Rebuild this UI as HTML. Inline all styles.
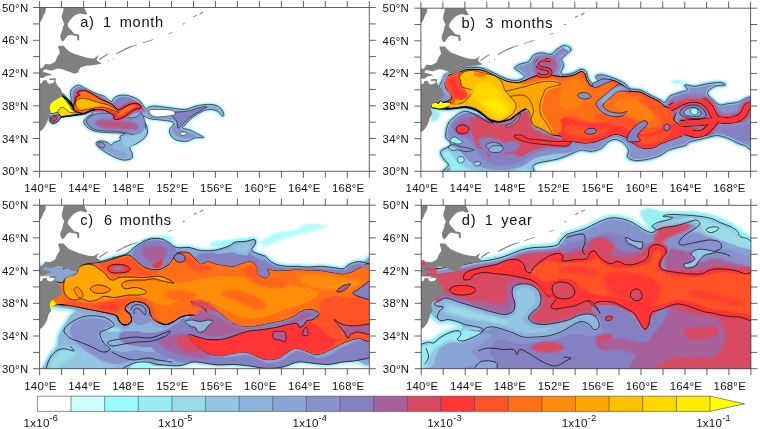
<!DOCTYPE html>
<html><head><meta charset="utf-8"><title>plume</title>
<style>
html,body{margin:0;padding:0;background:#fff;}
body{width:760px;height:429px;overflow:hidden;}
svg{display:block;}
text{font-family:"Liberation Sans",sans-serif;fill:#111;}
.tk{font-size:11.4px;letter-spacing:0.25px;}
.tt{font-size:14.6px;letter-spacing:0.72px;}
.cb{font-size:11.6px;letter-spacing:0.2px;}
</style></head><body>
<svg width="760" height="429" viewBox="0 0 760 429">
<defs>
<clipPath id="cpa"><rect x="39.6" y="7.5" width="329.7" height="163.8"/></clipPath>
<clipPath id="cpb"><rect x="420.9" y="8.2" width="329.7" height="163.1"/></clipPath>
<clipPath id="cpc"><rect x="39.6" y="205.2" width="329.7" height="163.5"/></clipPath>
<clipPath id="cpd"><rect x="421.2" y="205.3" width="329.7" height="163.4"/></clipPath>
<filter id="bl1" x="-10%" y="-10%" width="120%" height="120%"><feGaussianBlur stdDeviation="0.8"/></filter>
<filter id="bl2" x="-10%" y="-10%" width="120%" height="120%"><feGaussianBlur stdDeviation="1.6"/></filter>
</defs>
<rect width="760" height="429" fill="#fff"/>
<!-- panel a -->
<g clip-path="url(#cpa)">
<path d="M61.7 93.8C64.1 93 65 96.2 66.5 97.5C68 98.8 70.2 101.8 70.9 101.7C71.6 101.6 71 98.5 70.9 97.1C70.8 95.7 70.2 94.5 70.3 93.2C70.4 91.9 70.7 90.4 71.6 89.2C72.5 88 74.2 86.6 75.5 85.9C76.8 85.2 78.2 85.1 79.5 85.3C80.8 85.5 81.9 86.4 83.4 87.2C84.9 88 87 89 88.7 89.9C90.5 90.8 92.2 91.7 93.9 92.5C95.7 93.3 97.4 93.8 99.2 94.5C101 95.2 103 95.5 104.5 96.4C106 97.3 107.2 98.8 108.4 99.7C109.6 100.6 110.9 101.8 111.7 101.7C112.5 101.6 112.2 99.9 113 99C113.8 98.1 114.9 97.1 116.3 96.4C117.7 95.8 119.6 95.2 121.6 95.1C123.6 94.9 126 95 128.2 95.5C130.4 96 132.7 96.9 134.7 97.8C136.7 98.7 138.6 99.8 140 101C141.4 102.2 142 103.8 143 105C144 106.2 145 108.2 146 108.5C147 108.8 147.3 107.4 148.8 107C150.3 106.6 151.5 105.9 155 106C158.5 106.1 165 107.2 170 107.8C175 108.3 180.8 109.5 185 109.3C189.2 109 191.7 107.1 195 106.3C198.3 105.5 201.7 104.7 205 104.5C208.3 104.3 212.3 104.3 215 105C217.7 105.7 219.8 107.3 221.3 108.8C222.8 110.3 223.6 112.5 223.8 113.8C224 115 223.6 116.7 222.5 116.3C221.4 115.9 219.6 112.4 217.5 111.3C215.4 110.2 212.5 109.5 210 109.5C207.5 109.5 205.4 110 202.5 111.3C199.6 112.6 195.4 115.2 192.5 117.5C189.6 119.8 186.7 123.2 185 125C183.3 126.8 181.7 127.2 182.5 128C183.3 128.8 187.5 129 190 130C192.5 131 195.2 132.6 197.5 133.8C199.8 135.1 204.2 136.8 203.8 137.5C203.4 138.2 197.7 137.4 195 138C192.3 138.6 190.4 140.9 187.5 141.3C184.6 141.7 180.2 141.3 177.5 140.5C174.8 139.7 172.6 138.1 171.3 136.3C170 134.6 169.1 132.1 169.5 130C169.9 127.9 173.7 125.2 173.8 123.8C173.9 122.3 172.3 121.9 170 121.3C167.7 120.7 163.3 120.4 160 120C156.7 119.6 152.7 119.4 150 118.8C147.3 118.2 145.2 116.3 143.8 116.3C142.4 116.3 140.9 117.3 141.3 118.8C141.7 120.2 145.3 122.7 146.3 125C147.3 127.3 147.9 130.2 147.5 132.5C147.1 134.8 145.7 136.9 143.8 138.8C141.9 140.7 138.6 142.4 136.3 143.8C134 145.2 130.6 145.8 130 147.5C129.4 149.2 132.3 151.9 132.5 153.8C132.7 155.7 133 157.8 131.3 158.8C129.6 159.8 125.6 160.4 122.5 160C119.4 159.6 115.6 157.8 112.5 156.3C109.4 154.9 106.3 153 103.8 151.3C101.3 149.6 98.8 147.8 97.5 146.3C96.2 144.8 95.7 143.4 96.3 142.5C96.9 141.6 99.4 140.8 101.3 140.8C103.2 140.8 105.8 141.8 107.5 142.5C109.2 143.2 110.2 145 111.3 145C112.3 145 112.3 143.3 113.8 142.5C115.2 141.7 119 141 120 140C121 139 119.2 137.3 120 136.3C120.8 135.3 125.4 134.4 125 133.8C124.6 133.2 120.8 133.2 117.5 133C114.2 132.8 108.8 132.8 105 132.5C101.2 132.2 97.9 132.1 95 131.3C92.1 130.5 89.4 129 87.5 127.5C85.6 126 84 124.2 83.8 122.5C83.6 120.8 84.8 119 86.3 117.5C87.8 116 91.9 114.6 92.5 113.8C93.1 113 91.5 112.4 90 112.5C88.5 112.6 85.8 114.1 83.4 114.6C81 115.1 78.3 115.2 75.5 115.5C72.7 115.8 68.6 116.3 66.3 116.6C64 116.9 62.9 116.7 61.5 117.5C60.1 118.3 59.2 120.5 58 121.5C56.8 122.5 55.2 123.3 54 123.5C52.8 123.7 51.3 123.4 50.5 122.5C49.7 121.6 49.2 120.4 49 118C48.8 115.6 48.5 110.7 49 108C49.5 105.3 49.9 104.4 52 102C54.1 99.6 59.3 94.5 61.7 93.8Z" fill="#99eef2" stroke="#99eef2" stroke-width="3" stroke-linejoin="round" filter="url(#bl1)"/>
<path d="M61.7 93.8C64.1 93 65 96.2 66.5 97.5C68 98.8 70.2 101.8 70.9 101.7C71.6 101.6 71 98.5 70.9 97.1C70.8 95.7 70.2 94.5 70.3 93.2C70.4 91.9 70.7 90.4 71.6 89.2C72.5 88 74.2 86.6 75.5 85.9C76.8 85.2 78.2 85.1 79.5 85.3C80.8 85.5 81.9 86.4 83.4 87.2C84.9 88 87 89 88.7 89.9C90.5 90.8 92.2 91.7 93.9 92.5C95.7 93.3 97.4 93.8 99.2 94.5C101 95.2 103 95.5 104.5 96.4C106 97.3 107.2 98.8 108.4 99.7C109.6 100.6 110.9 101.8 111.7 101.7C112.5 101.6 112.2 99.9 113 99C113.8 98.1 114.9 97.1 116.3 96.4C117.7 95.8 119.6 95.2 121.6 95.1C123.6 94.9 126 95 128.2 95.5C130.4 96 132.7 96.9 134.7 97.8C136.7 98.7 138.6 99.8 140 101C141.4 102.2 142 103.8 143 105C144 106.2 145 108.2 146 108.5C147 108.8 147.3 107.4 148.8 107C150.3 106.6 151.5 105.9 155 106C158.5 106.1 165 107.2 170 107.8C175 108.3 180.8 109.5 185 109.3C189.2 109 191.7 107.1 195 106.3C198.3 105.5 201.7 104.7 205 104.5C208.3 104.3 212.3 104.3 215 105C217.7 105.7 219.8 107.3 221.3 108.8C222.8 110.3 223.6 112.5 223.8 113.8C224 115 223.6 116.7 222.5 116.3C221.4 115.9 219.6 112.4 217.5 111.3C215.4 110.2 212.5 109.5 210 109.5C207.5 109.5 205.4 110 202.5 111.3C199.6 112.6 195.4 115.2 192.5 117.5C189.6 119.8 186.7 123.2 185 125C183.3 126.8 181.7 127.2 182.5 128C183.3 128.8 187.5 129 190 130C192.5 131 195.2 132.6 197.5 133.8C199.8 135.1 204.2 136.8 203.8 137.5C203.4 138.2 197.7 137.4 195 138C192.3 138.6 190.4 140.9 187.5 141.3C184.6 141.7 180.2 141.3 177.5 140.5C174.8 139.7 172.6 138.1 171.3 136.3C170 134.6 169.1 132.1 169.5 130C169.9 127.9 173.7 125.2 173.8 123.8C173.9 122.3 172.3 121.9 170 121.3C167.7 120.7 163.3 120.4 160 120C156.7 119.6 152.7 119.4 150 118.8C147.3 118.2 145.2 116.3 143.8 116.3C142.4 116.3 140.9 117.3 141.3 118.8C141.7 120.2 145.3 122.7 146.3 125C147.3 127.3 147.9 130.2 147.5 132.5C147.1 134.8 145.7 136.9 143.8 138.8C141.9 140.7 138.6 142.4 136.3 143.8C134 145.2 130.6 145.8 130 147.5C129.4 149.2 132.3 151.9 132.5 153.8C132.7 155.7 133 157.8 131.3 158.8C129.6 159.8 125.6 160.4 122.5 160C119.4 159.6 115.6 157.8 112.5 156.3C109.4 154.9 106.3 153 103.8 151.3C101.3 149.6 98.8 147.8 97.5 146.3C96.2 144.8 95.7 143.4 96.3 142.5C96.9 141.6 99.4 140.8 101.3 140.8C103.2 140.8 105.8 141.8 107.5 142.5C109.2 143.2 110.2 145 111.3 145C112.3 145 112.3 143.3 113.8 142.5C115.2 141.7 119 141 120 140C121 139 119.2 137.3 120 136.3C120.8 135.3 125.4 134.4 125 133.8C124.6 133.2 120.8 133.2 117.5 133C114.2 132.8 108.8 132.8 105 132.5C101.2 132.2 97.9 132.1 95 131.3C92.1 130.5 89.4 129 87.5 127.5C85.6 126 84 124.2 83.8 122.5C83.6 120.8 84.8 119 86.3 117.5C87.8 116 91.9 114.6 92.5 113.8C93.1 113 91.5 112.4 90 112.5C88.5 112.6 85.8 114.1 83.4 114.6C81 115.1 78.3 115.2 75.5 115.5C72.7 115.8 68.6 116.3 66.3 116.6C64 116.9 62.9 116.7 61.5 117.5C60.1 118.3 59.2 120.5 58 121.5C56.8 122.5 55.2 123.3 54 123.5C52.8 123.7 51.3 123.4 50.5 122.5C49.7 121.6 49.2 120.4 49 118C48.8 115.6 48.5 110.7 49 108C49.5 105.3 49.9 104.4 52 102C54.1 99.6 59.3 94.5 61.7 93.8Z" fill="#8db5dc" stroke="#000" stroke-width="0.6" stroke-linejoin="round"/>
<path d="M146 110.5C146.2 111.8 148 115.7 150 117C152 118.3 155 118.2 158 118.5C161 118.8 165.2 118.7 168 119C170.8 119.3 173.7 119.7 175 120.5C176.3 121.3 176.5 122.6 176 124C175.5 125.4 172.3 127.3 172 129C171.7 130.7 172.7 132.6 174 134C175.3 135.4 177.7 136.8 180 137.5C182.3 138.2 185.3 138.7 188 138.5C190.7 138.3 195.7 137.5 196 136.5C196.3 135.5 192.3 133.6 190 132.5C187.7 131.4 183.7 130.9 182 130C180.3 129.1 179.7 128.3 180 127C180.3 125.7 182.2 123.8 184 122C185.8 120.2 188.3 118 191 116C193.7 114 197.2 111.4 200 110C202.8 108.6 205.7 108 208 107.5C210.3 107 212.2 106.6 214 107C215.8 107.4 218.7 109.8 219 110C219.3 110.2 217.8 109.1 216 108.5C214.2 107.9 211 106.6 208 106.5C205 106.4 201 107.2 198 108C195 108.8 192.3 110.8 190 111.5C187.7 112.2 186.3 111.2 184 112C181.7 112.8 178.7 115.1 176 116C173.3 116.9 171 117.3 168 117.5C165 117.7 160.8 117.6 158 117C155.2 116.4 152.5 115.2 151 114C149.5 112.8 149.8 110.1 149 109.5C148.2 108.9 145.8 109.2 146 110.5Z" fill="#8792cc"/>
<path d="M176 112C178.3 111.8 181.3 111.8 184 111.5C186.7 111.2 189.3 110.7 192 110C194.7 109.3 197.5 108 200 107.5C202.5 107 207 106.4 207 107C207 107.6 202.5 109.5 200 111C197.5 112.5 194.3 114.3 192 116C189.7 117.7 187.8 119.3 186 121C184.2 122.7 182.3 124.8 181 126C179.7 127.2 178.7 128.7 178 128C177.3 127.3 177.7 123.7 177 122C176.3 120.3 175.2 119.5 174 118C172.8 116.5 169.7 114 170 113C170.3 112 173.7 112.2 176 112Z" fill="#8580c2" stroke="#000" stroke-width="0.5" stroke-linejoin="round"/>
<path d="M88 118C89.2 116.8 91.7 115.3 94 114.5C96.3 113.7 99 113.1 102 113C105 112.9 109 113.3 112 114C115 114.7 117.3 116.3 120 117C122.7 117.7 125.3 118 128 118C130.7 118 133.8 117.8 136 117C138.2 116.2 139.7 112.8 141 113C142.3 113.2 143.2 116 144 118C144.8 120 145.3 122.7 145.5 125C145.7 127.3 145.9 130.2 145 132C144.1 133.8 142.5 135.7 140 136C137.5 136.3 133.7 134.8 130 134C126.3 133.2 122.2 132 118 131.5C113.8 131 108.8 131.3 105 131C101.2 130.7 97.7 130.3 95 129.5C92.3 128.7 90.4 127.2 89 126C87.6 124.8 86.7 123.3 86.5 122C86.3 120.7 86.8 119.2 88 118Z" fill="#8792cc" stroke="#000" stroke-width="0.5" stroke-linejoin="round"/>
<path d="M96 121C97.2 119.8 101 119.2 104 119C107 118.8 110.7 119.2 114 119.5C117.3 119.8 121 120.6 124 121C127 121.4 129.7 121.3 132 122C134.3 122.7 137.3 123.8 138 125C138.7 126.2 137.7 128.7 136 129.5C134.3 130.3 131.3 130.1 128 130C124.7 129.9 120 129.2 116 129C112 128.8 107.2 129 104 128.5C100.8 128 98.3 127.2 97 126C95.7 124.8 94.8 122.2 96 121Z" fill="#a8609a" filter="url(#bl1)"/>
<path d="M102 122.5C103 121.7 107 121.5 110 121.5C113 121.5 117 122.1 120 122.5C123 122.9 126 123.3 128 124C130 124.7 132.3 125.8 132 126.5C131.7 127.2 129 127.8 126 128C123 128.2 117.7 127.8 114 127.5C110.3 127.2 106 127.3 104 126.5C102 125.7 101 123.3 102 122.5Z" fill="#d84a62" opacity="0.45" filter="url(#bl1)"/>
<path d="M100 143C101.1 142.8 104.2 143.8 106 144.5C107.8 145.2 109.3 147.4 111 147.5C112.7 147.6 114.2 145.9 116 145C117.8 144.1 120.3 143.3 122 142C123.7 140.7 124.3 138 126 137C127.7 136 129.7 136 132 136C134.3 136 139.3 136 140 137C140.7 138 137.7 140.4 136 142C134.3 143.6 130.8 144.7 130 146.5C129.2 148.3 131.2 151.2 131 153C130.8 154.8 130.5 156.2 129 157C127.5 157.8 124.7 158.4 122 158C119.3 157.6 115.8 155.8 113 154.5C110.2 153.2 107.2 151.4 105 150C102.8 148.6 100.3 147.2 99.5 146C98.7 144.8 98.9 143.2 100 143Z" fill="#8db5dc" opacity="0.0"/>
<path d="M124 136.5C125.7 135.5 129.2 136.1 132 135.5C134.8 134.9 138.8 134.2 141 133C143.2 131.8 144.2 128.1 145 128C145.8 127.9 146.3 130.8 146 132.5C145.7 134.2 144.7 136.2 143 138C141.3 139.8 138.2 141.5 136 143C133.8 144.5 131.7 146.5 130 147C128.3 147.5 127.3 146.9 126 146C124.7 145.1 122.3 143.1 122 141.5C121.7 139.9 122.3 137.5 124 136.5Z" fill="#92c6e2"/>
<path d="M99 143C99.8 142.2 102.3 141.8 104 142C105.7 142.2 107.5 143.6 109 144.5C110.5 145.4 111.5 146.6 113 147.5C114.5 148.4 116.2 149.2 118 150C119.8 150.8 122.3 151.2 124 152C125.7 152.8 128.3 154 128 155C127.7 156 124.5 158.1 122 158C119.5 157.9 115.8 155.8 113 154.5C110.2 153.2 107.2 151.8 105 150.5C102.8 149.2 100.5 148.2 99.5 147C98.5 145.8 98.2 143.8 99 143Z" fill="#8aa4d6"/>
<path d="M98 143C98.5 142.3 100.8 142.2 102 142.5C103.2 142.8 104.8 144.1 105 145C105.2 145.9 104 147.8 103 148C102 148.2 99.8 147.3 99 146.5C98.2 145.7 97.5 143.7 98 143Z" fill="#8792cc" stroke="#000" stroke-width="0.5" stroke-linejoin="round"/>
<path d="M150.1 109.8C151.8 109.3 156.4 109.5 159.6 109.5C162.8 109.5 166.7 109.5 169.1 109.8C171.5 110.1 173 110.6 173.9 111.4C174.8 112.2 175.8 113.7 174.7 114.5C173.6 115.3 170.5 115.7 167.5 116.1C164.5 116.5 159.1 117 156.5 116.9C153.9 116.8 152.9 116.1 151.7 115.3C150.5 114.5 149.6 113.1 149.3 112.2C149 111.3 148.4 110.2 150.1 109.8Z" fill="#ffffff" stroke="#000" stroke-width="0.5" stroke-linejoin="round"/>
<path d="M180.2 133.5C180.4 133 181.9 132.1 183 132C184.1 131.9 186.3 132.5 186.6 133C186.9 133.5 185.8 134.8 185 135.1C184.2 135.4 182.3 135.4 181.5 135.1C180.7 134.8 179.9 134 180.2 133.5Z" fill="#ffffff" stroke="#000" stroke-width="0.5" stroke-linejoin="round"/>
<path d="M72.5 102C72.6 99.7 72.3 96.9 72.5 95C72.7 93.1 72.8 91.8 73.5 90.5C74.2 89.2 75.8 88 77 87.5C78.2 87 79.5 86.9 81 87.2C82.5 87.5 84.2 88.6 86 89.5C87.8 90.4 90 91.5 92 92.5C94 93.5 96 94.6 98 95.5C100 96.4 102.2 97 104 98C105.8 99 107.5 100.7 109 101.5C110.5 102.3 111.8 103.3 113 103C114.2 102.7 114.7 100.5 116 99.5C117.3 98.5 119 97.6 121 97.3C123 97 125.8 97 128 97.5C130.2 98 132.2 99.1 134 100C135.8 100.9 137.5 101.8 139 103C140.5 104.2 141.8 105.6 143 107C144.2 108.4 146.2 110.5 146 111.5C145.8 112.5 143.7 112.8 142 113C140.3 113.2 138 112.5 136 113C134 113.5 131.8 114.9 130 116C128.2 117.1 127 118.5 125 119.5C123 120.5 120.2 121.9 118 122C115.8 122.1 113.2 121.2 112 120C110.8 118.8 112.2 116.3 111 115C109.8 113.7 107.5 112.5 105 112C102.5 111.5 98.5 111.8 96 112C93.5 112.2 92.1 112.5 90 113C87.9 113.5 85.7 114.9 83.4 115C81.1 115.1 77.9 114.5 76 113.5C74.1 112.5 72.6 110.9 72 109C71.4 107.1 72.4 104.3 72.5 102Z" fill="#8580c2"/>
<path d="M73.5 102C73.7 100 73.6 97.8 74 96C74.4 94.2 75 92.7 76 91.5C77 90.3 78.5 89.3 80 89C81.5 88.7 83.2 89 85 89.5C86.8 90 89.2 91.1 91 92C92.8 92.9 94.2 93.9 96 95C97.8 96.1 99.9 97.4 102 98.5C104.1 99.6 106.5 100.4 108.4 101.4C110.4 102.4 112.3 103.5 113.7 104.5C115.1 105.5 115.8 107.2 117 107.5C118.2 107.8 119.5 107.2 121 106.5C122.5 105.8 124.2 104.3 126 103.5C127.8 102.7 130.1 101.8 132 101.5C133.9 101.2 135.9 101.3 137.5 102C139.1 102.7 140.5 104.3 141.5 105.5C142.5 106.7 143.8 108.2 143.5 109C143.2 109.8 141.4 110.1 140 110.5C138.6 110.9 136.7 110.8 135 111.5C133.3 112.2 131.7 113.4 130 114.5C128.3 115.6 127 117 125 118C123 119 120 120.6 118 120.8C116 121 113.8 120 113 119C112.2 118 114 115.6 113.5 114.5C113 113.4 111.8 113.1 110 112.5C108.2 111.9 105.5 111.2 103 111C100.5 110.8 97.5 110.8 95.3 111C93.1 111.2 92 111.4 90 112C88 112.6 85.7 114.3 83.4 114.4C81.2 114.5 78.3 113.9 76.5 112.8C74.7 111.7 73.3 109.8 72.8 108C72.3 106.2 73.3 104 73.5 102Z" fill="#d84a62"/>
<path d="M74.9 101.7C75.2 100.6 75.4 98.2 76.2 97.1C77 96 79.3 95.8 79.5 95.1C79.7 94.4 77.5 93.8 77.5 93.2C77.5 92.6 78.3 91.7 79.5 91.2C80.7 90.8 83 90.3 84.7 90.5C86.5 90.7 88.2 91.6 90 92.5C91.8 93.4 93.3 94.6 95.3 95.8C97.3 97 99.6 98.6 101.8 99.7C104 100.8 106.4 101.4 108.4 102.4C110.4 103.4 112.2 104.5 113.7 105.7C115.2 106.9 116.3 109.1 117.6 109.6C118.9 110.1 120.1 109.6 121.6 108.9C123.1 108.2 125 106.6 126.8 105.7C128.6 104.8 130.3 104 132.1 103.7C133.9 103.4 136.1 103.5 137.4 103.7C138.7 103.9 139.4 104.5 140 105C140.6 105.5 141 106.5 141 107C141 107.5 141.1 107.9 140 108.3C138.9 108.7 136.4 108.8 134.7 109.6C132.9 110.4 131.2 111.7 129.5 112.9C127.8 114.1 126.2 115.7 124.2 116.8C122.2 117.9 119.3 119.2 117.6 119.5C115.8 119.8 114.3 119.3 113.7 118.6C113.1 117.9 114.8 116.5 114 115.5C113.2 114.5 110.8 113.5 109 112.6C107.2 111.7 105.5 110.5 103.2 110C100.9 109.5 97.5 109.4 95.3 109.6C93.1 109.8 92 110.2 90 110.9C88 111.6 85.6 113.5 83.4 113.6C81.2 113.7 78.4 112.6 76.8 111.6C75.2 110.6 74 108.9 73.6 107.6C73.2 106.3 74 104.7 74.2 103.7C74.4 102.7 74.6 102.8 74.9 101.7Z" fill="#ff3434" stroke="#000" stroke-width="0.8" stroke-linejoin="round"/>
<path d="M76.2 101.7C76.5 100.7 76.6 98.6 77.4 97.5C78.2 96.4 80.5 96 80.8 95.3C81.1 94.6 79 93.8 79 93.2C79 92.7 79.5 92.3 80.5 92C81.5 91.7 83.2 91.3 84.7 91.6C86.2 91.8 87.8 92.6 89.5 93.5C91.2 94.4 93 95.6 95 96.8C97 98 99.3 99.5 101.5 100.6C103.7 101.7 106.1 102.4 108 103.4C109.9 104.4 111.6 105.4 113 106.5C114.4 107.6 115.4 109.4 116.5 110.2C117.6 111 118.4 111.6 119.5 111.5C120.6 111.4 121.8 110.5 123 109.8C124.2 109 125.5 107.8 127 107C128.5 106.2 130.5 105.3 132 105C133.5 104.7 135.8 104.5 136 105C136.2 105.5 134.3 107 133 108C131.7 109 129.7 109.9 128 111C126.3 112.1 124.6 113.7 123 114.5C121.4 115.3 119.5 116.2 118.5 116C117.5 115.8 118.1 113.9 117 113C115.9 112.1 114.3 111.2 112 110.5C109.7 109.8 106 108.9 103.2 108.6C100.4 108.3 97.5 108.4 95.3 108.6C93.1 108.8 92 109.2 90 109.9C88 110.6 85.5 112.4 83.4 112.5C81.3 112.6 78.9 111.6 77.5 110.7C76.1 109.8 75.1 108.5 74.8 107.3C74.5 106.1 75.2 104.6 75.4 103.7C75.6 102.8 75.9 102.7 76.2 101.7Z" fill="#ff7016"/>
<path d="M75.5 103.7C75.5 102.3 76.4 100.6 77.5 99.7C78.6 98.8 80 98.4 82.1 98.4C84.2 98.4 87.4 99 90 99.7C92.6 100.4 95.3 101.6 97.9 102.4C100.5 103.2 103.4 103.5 105.8 104.3C108.2 105.1 110.5 106 112.4 107C114.3 108 115.9 109.3 117 110.3C118.1 111.3 119.2 112.8 118.9 112.9C118.6 113 116.8 111.7 115 110.9C113.2 110.1 110.8 109 108.4 108.3C106 107.6 103.1 107 100.5 107C97.9 107 95 107.9 92.6 108.3C90.2 108.7 88.1 109.3 86.1 109.6C84.1 109.9 82.2 110.5 80.8 110.3C79.4 110.1 78.4 109.4 77.5 108.3C76.6 107.2 75.5 105.1 75.5 103.7Z" fill="#ffa600" stroke="#000" stroke-width="0.6" stroke-linejoin="round"/>
<path d="M77 104C77 102.8 77.7 101.2 78.5 100.5C79.3 99.8 80.4 99.5 82 99.5C83.6 99.5 86 100 88 100.5C90 101 92 101.8 94 102.5C96 103.2 100 103.8 100 104.5C100 105.2 96 106 94 106.5C92 107 90 107.1 88 107.5C86 107.9 83.6 108.8 82 108.8C80.4 108.8 79.3 108.3 78.5 107.5C77.7 106.7 77 105.2 77 104Z" fill="#ffc000" filter="url(#bl1)"/>
<path d="M61.5 94L66.5 97.8L71.5 102L73.8 106.5L73.8 111L71.6 106.6L67.2 101.3L62 96.2Z" fill="#000"/>
<path d="M68 103.5C68.4 104.2 69.8 106.2 70.5 107.5C71.2 108.8 72.2 110.4 72.5 111" fill="none" stroke="#b04000" stroke-width="0.5" stroke-linejoin="round"/>
<path d="M61.7 96C62.9 96.8 64.9 99.2 66.2 100.8C67.5 102.4 68.6 103.8 69.7 105.4C70.8 107 71.5 109.1 72.6 110.2C73.6 111.3 74.8 111.8 76 112.3C77.2 112.8 78.3 112.7 79.5 112.9C80.7 113.1 84.1 113.3 83.4 113.6C82.7 113.9 78.3 114.5 75.5 114.9C72.7 115.3 68.6 115.9 66.3 116.2C64 116.5 62.8 117 61.7 116.8C60.6 116.6 60.5 115.7 59.7 114.9C58.9 114.1 58.2 112.4 57.1 112.2C56 112 54.4 113.5 53.2 113.6C52 113.6 51 113.4 50 112.5C49 111.6 47.5 109.4 47 108C46.5 106.6 46.3 105.2 47 104C47.7 102.8 49.7 101.4 51 100.5C52.3 99.6 53.7 99.2 55 98.5C56.3 97.8 57.9 96.4 59 96C60.1 95.6 60.5 95.2 61.7 96Z" fill="#ffff00" stroke="#000" stroke-width="0.7" stroke-linejoin="round"/>
<path d="M57.8 111.6C58 110.4 59.8 108.1 61 107.6C62.2 107 63.8 107.6 65 108.3C66.2 109 66.8 110.8 68.3 111.6C69.8 112.4 71.7 112.6 74.2 112.9C76.7 113.2 83.2 113.3 83.4 113.6C83.6 113.9 78.3 114.5 75.5 114.9C72.7 115.3 68.6 115.9 66.3 116.2C64 116.5 62.8 117 61.7 116.8C60.6 116.6 60.4 115.8 59.7 114.9C59.1 114 57.6 112.8 57.8 111.6Z" fill="#ffd800" stroke="#000" stroke-width="0.6" stroke-linejoin="round"/>
<path d="M61.7 116.8C62.5 116.7 64 116.5 66.3 116.2C68.6 115.9 72.7 115.3 75.5 114.9C78.3 114.5 81 114.3 83.4 113.6C85.8 112.9 88 111.6 90 110.9C92 110.2 94.4 109.8 95.3 109.6" fill="none" stroke="#000" stroke-width="1.4" stroke-linejoin="round"/>
<path d="M50.5 117C51 115.9 52.8 115.8 54 115.5C55.2 115.2 56.8 114.8 58 115C59.2 115.2 60.9 115.6 61 116.5C61.1 117.4 59.6 119.4 58.5 120.5C57.4 121.6 55.8 122.8 54.5 123C53.2 123.2 51.7 123 51 122C50.3 121 50 118.1 50.5 117Z" fill="#8580c2" stroke="#000" stroke-width="0.6" stroke-linejoin="round"/>
<path d="M51.8 118.5C52.1 117.8 53.6 116.7 54.5 116.5C55.4 116.3 56.8 116.8 57 117.5C57.2 118.2 56.2 119.9 55.5 120.5C54.8 121.1 53.4 121.3 52.8 121C52.2 120.7 51.5 119.2 51.8 118.5Z" fill="#ff3434" stroke="#000" stroke-width="0.5" stroke-linejoin="round"/>
<g fill="#808080" transform="translate(0 0)">
<path d="M39 78.6H55.4V84.3H39Z" fill="#fff"/>
<path d="M39.5 7.5L45.9 7.5L45.6 11.9L44.6 13.5L43.2 15.8L42.6 18L41.6 19.8L40.8 21.5L39.5 22Z"/>
<path d="M63.6 7.5L84 7.5L85.5 10.5L87.3 14.2L85 14.6L80.7 13.4L77 14.2L74.2 15.8L71.5 18.5L69.5 21.1L68 23.5L67.6 25.7L69 27.8L70.9 29.7L72.5 31.8L74.2 33.6L76.5 34L78.8 34.5L79.3 37L79.2 40.2L77.4 40.4L77.2 38L77 36.2L75 35.8L73.5 35.6L71 35L68.9 34.9L67 36.5L65.6 38.2L64.4 40L63 41.5L61.6 40.8L61 39.5L60.3 37.5L60.3 35.6L61.2 33L62.3 30.3L62.8 28.3L63 26.4L63.8 25L64.3 23.7L63.2 21.8L62.3 19.8L61.8 18L61.7 16.5L62.3 14L63 11.9L63.4 9.6Z"/>
<path d="M58.4 45.7L63.6 45.7L66 48.5L68.9 51.2L73.5 53.4L78.1 55.1L82.7 56.6L87.3 57.8L90.6 58.3L93.9 58.4L96.4 56.8L98.7 55L97.6 57.5L96.5 59.7L98.5 61.5L101.3 63.5L97.5 64.5L93.9 65L90 65.4L86 65.7L83.2 66.5L80.7 67.6L79 70L78.1 72.6L75.5 73.4L73.5 73.4L71.5 72.6L66.9 70.9L62.3 69.3L58.4 68.6L55.1 69.3L51.8 70.6L49.2 70.3L45.9 69.3L43.9 70L42.9 71.9L45.9 72.6L49.2 73.6L52.1 74.9L49.2 75.4L45.9 75.9L43.9 77.5L41.9 78.2L39.5 77.2L39.5 67.3L41.3 68.5L43.9 66.3L45.2 63.7L47.8 64.2L50.5 64.3L53 63L55.1 61.7L56.2 59.4L57.1 57.1L58.4 55L59.7 53.2L59.4 51L59 49.2L58.2 47.5Z"/>
<path d="M39.5 83.8L42 83L43.2 80.5L46.5 80.1L47.2 82.4L49.2 83.8L52 83.2L54 82.3L54.5 80.5L52.5 80.1L49.5 80.3L49.2 78.8L52.4 78.2L56.4 78.5L55.6 80.3L55.8 82.4L56.7 84L57.7 85.7L59 87.2L60.3 88.4L61.5 90.5L62.2 93L62.5 95.7L60.5 97.3L58.4 98.4L55.5 100L53.1 101.7L51 103.5L50 106L49.8 108.2L50.3 110.5L51.1 112.8L49.8 115L48.5 116.8L47.8 119.5L47.2 122L46 124.5L44.6 126.7L43.3 128.5L41.9 130L39.5 131.5Z"/>
<path d="M98.8 59.6L101 57.7L104 55.8L108 53.6L108.4 54.3L105 56.6L102 58.5L99.4 60.3Z"/>
<path d="M116 53.6L119 51.8L122 50.3L125 48.6L128 47.3L131 46.1L134 45.2L137 44.5L137.2 45.2L134 46.1L130 47.7L126.5 49.3L123 50.9L120 52.6L116.6 54.3Z"/>
<path d="M142.5 42.6L145 41.7L148 40.7L150.5 39.9L153 39.2L153.2 39.9L150.5 40.7L148 41.5L145.5 42.4L142.8 43.3Z"/>
<path d="M107.8 60.6L108.8 60.6L108.8 61.4L107.8 61.4Z"/>
<path d="M112.8 58.6L113.8 58.6L113.8 59.4L112.8 59.4Z"/>
<path d="M168 33.5L170 32.8L172.4 32.2L172.6 32.8L170 33.5L168.2 34.1Z"/>
<path d="M182.8 23.4L184.5 23.1L184.7 24.2L183 24.5Z"/>
<path d="M193.4 16.4L195 15.5L196.6 14.8L197 15.7L195.2 16.6L193.7 17.3Z"/>
<path d="M199.4 13.8L201 12.8L203 11.8L203.4 12.7L201.3 13.7L199.8 14.7Z"/>
</g>
</g>
<path d="M39.6 7.5H369.3V171.3H39.6ZM39.6 7.5v-6.5M39.6 171.3v6.5M61.6 7.5v-6.5M61.6 171.3v6.5M83.6 7.5v-6.5M83.6 171.3v6.5M105.5 7.5v-6.5M105.5 171.3v6.5M127.5 7.5v-6.5M127.5 171.3v6.5M149.5 7.5v-6.5M149.5 171.3v6.5M171.5 7.5v-6.5M171.5 171.3v6.5M193.5 7.5v-6.5M193.5 171.3v6.5M215.4 7.5v-6.5M215.4 171.3v6.5M237.4 7.5v-6.5M237.4 171.3v6.5M259.4 7.5v-6.5M259.4 171.3v6.5M281.4 7.5v-6.5M281.4 171.3v6.5M303.4 7.5v-6.5M303.4 171.3v6.5M325.3 7.5v-6.5M325.3 171.3v6.5M347.3 7.5v-6.5M347.3 171.3v6.5M369.3 7.5v-6.5M369.3 171.3v6.5M39.6 7.5h-6.5M369.3 7.5h6.5M39.6 23.9h-6.5M369.3 23.9h6.5M39.6 40.3h-6.5M369.3 40.3h6.5M39.6 56.6h-6.5M369.3 56.6h6.5M39.6 73h-6.5M369.3 73h6.5M39.6 89.4h-6.5M369.3 89.4h6.5M39.6 105.8h-6.5M369.3 105.8h6.5M39.6 122.2h-6.5M369.3 122.2h6.5M39.6 138.5h-6.5M369.3 138.5h6.5M39.6 154.9h-6.5M369.3 154.9h6.5M39.6 171.3h-6.5M369.3 171.3h6.5" fill="none" stroke="#444" stroke-width="0.85"/>
<g opacity="0.999"><text x="40.5" y="192.4" text-anchor="middle" class="tk">140°E</text>
<text x="84.5" y="192.4" text-anchor="middle" class="tk">144°E</text>
<text x="128.4" y="192.4" text-anchor="middle" class="tk">148°E</text>
<text x="172.4" y="192.4" text-anchor="middle" class="tk">152°E</text>
<text x="216.3" y="192.4" text-anchor="middle" class="tk">156°E</text>
<text x="260.3" y="192.4" text-anchor="middle" class="tk">160°E</text>
<text x="304.3" y="192.4" text-anchor="middle" class="tk">164°E</text>
<text x="348.2" y="192.4" text-anchor="middle" class="tk">168°E</text>
<text x="28.4" y="175.3" text-anchor="end" class="tk">30°N</text>
<text x="28.4" y="142.5" text-anchor="end" class="tk">34°N</text>
<text x="28.4" y="109.8" text-anchor="end" class="tk">38°N</text>
<text x="28.4" y="77" text-anchor="end" class="tk">42°N</text>
<text x="28.4" y="44.3" text-anchor="end" class="tk">46°N</text>
<text x="28.4" y="11.5" text-anchor="end" class="tk">50°N</text>
<text x="80.2" y="26.9" class="tt">a)</text>
<text x="103.1" y="26.9" class="tt">1</text>
<text x="119.7" y="26.9" class="tt">month</text></g>
<!-- panel b -->
<g clip-path="url(#cpb)">
<path d="M442.3 80.5C444.8 75.7 443.3 76 446 74.3C448.7 72.6 454.9 71.6 458.5 70.5C462.1 69.4 463.6 67.9 467.3 67.5C471.1 67.1 477.1 67.3 481 68C484.9 68.7 488.1 70.5 491 71.8C493.9 73 495.8 74.2 498.5 75.5C501.2 76.8 504.2 78.5 507.3 79.3C510.4 80.1 514.4 80.9 517.3 80.5C520.2 80.1 524.4 78.2 524.8 76.8C525.2 75.3 521.5 73.3 519.8 71.8C518.1 70.3 514.8 69.2 514.8 68C514.8 66.8 517.5 65.3 519.8 64.3C522.1 63.3 526.2 63.3 528.5 61.8C530.8 60.3 531.4 57 533.5 55.5C535.6 54 538.1 53.2 541 53C543.9 52.8 548.3 54.9 551 54.3C553.7 53.7 555 50.8 557.3 49.3C559.6 47.8 562.5 45.5 564.8 45.5C567.1 45.5 570.8 47.8 571 49.3C571.2 50.8 567.7 52.8 566 54.3C564.3 55.8 561.4 56.1 561 58C560.6 59.9 563.5 63.2 563.5 65.5C563.5 67.8 561.1 70.2 561 71.8C560.9 73.4 560.9 74.8 563 75C565.1 75.2 570.5 74 573.5 73C576.5 72 578.9 69.5 581 69.3C583.1 69.1 584.8 70.3 586 71.8C587.2 73.2 586.9 76 588 78C589.1 80 590.8 83.3 592.5 83.8C594.2 84.3 597.4 82.2 598 81C598.6 79.8 595.2 77.5 596 76.5C596.8 75.5 599.3 74.6 602.5 75C605.7 75.4 611.2 77.3 615 78.8C618.8 80.3 622.5 82.1 625 83.8C627.5 85.5 627.5 87.8 630 88.8C632.5 89.8 636.7 89 640 90C643.3 91 646.7 93.3 650 95C653.3 96.7 657.5 98.8 660 100C662.5 101.2 663.3 103.1 665 102.5C666.7 101.9 667.5 98 670 96.3C672.5 94.6 677.1 93.5 680 92.5C682.9 91.5 686.7 91.2 687.5 90C688.3 88.8 683.8 85.6 685 85C686.2 84.4 691.2 86.5 695 86.3C698.8 86.1 703.3 84.4 707.5 83.8C711.7 83.2 717.1 82.3 720 82.5C722.9 82.7 725.8 84.4 725 85C724.2 85.6 717.9 85 715 86.3C712.1 87.5 707.9 90.2 707.5 92.5C707.1 94.8 710.4 97.9 712.5 100C714.6 102.1 717.5 104.4 720 105C722.5 105.6 724.6 104.2 727.5 103.8C730.4 103.4 733.1 103.1 737.5 102.5C741.9 101.9 751.2 92.6 754 100C756.8 107.4 755.5 139.4 754 147C752.5 154.6 747.8 146.2 745 145.5C742.2 144.8 740.4 144.2 737.5 143C734.6 141.8 730.8 139.2 727.5 138C724.2 136.8 720.4 135.7 717.5 135.5C714.6 135.3 712.9 136.2 710 136.8C707.1 137.4 703.3 138.5 700 139.3C696.7 140.1 692.5 140.8 690 141.8C687.5 142.8 687.5 144.5 685 145.5C682.5 146.5 677.9 147.2 675 148C672.1 148.8 670 149.2 667.5 150.5C665 151.8 663.3 154 660 155.5C656.7 157 651.7 158.5 647.5 159.3C643.3 160.1 638.3 160.9 635 160.5C631.7 160.1 628.5 158.5 627.5 156.8C626.5 155.1 629.4 152.8 628.8 150.5C628.2 148.2 626.1 144.9 623.8 143C621.5 141.1 617.8 139.4 615 139.3C612.2 139.2 609.3 141 607 142.5C604.7 144 603.7 147 601 148.5C598.3 150 594.3 151.1 591 151.3C587.7 151.6 584.3 149.6 581 150C577.7 150.4 574.8 152.3 571 153.8C567.2 155.3 562.7 157.6 558.5 158.8C554.3 160.1 550.2 160.3 546 161.3C541.8 162.3 536.8 162.6 533.5 165C530.2 167.4 540.4 174.2 526 176C511.6 177.8 459.9 177.8 447 176C434.1 174.2 449.1 167.9 448.5 165C447.9 162.1 444.8 161.1 443.5 158.8C442.2 156.5 439.8 153.6 441 151.3C442.2 149 450.2 147.3 451 145C451.8 142.7 446.9 139.2 446 137.5C445.1 135.8 445.7 136.4 445.8 135C445.9 133.6 446.1 130.9 446.6 128.8C447.1 126.7 447.8 124.2 449 122.4C450.2 120.6 451.9 119.3 453.8 117.7C455.7 116.1 458 114 460.1 112.9C462.2 111.8 464.4 111.2 466.5 111.3C468.6 111.4 470.7 112.8 472.8 113.7C474.9 114.6 477 115.7 479.1 116.9C481.2 118.1 483.1 119.8 485.5 120.8C487.9 121.8 492.7 123.2 493.4 123.2C494.1 123.2 491.4 121.9 489.8 120.6C488.2 119.3 485.8 117.3 483.5 115.6C481.2 113.9 478.9 111.9 476 110.6C473.1 109.3 469.3 107.9 466 107.6C462.7 107.3 459.3 108.3 456 108.6C452.7 108.9 449.3 109.4 446 109.4C442.7 109.4 438.5 109 436 108.6C433.5 108.2 431.8 107.9 431 107C430.2 106.1 429.1 107.4 431 103C432.9 98.6 439.8 85.3 442.3 80.5Z" fill="#99eef2" stroke="#99eef2" stroke-width="4.5" stroke-linejoin="round" filter="url(#bl1)"/>
<path d="M442.3 80.5C444.8 75.7 443.3 76 446 74.3C448.7 72.6 454.9 71.6 458.5 70.5C462.1 69.4 463.6 67.9 467.3 67.5C471.1 67.1 477.1 67.3 481 68C484.9 68.7 488.1 70.5 491 71.8C493.9 73 495.8 74.2 498.5 75.5C501.2 76.8 504.2 78.5 507.3 79.3C510.4 80.1 514.4 80.9 517.3 80.5C520.2 80.1 524.4 78.2 524.8 76.8C525.2 75.3 521.5 73.3 519.8 71.8C518.1 70.3 514.8 69.2 514.8 68C514.8 66.8 517.5 65.3 519.8 64.3C522.1 63.3 526.2 63.3 528.5 61.8C530.8 60.3 531.4 57 533.5 55.5C535.6 54 538.1 53.2 541 53C543.9 52.8 548.3 54.9 551 54.3C553.7 53.7 555 50.8 557.3 49.3C559.6 47.8 562.5 45.5 564.8 45.5C567.1 45.5 570.8 47.8 571 49.3C571.2 50.8 567.7 52.8 566 54.3C564.3 55.8 561.4 56.1 561 58C560.6 59.9 563.5 63.2 563.5 65.5C563.5 67.8 561.1 70.2 561 71.8C560.9 73.4 560.9 74.8 563 75C565.1 75.2 570.5 74 573.5 73C576.5 72 578.9 69.5 581 69.3C583.1 69.1 584.8 70.3 586 71.8C587.2 73.2 586.9 76 588 78C589.1 80 590.8 83.3 592.5 83.8C594.2 84.3 597.4 82.2 598 81C598.6 79.8 595.2 77.5 596 76.5C596.8 75.5 599.3 74.6 602.5 75C605.7 75.4 611.2 77.3 615 78.8C618.8 80.3 622.5 82.1 625 83.8C627.5 85.5 627.5 87.8 630 88.8C632.5 89.8 636.7 89 640 90C643.3 91 646.7 93.3 650 95C653.3 96.7 657.5 98.8 660 100C662.5 101.2 663.3 103.1 665 102.5C666.7 101.9 667.5 98 670 96.3C672.5 94.6 677.1 93.5 680 92.5C682.9 91.5 686.7 91.2 687.5 90C688.3 88.8 683.8 85.6 685 85C686.2 84.4 691.2 86.5 695 86.3C698.8 86.1 703.3 84.4 707.5 83.8C711.7 83.2 717.1 82.3 720 82.5C722.9 82.7 725.8 84.4 725 85C724.2 85.6 717.9 85 715 86.3C712.1 87.5 707.9 90.2 707.5 92.5C707.1 94.8 710.4 97.9 712.5 100C714.6 102.1 717.5 104.4 720 105C722.5 105.6 724.6 104.2 727.5 103.8C730.4 103.4 733.1 103.1 737.5 102.5C741.9 101.9 751.2 92.6 754 100C756.8 107.4 755.5 139.4 754 147C752.5 154.6 747.8 146.2 745 145.5C742.2 144.8 740.4 144.2 737.5 143C734.6 141.8 730.8 139.2 727.5 138C724.2 136.8 720.4 135.7 717.5 135.5C714.6 135.3 712.9 136.2 710 136.8C707.1 137.4 703.3 138.5 700 139.3C696.7 140.1 692.5 140.8 690 141.8C687.5 142.8 687.5 144.5 685 145.5C682.5 146.5 677.9 147.2 675 148C672.1 148.8 670 149.2 667.5 150.5C665 151.8 663.3 154 660 155.5C656.7 157 651.7 158.5 647.5 159.3C643.3 160.1 638.3 160.9 635 160.5C631.7 160.1 628.5 158.5 627.5 156.8C626.5 155.1 629.4 152.8 628.8 150.5C628.2 148.2 626.1 144.9 623.8 143C621.5 141.1 617.8 139.4 615 139.3C612.2 139.2 609.3 141 607 142.5C604.7 144 603.7 147 601 148.5C598.3 150 594.3 151.1 591 151.3C587.7 151.6 584.3 149.6 581 150C577.7 150.4 574.8 152.3 571 153.8C567.2 155.3 562.7 157.6 558.5 158.8C554.3 160.1 550.2 160.3 546 161.3C541.8 162.3 536.8 162.6 533.5 165C530.2 167.4 540.4 174.2 526 176C511.6 177.8 459.9 177.8 447 176C434.1 174.2 449.1 167.9 448.5 165C447.9 162.1 444.8 161.1 443.5 158.8C442.2 156.5 439.8 153.6 441 151.3C442.2 149 450.2 147.3 451 145C451.8 142.7 446.9 139.2 446 137.5C445.1 135.8 445.7 136.4 445.8 135C445.9 133.6 446.1 130.9 446.6 128.8C447.1 126.7 447.8 124.2 449 122.4C450.2 120.6 451.9 119.3 453.8 117.7C455.7 116.1 458 114 460.1 112.9C462.2 111.8 464.4 111.2 466.5 111.3C468.6 111.4 470.7 112.8 472.8 113.7C474.9 114.6 477 115.7 479.1 116.9C481.2 118.1 483.1 119.8 485.5 120.8C487.9 121.8 492.7 123.2 493.4 123.2C494.1 123.2 491.4 121.9 489.8 120.6C488.2 119.3 485.8 117.3 483.5 115.6C481.2 113.9 478.9 111.9 476 110.6C473.1 109.3 469.3 107.9 466 107.6C462.7 107.3 459.3 108.3 456 108.6C452.7 108.9 449.3 109.4 446 109.4C442.7 109.4 438.5 109 436 108.6C433.5 108.2 431.8 107.9 431 107C430.2 106.1 429.1 107.4 431 103C432.9 98.6 439.8 85.3 442.3 80.5Z" fill="#8792cc" stroke="#92c6e2" stroke-width="3" stroke-linejoin="round"/>
<path d="M670 82C670 81.2 675.7 79.7 678 79.5C680.3 79.3 684 80.2 684 81C684 81.8 680.3 83.8 678 84C675.7 84.2 670 82.8 670 82Z" fill="#99fcfc" filter="url(#bl1)"/>
<path d="M565 45C565.5 44.2 568.8 46.3 569 47.5C569.2 48.7 566.7 52.4 566 52C565.3 51.6 564.5 45.8 565 45Z" fill="#99fcfc" filter="url(#bl1)"/>
<path d="M447 176C434.4 175 450.3 172.1 450.6 170C450.9 167.9 450.1 165.7 449 163.6C447.9 161.5 445.8 159.3 444.3 157.3C442.9 155.3 440.1 153.1 440.3 151.8C440.6 150.5 444.1 150.3 445.8 149.4C447.5 148.5 448.9 146.4 450.6 146.2C452.3 146 454.1 146.9 456 148C457.9 149.1 460 151 462 153C464 155 465.7 158 468 160C470.3 162 473 163.6 476 165C479 166.4 482.3 167.7 486 168.5C489.7 169.3 494 169.8 498 170C502 170.2 506.3 170 510 169.5C513.7 169 517 168.2 520 167C523 165.8 525.2 164.1 528 162.5C530.8 160.9 533.7 158.8 537 157.5C540.3 156.2 544.2 155.7 548 155C551.8 154.3 556.2 153.7 560 153.5C563.8 153.3 571.2 152.9 571 153.8C570.8 154.7 562.7 157.6 558.5 158.8C554.3 160.1 550.2 160.3 546 161.3C541.8 162.3 536.8 162.6 533.5 165C530.2 167.4 540.4 174.2 526 176C511.6 177.8 459.6 177 447 176Z" fill="#92c6e2"/>
<path d="M447 176C434.4 175.2 450.3 173 450.6 171C450.9 169 449.9 166.2 449 164C448.1 161.8 446.2 159.9 445 158C443.8 156.1 441.7 153.7 442 152.5C442.3 151.3 445.3 150.6 447 151C448.7 151.4 450.2 153.2 452 155C453.8 156.8 455.7 159.8 458 162C460.3 164.2 462.7 166.3 466 168C469.3 169.7 473.2 171 478 172C482.8 173 489.7 173.8 495 174C500.3 174.2 505.2 173.8 510 173C514.8 172.2 521.3 168.5 524 169C526.7 169.5 538.8 174.8 526 176C513.2 177.2 459.6 176.8 447 176Z" fill="#99eef2" filter="url(#bl1)"/>
<path d="M457.5 158.5C457.8 157.6 459 156.7 460 156.5C461 156.3 462.8 156.8 463.5 157.5C464.2 158.2 464.4 160.1 464 161C463.6 161.9 462 162.8 461 163C460 163.2 458.6 162.8 458 162C457.4 161.2 457.2 159.4 457.5 158.5Z" fill="#99eef2" stroke="#000" stroke-width="0.5" stroke-linejoin="round"/>
<path d="M474 164C474.2 163.2 475.9 161.8 477 161.5C478.1 161.2 480.2 161.8 480.5 162.5C480.8 163.2 479.8 164.9 479 165.5C478.2 166.1 476.3 166.2 475.5 166C474.7 165.8 473.8 164.8 474 164Z" fill="#99dce8" stroke="#000" stroke-width="0.5" stroke-linejoin="round"/>
<path d="M451 138.5C451.8 137.8 453.7 136.8 455 137C456.3 137.2 457.7 138.7 459 139.5C460.3 140.3 463 141.2 463 142C463 142.8 460.5 143.8 459 144C457.5 144.2 455.4 143.4 454 143C452.6 142.6 451 142.2 450.5 141.5C450 140.8 450.2 139.2 451 138.5Z" fill="#99eef2" stroke="#000" stroke-width="0.5" stroke-linejoin="round"/>
<path d="M448 147C448.2 146 451 144.6 453 144.5C455 144.4 457.5 145.9 460 146.5C462.5 147.1 465.7 147.4 468 148C470.3 148.6 474.3 149.4 474 150C473.7 150.6 468.7 151.5 466 151.5C463.3 151.5 460.3 150.2 458 150C455.7 149.8 453.7 151 452 150.5C450.3 150 447.8 148 448 147Z" fill="none" stroke="#000" stroke-width="0.5" stroke-linejoin="round"/>
<path d="M431 109C431.8 107.2 434.5 109.3 436 110C437.5 110.7 439.5 111.7 440 113C440.5 114.3 439.8 116.7 439 118C438.2 119.3 436.3 120.5 435 121C433.7 121.5 431.7 123 431 121C430.3 119 430.2 110.8 431 109Z" fill="#99eef2" filter="url(#bl1)"/>
<path d="M452 124C452.8 121.7 455.3 118.9 458 117C460.7 115.1 464.7 113 468 112.5C471.3 112 474.7 112.8 478 114C481.3 115.2 484.7 118.5 488 120C491.3 121.5 494.7 122.7 498 123C501.3 123.3 505 123 508 122C511 121 513.5 118.8 516 117C518.5 115.2 521 111.8 523 111C525 110.2 526.8 110.5 528 112C529.2 113.5 529.2 117.5 530 120C530.8 122.5 531.3 125.2 533 127C534.7 128.8 537.2 129.2 540 130.5C542.8 131.8 546.3 133.7 550 135C553.7 136.3 558.3 137.4 562 138.5C565.7 139.6 570.7 140.1 572 141.5C573.3 142.9 572 145.8 570 147C568 148.2 564 148.4 560 149C556 149.6 550 149.8 546 150.5C542 151.2 538.8 151.9 536 153C533.2 154.1 531.5 155.5 529 157C526.5 158.5 524 160.8 521 162C518 163.2 514.5 163.9 511 164.5C507.5 165.1 503.5 165.8 500 165.5C496.5 165.2 493 164.2 490 163C487 161.8 484.2 160.5 482 158.5C479.8 156.5 478.7 153.4 477 151C475.3 148.6 473.8 146.2 472 144C470.2 141.8 468.2 139.3 466 138C463.8 136.7 461.2 137.2 459 136C456.8 134.8 454.2 133 453 131C451.8 129 451.2 126.3 452 124Z" fill="#8580c2"/>
<path d="M470 118C471.7 116.5 475.3 116.6 478 117C480.7 117.4 483.3 119.4 486 120.5C488.7 121.6 491.3 122.9 494 123.5C496.7 124.1 499.2 124.6 502 124.3C504.8 124 508.2 123.3 511 121.8C513.8 120.3 516 117.2 518.5 115.5C521 113.8 524.1 111.2 526 111.8C527.9 112.3 528.8 116.2 529.8 118.8C530.8 121.4 530.8 125.4 532.3 127.5C533.8 129.6 536.2 130.1 538.5 131.3C540.8 132.6 543.1 133.9 546 135C548.9 136.1 552.7 137 556 138C559.3 139 565.2 139.7 566 141C566.8 142.3 564.3 144.9 561 146C557.7 147.1 550.2 146.9 546 147.5C541.8 148.1 539 148.6 536 149.5C533 150.4 530.5 151.8 528 153C525.5 154.2 523.7 156.3 521 156.5C518.3 156.7 515 154.2 512 154C509 153.8 506 155.1 503 155C500 154.9 496.3 153.1 494 153.5C491.7 153.9 490.5 157.9 489 157.5C487.5 157.1 486.8 152.7 485 151C483.2 149.3 479.8 149.2 478 147.5C476.2 145.8 475 143.4 474 141C473 138.6 473 135.5 472 133C471 130.5 468.3 128.5 468 126C467.7 123.5 468.3 119.5 470 118Z" fill="#d84a62"/>
<path d="M455 124C455.8 121.8 458.8 120.2 461 119C463.2 117.8 466 116.8 468 117C470 117.2 472.5 118.2 473 120C473.5 121.8 471 125.3 471 128C471 130.7 473.3 134.5 473 136C472.7 137.5 470.8 137 469 137C467.2 137 464.2 136.8 462 136C459.8 135.2 457.2 134 456 132C454.8 130 454.2 126.2 455 124Z" fill="#a8609a" opacity="0.8" filter="url(#bl1)"/>
<path d="M478 140C478.7 138.2 483 137.2 486 137C489 136.8 493 138 496 139C499 140 501.3 142.7 504 143C506.7 143.3 509.3 140.8 512 141C514.7 141.2 519.3 142.5 520 144C520.7 145.5 518.3 148.5 516 150C513.7 151.5 509.3 152 506 153C502.7 154 499 155.8 496 156C493 156.2 490.3 155.3 488 154C485.7 152.7 483.7 150.3 482 148C480.3 145.7 477.3 141.8 478 140Z" fill="#8580c2" filter="url(#bl1)"/>
<path d="M486 145C486.5 143.8 489.8 142.8 492 142.5C494.2 142.2 497.3 142.8 499 143.5C500.7 144.2 502.5 145.9 502 147C501.5 148.1 498.2 149.6 496 150C493.8 150.4 490.7 150.3 489 149.5C487.3 148.7 485.5 146.2 486 145Z" fill="#8aa4d6" stroke="#000" stroke-width="0.5" stroke-linejoin="round"/>
<path d="M456 129C456.2 127.8 457.7 126.2 459 125.5C460.3 124.8 462.4 124.7 464 125C465.6 125.3 467.8 126.4 468.5 127.5C469.2 128.6 468.9 130.4 468 131.5C467.1 132.6 464.7 133.6 463 133.8C461.3 134 459.2 133.3 458 132.5C456.8 131.7 455.8 130.2 456 129Z" fill="#ff3434" stroke="#000" stroke-width="0.7" stroke-linejoin="round"/>
<path d="M506 125.6C506.8 125 510.2 124.8 512 123.5C513.8 122.2 515.7 119.8 517 118C518.3 116.2 519.6 113.1 520 113C520.4 112.9 520.2 115.9 519.5 117.5C518.8 119.1 517.4 121.1 516 122.5C514.6 123.9 512.5 125.2 511 126C509.5 126.8 507.8 127.1 507 127C506.2 126.9 505.2 126.2 506 125.6Z" fill="#8db5dc" stroke="#000" stroke-width="0.5" stroke-linejoin="round"/>
<path d="M488.6 149C489.1 148.1 491.3 146.6 493 146C494.7 145.4 497.3 145.2 499 145.4C500.7 145.7 502.7 146.5 503 147.5C503.3 148.5 502.3 150.7 501 151.5C499.7 152.3 496.8 152.5 495 152.5C493.2 152.5 491.1 152.1 490 151.5C488.9 150.9 488.1 149.9 488.6 149Z" fill="#8db5dc" stroke="#000" stroke-width="0.5" stroke-linejoin="round"/>
<path d="M442.3 80.5C444.8 75.7 443.3 76 446 74.3C448.7 72.6 454.9 71.6 458.5 70.5C462.1 69.4 463.6 67.9 467.3 67.5C471.1 67.1 477.1 67.3 481 68C484.9 68.7 488.1 70.5 491 71.8C493.9 73 495.8 74.2 498.5 75.5C501.2 76.8 504.2 78.5 507.3 79.3C510.4 80.1 514.4 80.9 517.3 80.5C520.2 80.1 524.4 78.2 524.8 76.8C525.2 75.3 521.5 73.3 519.8 71.8C518.1 70.3 514.8 69.2 514.8 68C514.8 66.8 517.5 65.3 519.8 64.3C522.1 63.3 526.2 63.3 528.5 61.8C530.8 60.3 531.4 57 533.5 55.5C535.6 54 538.1 53.2 541 53C543.9 52.8 548.3 54.9 551 54.3C553.7 53.7 555 50.8 557.3 49.3C559.6 47.8 562.5 45.5 564.8 45.5C567.1 45.5 570.8 47.8 571 49.3C571.2 50.8 567.7 52.8 566 54.3C564.3 55.8 561.4 56.1 561 58C560.6 59.9 563.5 63.2 563.5 65.5C563.5 67.8 561.1 70.2 561 71.8C560.9 73.4 560.9 74.8 563 75C565.1 75.2 570.5 74 573.5 73C576.5 72 578.9 69.5 581 69.3C583.1 69.1 584.8 70.3 586 71.8C587.2 73.2 586.9 76 588 78C589.1 80 590.8 83.3 592.5 83.8C594.2 84.3 597.4 82.2 598 81C598.6 79.8 595.2 77.5 596 76.5C596.8 75.5 599.3 74.6 602.5 75C605.7 75.4 611.2 77.3 615 78.8C618.8 80.3 622.5 82.1 625 83.8C627.5 85.5 627.5 87.8 630 88.8C632.5 89.8 636.7 89 640 90C643.3 91 646.7 93.3 650 95C653.3 96.7 657.5 98.8 660 100C662.5 101.2 663.3 103.1 665 102.5C666.7 101.9 667.5 98 670 96.3C672.5 94.6 677.1 93.5 680 92.5C682.9 91.5 686.7 91.2 687.5 90C688.3 88.8 683.8 85.6 685 85C686.2 84.4 691.2 86.5 695 86.3C698.8 86.1 703.3 84.4 707.5 83.8C711.7 83.2 717.1 82.3 720 82.5C722.9 82.7 725.8 84.4 725 85C724.2 85.6 717.9 85 715 86.3C712.1 87.5 707.9 90.2 707.5 92.5C707.1 94.8 710.4 97.9 712.5 100C714.6 102.1 717.5 104.4 720 105C722.5 105.6 724.6 104.2 727.5 103.8C730.4 103.4 733.1 103.1 737.5 102.5C741.9 101.9 751.2 92.6 754 100C756.8 107.4 755.5 139.4 754 147C752.5 154.6 747.8 146.2 745 145.5C742.2 144.8 740.4 144.2 737.5 143C734.6 141.8 730.8 139.2 727.5 138C724.2 136.8 720.4 135.7 717.5 135.5C714.6 135.3 712.9 136.2 710 136.8C707.1 137.4 703.3 138.5 700 139.3C696.7 140.1 692.5 140.8 690 141.8C687.5 142.8 687.5 144.5 685 145.5C682.5 146.5 677.9 147.2 675 148C672.1 148.8 670 149.2 667.5 150.5C665 151.8 663.3 154 660 155.5C656.7 157 651.7 158.5 647.5 159.3C643.3 160.1 638.3 160.9 635 160.5C631.7 160.1 628.5 158.5 627.5 156.8C626.5 155.1 629.4 152.8 628.8 150.5C628.2 148.2 626.1 144.9 623.8 143C621.5 141.1 617.8 139.4 615 139.3C612.2 139.2 609.3 141 607 142.5C604.7 144 603.7 147 601 148.5C598.3 150 594.3 151.1 591 151.3C587.7 151.6 584.3 149.6 581 150C577.7 150.4 574.8 152.3 571 153.8C567.2 155.3 562.7 157.6 558.5 158.8C554.3 160.1 550.2 160.3 546 161.3C541.8 162.3 536.8 162.6 533.5 165C530.2 167.4 540.4 174.2 526 176C511.6 177.8 459.9 177.8 447 176C434.1 174.2 449.1 167.9 448.5 165C447.9 162.1 444.8 161.1 443.5 158.8C442.2 156.5 439.8 153.6 441 151.3C442.2 149 450.2 147.3 451 145C451.8 142.7 446.9 139.2 446 137.5C445.1 135.8 445.7 136.4 445.8 135C445.9 133.6 446.1 130.9 446.6 128.8C447.1 126.7 447.8 124.2 449 122.4C450.2 120.6 451.9 119.3 453.8 117.7C455.7 116.1 458 114 460.1 112.9C462.2 111.8 464.4 111.2 466.5 111.3C468.6 111.4 470.7 112.8 472.8 113.7C474.9 114.6 477 115.7 479.1 116.9C481.2 118.1 483.1 119.8 485.5 120.8C487.9 121.8 492.7 123.2 493.4 123.2C494.1 123.2 491.4 121.9 489.8 120.6C488.2 119.3 485.8 117.3 483.5 115.6C481.2 113.9 478.9 111.9 476 110.6C473.1 109.3 469.3 107.9 466 107.6C462.7 107.3 459.3 108.3 456 108.6C452.7 108.9 449.3 109.4 446 109.4C442.7 109.4 438.5 109 436 108.6C433.5 108.2 431.8 107.9 431 107C430.2 106.1 429.1 107.4 431 103C432.9 98.6 439.8 85.3 442.3 80.5Z" fill="none" stroke="#000" stroke-width="0.6" stroke-linejoin="round"/>
<path d="M444 82C444.3 80.2 444.6 77.6 447 76C449.4 74.4 455.1 73.6 458.5 72.5C461.9 71.4 463.6 69.9 467.3 69.5C471.1 69.1 477.1 69.3 481 70C484.9 70.7 488.1 72.5 491 73.8C493.9 75 495.8 76.2 498.5 77.5C501.2 78.8 504.2 80.5 507.3 81.3C510.4 82.1 514.2 82.7 517.3 82.5C520.4 82.3 523 81.1 526 80C529 78.9 531.8 77 535 76C538.2 75 541.5 74 545 74C548.5 74 552.7 75.6 556 76C559.3 76.4 562.1 76.7 565 76.5C567.9 76.3 570.8 75.8 573.5 75C576.2 74.2 579.1 71.7 581 71.5C582.9 71.3 584 72.6 585 74C586 75.4 585.8 78 587 80C588.2 82 589.8 85.3 592 86C594.2 86.7 597.5 85 600 84C602.5 83 604.5 80.5 607 80C609.5 79.5 612.2 80 615 81C617.8 82 621.7 84.3 624 86C626.3 87.7 626.3 90 629 91C631.7 92 636.5 91 640 92C643.5 93 646.7 95.3 650 97C653.3 98.7 657.7 100.5 660 102C662.3 103.5 662.3 105 664 106C665.7 107 668 107 670 108C672 109 675.3 110 676 112C676.7 114 672.7 117.5 674 120C675.3 122.5 680.1 125.6 684 127C687.9 128.4 696.1 127.9 697.5 128.5C698.9 129.1 695 129.3 692.5 130.5C690 131.7 685.8 134 682.5 135.5C679.2 137 675.8 138.1 672.5 139.3C669.2 140.6 665.8 141.6 662.5 143C659.2 144.4 655.8 147.2 652.5 148C649.2 148.8 645.8 148.8 642.5 148C639.2 147.2 635.4 144.9 632.5 143C629.6 141.1 627.9 138.2 625 136.8C622.1 135.4 618.3 134.1 615 134.3C611.7 134.5 608.3 136.8 605 138C601.7 139.2 598.3 141 595 141.8C591.7 142.6 588.3 143 585 143C581.7 143 578.3 142.2 575 141.8C571.7 141.4 567.3 141.4 565 140.5C562.7 139.6 563.1 137.2 561 136.3C558.9 135.4 554.8 135.8 552.3 135C549.8 134.2 548.3 132.6 546 131.3C543.7 130.1 540.6 128.6 538.5 127.5C536.4 126.5 534.8 126.5 533.5 125C532.2 123.5 531.6 120.9 531 118.8C530.4 116.7 530.6 114.2 529.8 112.5C529 110.8 527.5 109 526 108.8C524.5 108.6 522.7 110.3 521 111.3C519.3 112.3 517.7 113.8 516 115C514.3 116.2 512.7 117.9 511 118.8C509.3 119.7 508.1 120 506 120.5C503.9 121 501.2 122.1 498.5 122C495.8 121.9 492.3 121.2 489.8 120C487.3 118.8 485.8 116.7 483.5 115C481.2 113.3 478.9 111.3 476 110C473.1 108.7 469.3 107.3 466 107C462.7 106.7 459.3 107.7 456 108C452.7 108.3 449.3 108.8 446 108.8C442.7 108.8 438.3 108.4 436 108C433.7 107.6 432.7 107 432 106.3C431.3 105.6 430.7 104.5 432 104C433.3 103.5 437.3 103.5 440 103C442.7 102.5 446 102 448 101C450 100 452 98.5 452 97C452 95.5 449.2 93.7 448 92C446.8 90.3 445.7 88.7 445 87C444.3 85.3 443.7 83.8 444 82Z" fill="#ff5226" stroke="#000" stroke-width="1" stroke-linejoin="round"/>
<path d="M520 84C520.8 81.8 530.3 80.2 535 79C539.7 77.8 543.8 77 548 77C552.2 77 556.3 78.8 560 79C563.7 79.2 566.7 78.7 570 78C573.3 77.3 577.5 74.7 580 75C582.5 75.3 583.3 77.8 585 80C586.7 82.2 587.8 86.7 590 88C592.2 89.3 595.3 88.8 598 88C600.7 87.2 603.3 83.7 606 83C608.7 82.3 611.3 83 614 84C616.7 85 619.7 87.3 622 89C624.3 90.7 625.3 93 628 94C630.7 95 634.7 94 638 95C641.3 96 644.7 98.3 648 100C651.3 101.7 655.3 103.3 658 105C660.7 106.7 662.3 108.2 664 110C665.7 111.8 668.3 113.7 668 116C667.7 118.3 665 122 662 124C659 126 653.7 128 650 128C646.3 128 643.3 125.7 640 124C636.7 122.3 633.3 119.3 630 118C626.7 116.7 623.7 115.7 620 116C616.3 116.3 612 119 608 120C604 121 600 122 596 122C592 122 588 121 584 120C580 119 575.7 116.3 572 116C568.3 115.7 564.7 116.3 562 118C559.3 119.7 558.3 124.7 556 126C553.7 127.3 550.7 127.3 548 126C545.3 124.7 541.7 121.3 540 118C538.3 114.7 538 109.7 538 106C538 102.3 541.3 98.3 540 96C538.7 93.7 533.3 94 530 92C526.7 90 519.2 86.2 520 84Z" fill="#ff7016"/>
<path d="M670 108C672.2 106.9 679 103 683 101.5C687 100 690.6 99 694 99C697.4 99 700.9 100.2 703.5 101.5C706.1 102.8 707.9 104.9 709.5 107C711.1 109.1 711.8 112 713 114C714.2 116 714.8 117.9 717 119C719.2 120.1 723 120.4 726 120.5C729 120.6 732.2 120.3 735 119.5C737.8 118.7 740.8 117.1 742.5 115.5C744.2 113.9 744.6 111.6 745.5 110C746.4 108.4 746.4 106.9 748 106C749.6 105.1 753.8 104.8 755 104.5" fill="none" stroke="#8580c2" stroke-width="15" stroke-linejoin="round" filter="url(#bl1)"/>
<path d="M680 124C681.7 123.8 686.7 123.2 690 123C693.3 122.8 696.5 122.8 700 122.5C703.5 122.2 708.2 121.6 711 121C713.8 120.4 716 119.3 717 119" fill="none" stroke="#8580c2" stroke-width="15" stroke-linejoin="round" filter="url(#bl1)"/>
<path d="M678 128C679.3 128.6 683.2 130.5 686 131.5C688.8 132.5 692 133.8 695 134C698 134.2 701.5 133.7 704 132.5C706.5 131.3 708 129.1 710 127C712 124.9 715 121.2 716 120" fill="none" stroke="#8580c2" stroke-width="15" stroke-linejoin="round" filter="url(#bl1)"/>
<path d="M670 108C672.2 106.9 679 103 683 101.5C687 100 690.6 99 694 99C697.4 99 700.9 100.2 703.5 101.5C706.1 102.8 707.9 104.9 709.5 107C711.1 109.1 711.8 112 713 114C714.2 116 714.8 117.9 717 119C719.2 120.1 723 120.4 726 120.5C729 120.6 732.2 120.3 735 119.5C737.8 118.7 740.8 117.1 742.5 115.5C744.2 113.9 744.6 111.6 745.5 110C746.4 108.4 746.4 106.9 748 106C749.6 105.1 753.8 104.8 755 104.5" fill="none" stroke="#d84a62" stroke-width="10.5" stroke-linejoin="round" filter="url(#bl1)"/>
<path d="M680 124C681.7 123.8 686.7 123.2 690 123C693.3 122.8 696.5 122.8 700 122.5C703.5 122.2 708.2 121.6 711 121C713.8 120.4 716 119.3 717 119" fill="none" stroke="#d84a62" stroke-width="10.5" stroke-linejoin="round" filter="url(#bl1)"/>
<path d="M678 128C679.3 128.6 683.2 130.5 686 131.5C688.8 132.5 692 133.8 695 134C698 134.2 701.5 133.7 704 132.5C706.5 131.3 708 129.1 710 127C712 124.9 715 121.2 716 120" fill="none" stroke="#d84a62" stroke-width="10.5" stroke-linejoin="round" filter="url(#bl1)"/>
<path d="M670 108C672.2 106.9 679 103 683 101.5C687 100 690.6 99 694 99C697.4 99 700.9 100.2 703.5 101.5C706.1 102.8 707.9 104.9 709.5 107C711.1 109.1 711.8 112 713 114C714.2 116 714.8 117.9 717 119C719.2 120.1 723 120.4 726 120.5C729 120.6 732.2 120.3 735 119.5C737.8 118.7 740.8 117.1 742.5 115.5C744.2 113.9 744.6 111.6 745.5 110C746.4 108.4 746.4 106.9 748 106C749.6 105.1 753.8 104.8 755 104.5" fill="none" stroke="#000" stroke-width="6.9" stroke-linejoin="round"/>
<path d="M670 108C672.2 106.9 679 103 683 101.5C687 100 690.6 99 694 99C697.4 99 700.9 100.2 703.5 101.5C706.1 102.8 707.9 104.9 709.5 107C711.1 109.1 711.8 112 713 114C714.2 116 714.8 117.9 717 119C719.2 120.1 723 120.4 726 120.5C729 120.6 732.2 120.3 735 119.5C737.8 118.7 740.8 117.1 742.5 115.5C744.2 113.9 744.6 111.6 745.5 110C746.4 108.4 746.4 106.9 748 106C749.6 105.1 753.8 104.8 755 104.5" fill="none" stroke="#ff3434" stroke-width="5.6" stroke-linejoin="round"/>
<path d="M680 124C681.7 123.8 686.7 123.2 690 123C693.3 122.8 696.5 122.8 700 122.5C703.5 122.2 708.2 121.6 711 121C713.8 120.4 716 119.3 717 119" fill="none" stroke="#000" stroke-width="6.9" stroke-linejoin="round"/>
<path d="M680 124C681.7 123.8 686.7 123.2 690 123C693.3 122.8 696.5 122.8 700 122.5C703.5 122.2 708.2 121.6 711 121C713.8 120.4 716 119.3 717 119" fill="none" stroke="#ff3434" stroke-width="5.6" stroke-linejoin="round"/>
<path d="M678 128C679.3 128.6 683.2 130.5 686 131.5C688.8 132.5 692 133.8 695 134C698 134.2 701.5 133.7 704 132.5C706.5 131.3 708 129.1 710 127C712 124.9 715 121.2 716 120" fill="none" stroke="#000" stroke-width="7.3" stroke-linejoin="round"/>
<path d="M678 128C679.3 128.6 683.2 130.5 686 131.5C688.8 132.5 692 133.8 695 134C698 134.2 701.5 133.7 704 132.5C706.5 131.3 708 129.1 710 127C712 124.9 715 121.2 716 120" fill="none" stroke="#ff3434" stroke-width="6" stroke-linejoin="round"/>
<path d="M670 108C672.2 106.9 679 103 683 101.5C687 100 690.6 99 694 99C697.4 99 700.9 100.2 703.5 101.5C706.1 102.8 707.9 104.9 709.5 107C711.1 109.1 711.8 112 713 114C714.2 116 714.8 117.9 717 119C719.2 120.1 723 120.4 726 120.5C729 120.6 732.2 120.3 735 119.5C737.8 118.7 740.8 117.1 742.5 115.5C744.2 113.9 744.6 111.6 745.5 110C746.4 108.4 746.4 106.9 748 106C749.6 105.1 753.8 104.8 755 104.5" fill="none" stroke="#ff3434" stroke-width="5.6" stroke-linejoin="round"/>
<path d="M680 124C681.7 123.8 686.7 123.2 690 123C693.3 122.8 696.5 122.8 700 122.5C703.5 122.2 708.2 121.6 711 121C713.8 120.4 716 119.3 717 119" fill="none" stroke="#ff3434" stroke-width="5.6" stroke-linejoin="round"/>
<path d="M681 110C682 108.8 684 107.3 686 106.5C688 105.7 690.7 105 693 105C695.3 105 698.1 105.5 700 106.5C701.9 107.5 703.5 109.3 704.5 111C705.5 112.7 706.8 115.2 706 116.5C705.2 117.8 702.3 118.2 700 118.5C697.7 118.8 694.5 118.8 692 118.5C689.5 118.2 687 117.8 685 117C683 116.2 680.7 115.2 680 114C679.3 112.8 680 111.2 681 110Z" fill="#8580c2" stroke="#000" stroke-width="0.6" stroke-linejoin="round"/>
<path d="M684 111.5C684.5 110.5 686.3 109.2 688 108.5C689.7 107.8 692.2 107.3 694 107.5C695.8 107.7 697.8 108.4 699 109.5C700.2 110.6 701.3 112.8 701 114C700.7 115.2 698.8 116.2 697 116.5C695.2 116.8 692 116.3 690 116C688 115.7 686 115.2 685 114.5C684 113.8 683.5 112.5 684 111.5Z" fill="#8db5dc" stroke="#000" stroke-width="0.5" stroke-linejoin="round"/>
<path d="M690.4 110.5C690.6 109.6 691.9 108.2 693 108C694.1 107.8 696.2 108.2 697 109C697.8 109.8 698.3 112 698 113C697.7 114 696.1 114.9 695 115C693.9 115.1 692.3 114.2 691.5 113.5C690.7 112.8 690.1 111.4 690.4 110.5Z" fill="#99fcfc" stroke="#000" stroke-width="0.5" stroke-linejoin="round"/>
<path d="M565 118C568.7 118 575 121 580 122C585 123 590 124 595 124C600 124 605.2 121.7 610 122C614.8 122.3 619.7 124.3 624 126C628.3 127.7 632 130.7 636 132C640 133.3 644 134.3 648 134C652 133.7 656 131.7 660 130C664 128.3 668 124.5 672 124C676 123.5 679.8 126.2 684 127C688.2 127.8 696.1 127.9 697.5 128.5C698.9 129.1 695 129.3 692.5 130.5C690 131.7 685.8 134 682.5 135.5C679.2 137 675.8 138.1 672.5 139.3C669.2 140.6 665.8 141.6 662.5 143C659.2 144.4 655.8 147.2 652.5 148C649.2 148.8 645.8 148.8 642.5 148C639.2 147.2 635.4 144.9 632.5 143C629.6 141.1 627.9 138.2 625 136.8C622.1 135.4 618.3 134.1 615 134.3C611.7 134.5 608.3 136.8 605 138C601.7 139.2 598.3 141 595 141.8C591.7 142.6 588.3 143 585 143C581.7 143 578.3 142.2 575 141.8C571.7 141.4 567.3 141.4 565 140.5C562.7 139.6 562.5 138.1 561 136.3C559.5 134.6 556.5 132.4 556 130C555.5 127.6 556.5 124 558 122C559.5 120 561.3 118 565 118Z" fill="#ff3434"/>
<path d="M570 124C573.3 123.5 579.3 126.2 584 127C588.7 127.8 593.7 129 598 129C602.3 129 609 126.3 610 127C611 127.7 607 131.3 604 133C601 134.7 596 136.2 592 137C588 137.8 583.7 138.3 580 138C576.3 137.7 572.7 136.3 570 135C567.3 133.7 564 131.8 564 130C564 128.2 566.7 124.5 570 124Z" fill="#ff5226" filter="url(#bl1)"/>
<path d="M640 136C642.3 135.2 648 136.7 652 136C656 135.3 660.7 133.3 664 132C667.3 130.7 671.3 127.3 672 128C672.7 128.7 670.3 133.7 668 136C665.7 138.3 661.7 140.7 658 142C654.3 143.3 649.3 144.2 646 144C642.7 143.8 639 142.3 638 141C637 139.7 637.7 136.8 640 136Z" fill="#ff5226" filter="url(#bl1)"/>
<path d="M446.5 80C446.9 78.3 447.4 76.8 448.6 75.8C449.8 74.8 452.1 74.2 453.9 74.2C455.7 74.2 458.1 74.9 459.2 76C460.3 77.1 460.1 79.3 460.5 81C460.9 82.7 460.7 85.1 461.8 86.3C462.9 87.5 465 87.6 467 88.3C469 89 473.2 89.2 473.6 90.3C474.1 91.4 471 93.3 469.7 94.9C468.4 96.5 467.1 98.8 465.7 100C464.2 101.2 462.8 101.9 461 102C459.2 102.1 456.5 101.3 455 100.5C453.5 99.7 453.1 98.6 452 97C450.9 95.4 449.4 92.8 448.5 91C447.6 89.2 446.8 87.8 446.5 86C446.2 84.2 446.1 81.7 446.5 80Z" fill="#ff5226"/>
<path d="M448.5 80C448.8 78.4 450.8 77.6 452 77.5C453.2 77.4 455.1 78.1 456 79.5C456.9 80.9 456.7 84.1 457.5 86C458.3 87.9 459.8 89.8 461 91C462.2 92.2 464.8 91.8 465 93C465.2 94.2 463.3 97.3 462 98C460.7 98.7 458.5 97.8 457 97C455.5 96.2 454.2 94.7 453 93C451.8 91.3 450.8 89.2 450 87C449.2 84.8 448.2 81.6 448.5 80Z" fill="#ff3434" filter="url(#bl1)"/>
<path d="M566 82C568.2 80.5 572.2 78.8 575 79C577.8 79.2 581.2 80.8 583 83C584.8 85.2 586.2 88.8 586 92C585.8 95.2 583.8 99.3 582 102C580.2 104.7 577.5 106.7 575 108C572.5 109.3 569.3 110.3 567 110C564.7 109.7 562.2 108 561 106C559.8 104 559.8 101 560 98C560.2 95 561 90.7 562 88C563 85.3 563.8 83.5 566 82Z" fill="#ff8c08" opacity="0.6" filter="url(#bl1)"/>
<path d="M616 102C617.7 100.5 622.3 99.2 626 99C629.7 98.8 634.3 99.8 638 101C641.7 102.2 645.2 104 648 106C650.8 108 654.3 110.7 655 113C655.7 115.3 653.8 118.5 652 120C650.2 121.5 647 122.3 644 122C641 121.7 637.3 119.5 634 118C630.7 116.5 627 114.7 624 113C621 111.3 617.3 109.8 616 108C614.7 106.2 614.3 103.5 616 102Z" fill="#ff8c08" opacity="0.55" filter="url(#bl1)"/>
<path d="M640 98C641.7 97.7 646.7 99.7 650 101C653.3 102.3 657.3 104 660 106C662.7 108 664.7 110.7 666 113C667.3 115.3 668.7 118.2 668 120C667.3 121.8 664 124.7 662 124C660 123.3 658.3 118.7 656 116C653.7 113.3 650.7 110.2 648 108C645.3 105.8 641.3 104.7 640 103C638.7 101.3 638.3 98.3 640 98Z" fill="#ff5226" opacity="0.8" filter="url(#bl1)"/>
<path d="M596 112C597.7 111.5 602.3 114.7 606 116C609.7 117.3 614 118.7 618 120C622 121.3 626.3 122.7 630 124C633.7 125.3 639.3 126.8 640 128C640.7 129.2 637.3 131 634 131C630.7 131 624.7 129.2 620 128C615.3 126.8 610 125.5 606 124C602 122.5 597.7 121 596 119C594.3 117 594.3 112.5 596 112Z" fill="#ff5226" opacity="0.8" filter="url(#bl1)"/>
<path d="M520 96C520.7 98.7 527.7 97.3 530 100C532.3 102.7 533 108 534 112C535 116 534.3 121 536 124C537.7 127 541 128.3 544 130C547 131.7 551 134 554 134C557 134 561 132.7 562 130C563 127.3 561 122.3 560 118C559 113.7 557.7 108.3 556 104C554.3 99.7 549.3 95 550 92C550.7 89 559 88 560 86C561 84 559.3 81.3 556 80C552.7 78.7 545 77.3 540 78C535 78.7 529.3 81 526 84C522.7 87 519.3 93.3 520 96Z" fill="#ff7016"/>
<path d="M455 100C456.2 98.7 460.8 100.7 463 100C465.2 99.3 467.8 98 468 96C468.2 94 465.3 90.7 464 88C462.7 85.3 460.3 82.3 460 80C459.7 77.7 460.7 75.6 462 74C463.3 72.4 464.8 71 468 70.5C471.2 70 477.2 70.3 481 71C484.8 71.7 488.1 73.3 491 74.5C493.9 75.7 495.8 76.8 498.5 78C501.2 79.2 503.9 81.1 507 82C510.1 82.9 513.7 83.2 517 83.5C520.3 83.8 523.5 84.4 527 84C530.5 83.6 534 81.8 538 81C542 80.2 547 79.2 551 79.5C555 79.8 561.2 81.7 562 83C562.8 84.3 558.3 86.3 556 87.5C553.7 88.7 549.8 88.8 548 90C546.2 91.2 545.8 93.2 545 95C544.2 96.8 543.5 98.8 543 101C542.5 103.2 541.9 105.7 542 108C542.1 110.3 542.5 112.7 543.5 115C544.5 117.3 546.6 119.7 548 122C549.4 124.3 551.2 126.8 552 129C552.8 131.2 554 135 553 135.5C552 136 548.4 133.2 546 132C543.6 130.8 540.7 129.1 538.5 128C536.3 126.9 534.3 127 533 125.5C531.7 124 531 121.2 530.5 119C530 116.8 530.5 114.2 529.8 112.5C529 110.8 527.5 109 526 108.8C524.5 108.6 522.7 110.3 521 111.3C519.3 112.3 517.7 113.8 516 115C514.3 116.2 512.7 117.9 511 118.8C509.3 119.7 508.1 120 506 120.5C503.9 121 501.2 122.1 498.5 122C495.8 121.9 492.3 121.2 489.8 120C487.3 118.8 485.8 116.7 483.5 115C481.2 113.3 478.9 111.3 476 110C473.1 108.7 469.3 107.3 466 107C462.7 106.7 457.8 109.2 456 108C454.2 106.8 453.8 101.3 455 100Z" fill="#ffa600"/>
<path d="M501 92.5C501.4 91.5 506.8 91 511 90C515.2 89 521.4 87.5 526 86.3C530.6 85 534.3 83.3 538.5 82.5C542.7 81.7 547.2 81.1 551 81.3C554.8 81.5 560.6 83 561 83.8C561.4 84.6 556 85.5 553.5 86.3C551 87.1 547.7 87.5 546 88.8C544.3 90 544.3 91.9 543.5 93.8C542.7 95.7 541.6 97.7 541 100C540.4 102.3 539.8 105 539.8 107.5C539.8 110 540 112.5 541 115C542 117.5 544.5 120.2 546 122.5C547.5 124.8 548.8 126.7 549.8 128.8C550.8 130.9 552.9 134.6 552.3 135C551.7 135.4 548.3 132.6 546 131.3C543.7 130.1 540.6 128.6 538.5 127.5C536.4 126.5 534.8 126.5 533.5 125C532.2 123.5 531 121.1 531 118.8C531 116.5 533.5 114 533.5 111.3C533.5 108.6 532.2 105 531 102.5C529.8 100 528.1 97.5 526 96.3C523.9 95 521.4 95 518.5 95C515.6 95 511.4 96.7 508.5 96.3C505.6 95.9 500.6 93.5 501 92.5Z" fill="#ffa600" stroke="#000" stroke-width="0.6" stroke-linejoin="round"/>
<path d="M453.5 105.3C454.3 104.6 458.9 104.3 461 103.5C463.1 102.7 464.6 101.8 466 100.5C467.4 99.2 468.4 97.6 469.7 96C471 94.4 474.1 92 473.6 90.8C473.2 89.6 468.9 89.3 467 88.6C465.1 87.9 463.1 87.8 462 86.5C460.9 85.2 461.1 82.6 460.6 81C460.1 79.4 459.1 78.3 459.2 77.1C459.3 75.9 460.6 74.7 461.5 73.8C462.4 72.9 463.1 72.3 464.4 71.8C465.6 71.3 467.5 70.8 469 70.6C470.5 70.4 472 70.3 473.6 70.5C475.2 70.7 476.7 71.5 478.9 72C481.1 72.5 484.2 73.2 486.8 73.8C489.4 74.4 492.5 74.8 494.7 75.8C496.9 76.8 498.6 78.2 500 79.7C501.4 81.2 502.2 82.8 503 84.5C503.8 86.2 503.5 87.8 504.8 90C506.1 92.2 509.1 95 511 97.5C512.9 100 515.6 102.5 516 105C516.4 107.5 515.2 110.2 513.5 112.5C511.8 114.8 508.5 117.3 506 118.8C503.5 120.3 501.2 121.3 498.5 121.3C495.8 121.3 492.3 120 489.8 118.8C487.3 117.5 485.8 115.5 483.5 113.8C481.2 112.1 478.9 110 476 108.8C473.1 107.5 469.3 106.5 466 106.3C462.7 106.1 458.1 107.7 456 107.5C453.9 107.3 452.7 106 453.5 105.3Z" fill="#ffc000" stroke="#000" stroke-width="0.6" stroke-linejoin="round"/>
<path d="M474 72C474.9 71.6 478 72.4 480 72.8C482 73.2 485.3 73.8 486 74.5C486.7 75.2 485.3 76.7 484 77C482.7 77.3 479.6 76.8 478 76.5C476.4 76.2 475.2 75.8 474.5 75C473.8 74.2 473.1 72.4 474 72Z" fill="#ff7016" filter="url(#bl1)"/>
<path d="M476 86C478 84.5 481.2 82.3 484 82C486.8 81.7 490.7 82.7 493 84C495.3 85.3 496.5 88 498 90C499.5 92 500.3 94 502 96C503.7 98 506.5 100.2 508 102C509.5 103.8 511 105 511 107C511 109 509.8 112.1 508 114C506.2 115.9 502.7 118.2 500 118.5C497.3 118.8 494.3 117.4 492 116C489.7 114.6 488 112 486 110C484 108 482 106 480 104C478 102 475.3 100.2 474 98C472.7 95.8 471.7 93 472 91C472.3 89 474 87.5 476 86Z" fill="#ffd800" filter="url(#bl1)"/>
<path d="M482 103C482 104.2 486 104.7 488 106C490 107.3 491.8 109.7 494 111C496.2 112.3 499 114 501 114C503 114 505.7 112.5 506 111C506.3 109.5 504.7 106.7 503 105C501.3 103.3 498.5 102 496 101C493.5 100 490.3 98.7 488 99C485.7 99.3 482 101.8 482 103Z" fill="#ffec00" filter="url(#bl1)"/>
<path d="M431.5 104.5C432 103.6 433.8 102.2 435 102C436.2 101.8 437.7 103.8 438.5 103.5C439.3 103.2 439.2 100.7 440 100.5C440.8 100.3 441.8 102.2 443 102.5C444.2 102.8 445.7 101.8 447 102C448.3 102.2 450.8 102.8 451 103.5C451.2 104.2 449.2 105.7 448 106.5C446.8 107.3 445.5 107.9 444 108.3C442.5 108.7 440.5 109 439 109C437.5 109 436.2 108.2 435 108C433.8 107.8 432.6 108.1 432 107.5C431.4 106.9 431 105.4 431.5 104.5Z" fill="#ffff00" stroke="#000" stroke-width="0.9" stroke-linejoin="round"/>
<path d="M449 104.5C450 104 453.5 104.5 456 104.6C458.5 104.7 463.8 104.9 464 105.3C464.2 105.7 459.3 106.8 457 107.2C454.7 107.6 451.3 108 450 107.6C448.7 107.1 448 105 449 104.5Z" fill="#ffc000"/>
<path d="M446 108.8C447.7 108.7 452.7 108.3 456 108C459.3 107.7 462.7 106.7 466 107C469.3 107.3 473.1 108.7 476 110C478.9 111.3 481.2 113.3 483.5 115C485.8 116.7 487.3 118.8 489.8 120C492.3 121.2 495.8 121.9 498.5 122C501.2 122.1 503.9 121 506 120.5C508.1 120 509.3 119.7 511 118.8C512.7 117.9 514.3 116.2 516 115C517.7 113.8 519.3 112.3 521 111.3C522.7 110.3 525.2 109.2 526 108.8" fill="none" stroke="#000" stroke-width="1.5" stroke-linejoin="round"/>
<path d="M513.5 136.3C513.1 135.2 518.5 134.6 521 135C523.5 135.4 525.2 138 528.5 138.8C531.8 139.6 536.8 139.6 541 140C545.2 140.4 549.3 141.1 553.5 141.3C557.7 141.6 563.1 141.3 566 141.5C568.9 141.7 571 141.7 571 142.5C571 143.3 569.3 145.9 566 146.3C562.7 146.7 556 145.4 551 145C546 144.6 540.6 144.4 536 143.8C531.4 143.2 527.2 142.6 523.5 141.3C519.8 140.1 513.9 137.4 513.5 136.3Z" fill="#ff3434" stroke="#000" stroke-width="0.6" stroke-linejoin="round"/>
<path d="M596 103C596.4 101.2 599.2 99.7 601 98C602.8 96.3 605 94.7 607 93C609 91.3 610.8 89.4 613 88C615.2 86.6 617.7 84.5 620 84.5C622.3 84.5 625.2 86.8 627 88C628.8 89.2 631.5 91 631 91.5C630.5 92 626.2 91 624 91C621.8 91 619.9 90.7 618 91.5C616.1 92.3 614.4 94.4 612.5 96C610.6 97.6 608.1 99.5 606.5 101C604.9 102.5 603.1 103.6 603 105C602.9 106.4 604.3 108.2 606 109.5C607.7 110.8 610.5 111.9 613 112.5C615.5 113.1 618.7 113.2 621 113C623.3 112.8 626.8 111 627 111.5C627.2 112 624.3 115 622 115.8C619.7 116.6 616 116.9 613 116.5C610 116.1 606.4 114.8 604 113.5C601.6 112.2 599.8 110.2 598.5 108.5C597.2 106.8 595.6 104.8 596 103Z" fill="#8792cc" stroke="#000" stroke-width="0.6" stroke-linejoin="round"/>
<path d="M600 101.5C600.3 100.5 604 97.8 606 96C608 94.2 609.8 92.4 612 91C614.2 89.6 617 87.8 619 87.5C621 87.2 624.5 88.3 624 89C623.5 89.7 618.3 90.2 616 91.5C613.7 92.8 612 94.8 610 96.5C608 98.2 605.7 101.2 604 102C602.3 102.8 599.7 102.5 600 101.5Z" fill="#8db5dc" filter="url(#bl1)"/>
<path d="M577.5 95C577.8 94.1 580.2 92.8 582 92.5C583.8 92.2 586.5 92.8 588 93.5C589.5 94.2 591.3 96.1 591 97C590.7 97.9 587.8 98.8 586 99C584.2 99.2 581.4 98.7 580 98C578.6 97.3 577.2 95.9 577.5 95Z" fill="#8792cc" stroke="#000" stroke-width="0.6" stroke-linejoin="round"/>
<path d="M627.5 141C625.8 139.5 628.3 134.6 630 131.8C631.7 129 635 126.2 637.5 124.3C640 122.4 643.3 120.5 645 120.5C646.7 120.5 647.9 122.8 647.5 124.3C647.1 125.8 644.2 127.4 642.5 129.3C640.8 131.2 637.9 133.6 637.5 135.5C637.1 137.4 641.7 140.1 640 141C638.3 141.9 629.2 142.5 627.5 141Z" fill="#8580c2" stroke="#000" stroke-width="0.6" stroke-linejoin="round"/>
<path d="M585 131C585.5 130.2 587.3 128.8 589 128.5C590.7 128.2 593.8 128.3 595 129C596.2 129.7 596.7 131.7 596 132.5C595.3 133.3 592.7 133.8 591 134C589.3 134.2 587 134 586 133.5C585 133 584.5 131.8 585 131Z" fill="#8580c2" stroke="#000" stroke-width="0.6" stroke-linejoin="round"/>
<path d="M663.8 127C663.9 126.1 664.7 124.9 665.5 124.5C666.3 124.1 667.8 124 668.5 124.5C669.2 125 670.1 126.5 670 127.5C669.9 128.5 668.8 130.1 668 130.5C667.2 130.9 665.7 130.6 665 130C664.3 129.4 663.7 127.9 663.8 127Z" fill="#8580c2" stroke="#000" stroke-width="0.6" stroke-linejoin="round"/>
<path d="M534 71C532.7 68.7 533.3 64.3 534 62C534.7 59.7 536.2 58.1 538 57C539.8 55.9 542.7 55.7 545 55.5C547.3 55.3 550.2 55.2 552 56C553.8 56.8 555.2 58.3 556 60C556.8 61.7 557.2 64 557 66C556.8 68 556.2 70.3 555 72C553.8 73.7 552.2 75.3 550 76C547.8 76.7 544.7 76.8 542 76C539.3 75.2 535.3 73.3 534 71Z" fill="#a8609a" filter="url(#bl1)"/>
<path d="M551 60.5C549.8 60.3 546.1 59.4 544 59.5C541.9 59.6 539.7 60.1 538.5 61C537.3 61.9 536.6 63.8 537 65C537.4 66.2 539.3 67.3 541 68C542.7 68.7 545.4 68.3 547 69C548.6 69.7 550.3 70.9 550.5 72C550.7 73.1 549.6 74.8 548 75.5C546.4 76.2 542.8 76.2 541 76C539.2 75.8 537.7 74.3 537 74" fill="none" stroke="#000" stroke-width="3.6" stroke-linejoin="round"/>
<path d="M551 60.5C549.8 60.3 546.1 59.4 544 59.5C541.9 59.6 539.7 60.1 538.5 61C537.3 61.9 536.6 63.8 537 65C537.4 66.2 539.3 67.3 541 68C542.7 68.7 545.4 68.3 547 69C548.6 69.7 550.3 70.9 550.5 72C550.7 73.1 549.6 74.8 548 75.5C546.4 76.2 542.8 76.2 541 76C539.2 75.8 537.7 74.3 537 74" fill="none" stroke="#ff3434" stroke-width="2.6" stroke-linejoin="round"/>
<path d="M533 70C533.7 68.7 535 64.2 537 62C539 59.8 542.3 57.8 545 57C547.7 56.2 550.8 58.2 553 57.5C555.2 56.8 556.3 54.2 558 53C559.7 51.8 561.5 50.2 563 50C564.5 49.8 567 50.8 567 52C567 53.2 564.3 55.7 563 57C561.7 58.3 559.7 59.5 559 60" fill="none" stroke="#8580c2" stroke-width="2.5" stroke-linejoin="round"/>
<path d="M442.3 80.5C442.8 77.9 444.7 75.6 446 74.3C447.3 73 449.8 72 450 72.5C450.2 73 447.9 75.2 447 77C446.1 78.8 444.7 81 444.5 83C444.3 85 445.1 87.2 446 89C446.9 90.8 449.8 92.8 450 94C450.2 95.2 448.2 96.7 447 96C445.8 95.3 443.8 92.6 443 90C442.2 87.4 441.8 83.1 442.3 80.5Z" fill="#8aa4d6"/>
<path d="M592.5 83.8C593.2 82.7 596.1 81.8 598 81C599.9 80.2 601.7 79.1 604 79C606.3 78.9 611.7 79.8 612 80.5C612.3 81.2 608 82.1 606 83C604 83.9 602 85.2 600 86C598 86.8 595.2 87.9 594 87.5C592.8 87.1 591.8 84.9 592.5 83.8Z" fill="#8792cc" stroke="#000" stroke-width="0.5" stroke-linejoin="round"/>
<path d="M676 97C678.2 95.2 682.7 94.7 686 94C689.3 93.3 692.7 92.7 696 93C699.3 93.3 705.3 95 706 96C706.7 97 702.7 98.6 700 99C697.3 99.4 693.3 98.2 690 98.5C686.7 98.8 682.8 99.9 680 101C677.2 102.1 673.7 105.7 673 105C672.3 104.3 673.8 98.8 676 97Z" fill="#8580c2" filter="url(#bl1)"/>
<path d="M716 127C717.3 126 724 126.2 728 126C732 125.8 736 126.3 740 126C744 125.7 750 121.7 752 124C754 126.3 753.7 137.2 752 140C750.3 142.8 745.7 141.7 742 141C738.3 140.3 733.7 137.5 730 136C726.3 134.5 722.3 133.5 720 132C717.7 130.5 714.7 128 716 127Z" fill="#8580c2" filter="url(#bl1)"/>
<g fill="#808080" transform="translate(381.3 0.7)">
<path d="M39 78.6H55.4V84.3H39Z" fill="#fff"/>
<path d="M39.5 7.5L45.9 7.5L45.6 11.9L44.6 13.5L43.2 15.8L42.6 18L41.6 19.8L40.8 21.5L39.5 22Z"/>
<path d="M63.6 7.5L84 7.5L85.5 10.5L87.3 14.2L85 14.6L80.7 13.4L77 14.2L74.2 15.8L71.5 18.5L69.5 21.1L68 23.5L67.6 25.7L69 27.8L70.9 29.7L72.5 31.8L74.2 33.6L76.5 34L78.8 34.5L79.3 37L79.2 40.2L77.4 40.4L77.2 38L77 36.2L75 35.8L73.5 35.6L71 35L68.9 34.9L67 36.5L65.6 38.2L64.4 40L63 41.5L61.6 40.8L61 39.5L60.3 37.5L60.3 35.6L61.2 33L62.3 30.3L62.8 28.3L63 26.4L63.8 25L64.3 23.7L63.2 21.8L62.3 19.8L61.8 18L61.7 16.5L62.3 14L63 11.9L63.4 9.6Z"/>
<path d="M58.4 45.7L63.6 45.7L66 48.5L68.9 51.2L73.5 53.4L78.1 55.1L82.7 56.6L87.3 57.8L90.6 58.3L93.9 58.4L96.4 56.8L98.7 55L97.6 57.5L96.5 59.7L98.5 61.5L101.3 63.5L97.5 64.5L93.9 65L90 65.4L86 65.7L83.2 66.5L80.7 67.6L79 70L78.1 72.6L75.5 73.4L73.5 73.4L71.5 72.6L66.9 70.9L62.3 69.3L58.4 68.6L55.1 69.3L51.8 70.6L49.2 70.3L45.9 69.3L43.9 70L42.9 71.9L45.9 72.6L49.2 73.6L52.1 74.9L49.2 75.4L45.9 75.9L43.9 77.5L41.9 78.2L39.5 77.2L39.5 67.3L41.3 68.5L43.9 66.3L45.2 63.7L47.8 64.2L50.5 64.3L53 63L55.1 61.7L56.2 59.4L57.1 57.1L58.4 55L59.7 53.2L59.4 51L59 49.2L58.2 47.5Z"/>
<path d="M39.5 83.8L42 83L43.2 80.5L46.5 80.1L47.2 82.4L49.2 83.8L52 83.2L54 82.3L54.5 80.5L52.5 80.1L49.5 80.3L49.2 78.8L52.4 78.2L56.4 78.5L55.6 80.3L55.8 82.4L56.7 84L57.7 85.7L59 87.2L60.3 88.4L61.5 90.5L62.2 93L62.5 95.7L60.5 97.3L58.4 98.4L55.5 100L53.1 101.7L51 103.5L50 106L49.8 108.2L50.3 110.5L51.1 112.8L49.8 115L48.5 116.8L47.8 119.5L47.2 122L46 124.5L44.6 126.7L43.3 128.5L41.9 130L39.5 131.5Z"/>
<path d="M98.8 59.6L101 57.7L104 55.8L108 53.6L108.4 54.3L105 56.6L102 58.5L99.4 60.3Z"/>
<path d="M116 53.6L119 51.8L122 50.3L125 48.6L128 47.3L131 46.1L134 45.2L137 44.5L137.2 45.2L134 46.1L130 47.7L126.5 49.3L123 50.9L120 52.6L116.6 54.3Z"/>
<path d="M142.5 42.6L145 41.7L148 40.7L150.5 39.9L153 39.2L153.2 39.9L150.5 40.7L148 41.5L145.5 42.4L142.8 43.3Z"/>
<path d="M107.8 60.6L108.8 60.6L108.8 61.4L107.8 61.4Z"/>
<path d="M112.8 58.6L113.8 58.6L113.8 59.4L112.8 59.4Z"/>
<path d="M168 33.5L170 32.8L172.4 32.2L172.6 32.8L170 33.5L168.2 34.1Z"/>
<path d="M182.8 23.4L184.5 23.1L184.7 24.2L183 24.5Z"/>
<path d="M193.4 16.4L195 15.5L196.6 14.8L197 15.7L195.2 16.6L193.7 17.3Z"/>
<path d="M199.4 13.8L201 12.8L203 11.8L203.4 12.7L201.3 13.7L199.8 14.7Z"/>
</g>
</g>
<path d="M420.9 8.2H750.6V171.3H420.9ZM420.9 8.2v-6.5M420.9 171.3v6.5M442.9 8.2v-6.5M442.9 171.3v6.5M464.9 8.2v-6.5M464.9 171.3v6.5M486.8 8.2v-6.5M486.8 171.3v6.5M508.8 8.2v-6.5M508.8 171.3v6.5M530.8 8.2v-6.5M530.8 171.3v6.5M552.8 8.2v-6.5M552.8 171.3v6.5M574.8 8.2v-6.5M574.8 171.3v6.5M596.7 8.2v-6.5M596.7 171.3v6.5M618.7 8.2v-6.5M618.7 171.3v6.5M640.7 8.2v-6.5M640.7 171.3v6.5M662.7 8.2v-6.5M662.7 171.3v6.5M684.7 8.2v-6.5M684.7 171.3v6.5M706.6 8.2v-6.5M706.6 171.3v6.5M728.6 8.2v-6.5M728.6 171.3v6.5M750.6 8.2v-6.5M750.6 171.3v6.5M420.9 8.2h-6.5M750.6 8.2h6.5M420.9 24.5h-6.5M750.6 24.5h6.5M420.9 40.8h-6.5M750.6 40.8h6.5M420.9 57.1h-6.5M750.6 57.1h6.5M420.9 73.4h-6.5M750.6 73.4h6.5M420.9 89.8h-6.5M750.6 89.8h6.5M420.9 106.1h-6.5M750.6 106.1h6.5M420.9 122.4h-6.5M750.6 122.4h6.5M420.9 138.7h-6.5M750.6 138.7h6.5M420.9 155h-6.5M750.6 155h6.5M420.9 171.3h-6.5M750.6 171.3h6.5" fill="none" stroke="#444" stroke-width="0.85"/>
<g opacity="0.999"><text x="421.8" y="192.4" text-anchor="middle" class="tk">140°E</text>
<text x="465.8" y="192.4" text-anchor="middle" class="tk">144°E</text>
<text x="509.7" y="192.4" text-anchor="middle" class="tk">148°E</text>
<text x="553.7" y="192.4" text-anchor="middle" class="tk">152°E</text>
<text x="597.6" y="192.4" text-anchor="middle" class="tk">156°E</text>
<text x="641.6" y="192.4" text-anchor="middle" class="tk">160°E</text>
<text x="685.6" y="192.4" text-anchor="middle" class="tk">164°E</text>
<text x="729.5" y="192.4" text-anchor="middle" class="tk">168°E</text>
<text x="409" y="175.3" text-anchor="end" class="tk">30°N</text>
<text x="409" y="142.7" text-anchor="end" class="tk">34°N</text>
<text x="409" y="110.1" text-anchor="end" class="tk">38°N</text>
<text x="409" y="77.4" text-anchor="end" class="tk">42°N</text>
<text x="409" y="44.8" text-anchor="end" class="tk">46°N</text>
<text x="409" y="12.2" text-anchor="end" class="tk">50°N</text>
<text x="461.5" y="27.6" class="tt">b)</text>
<text x="485.3" y="27.6" class="tt">3</text>
<text x="501" y="27.6" class="tt">months</text></g>
<!-- panel c -->
<g clip-path="url(#cpc)">
<path d="M62.8 268.8C68 268.6 67.7 267.1 70 266.5C72.3 265.9 73.3 265.6 76.5 265C79.7 264.4 84.8 263.6 89 263C93.2 262.4 97.3 262.2 101.5 261.3C105.7 260.4 109.8 258.8 114 257.5C118.2 256.2 123.2 255.5 126.5 253.8C129.8 252.1 131.5 249.4 134 247.5C136.5 245.6 138.6 243.9 141.5 242.5C144.4 241.1 148.2 239.4 151.5 238.8C154.8 238.2 158.6 238.2 161.5 238.8C164.4 239.4 166.5 241.1 169 242.5C171.5 243.9 173.2 246.7 176.5 247.5C179.8 248.3 184.8 247 189 247.5C193.2 248 197.1 250.1 201.5 250.5C205.9 250.9 211.1 250.7 215.5 250C219.9 249.3 224.7 247.6 228 246.3C231.3 245 232.6 242.8 235.5 242C238.4 241.2 242.4 241.7 245.5 241.3C248.6 240.9 252.6 239.1 254.3 239.5C256 239.9 255.9 242.1 255.5 243.8C255.1 245.6 251.4 248.3 251.8 250C252.2 251.7 255.7 252.8 258 253.8C260.3 254.9 263.4 255.1 265.5 256.3C267.6 257.6 268.4 259.9 270.5 261.3C272.6 262.8 275.1 264.2 278 265C280.9 265.8 284.7 266.1 288 266.3C291.3 266.5 294.7 266.2 298 266.3C301.3 266.4 304.2 267 308 267C311.8 267 316.3 266.2 320.5 266.3C324.7 266.4 329.2 267.1 333 267.5C336.8 267.9 340.5 269.2 343 268.8C345.5 268.4 345.9 266.1 348 265C350.1 263.9 353 262.5 355.5 262C358 261.5 360.2 261.4 363 262C365.8 262.6 370.5 249.7 372 265.5C373.5 281.3 374.8 341.1 372 357C369.2 372.9 360.3 360 355.5 360.8C350.7 361.6 347.6 361.4 343 362C338.4 362.6 333 364.3 328 364.5C323 364.7 318 363.7 313 363.3C308 362.9 303 361.4 298 362C293 362.6 288.4 365.9 283 367C277.6 368.1 271.3 368.5 265.5 368.3C259.7 368.1 253.4 366.4 248 365.8C242.6 365.2 238 364.6 233 364.5C228 364.4 222.6 365.2 218 365C213.4 364.8 209.7 363.8 205.5 363.3C201.3 362.8 197.4 361.6 193 362C188.6 362.4 184.7 365.4 179 365.8C173.3 366.2 164.4 365.1 159 364.5C153.6 363.9 150.7 362.2 146.5 362C142.3 361.8 138.2 361.8 134 363C129.8 364.2 124.2 366.8 121.5 369C118.8 371.2 131.6 374.8 118 376C104.4 377.2 52 377.2 40 376C28 374.8 44.5 372.2 46 369C47.5 365.8 47.2 360.7 49 357C50.8 353.3 55.4 350.3 57 347C58.6 343.7 57.4 340.3 58.5 337C59.6 333.7 61.6 330.3 63.5 327C65.4 323.7 67.9 319.7 70 317C72.1 314.3 76.7 312.5 76 311C75.3 309.5 70 308.9 66 308.2C62 307.4 56.5 307 52 306.5C47.5 306 41.2 311.4 39 305C36.8 298.6 35 274 39 268C43 262 57.6 269.1 62.8 268.8Z" fill="#99eef2" stroke="#99eef2" stroke-width="5" stroke-linejoin="round" filter="url(#bl1)"/>
<path d="M260.5 242.5C261.3 240.6 266.8 236.9 270.5 235C274.2 233.1 278.8 232.1 283 231.3C287.2 230.5 292.2 231.1 295.5 230C298.8 228.9 300.1 226 303 225C305.9 224 308.6 223.6 313 223.8C317.4 224 328.5 225.3 329.3 226.3C330.1 227.3 322.4 228.8 318 230C313.6 231.2 307.2 232.8 303 233.8C298.8 234.9 296.3 235.5 293 236.3C289.7 237.1 285.9 237.8 283 238.8C280.1 239.8 278.4 241.2 275.5 242.5C272.6 243.8 268 246.3 265.5 246.3C263 246.3 259.7 244.4 260.5 242.5Z" fill="#99fcfc" opacity="0.75" filter="url(#bl1)"/>
<path d="M213 243.5C213.5 242.7 220.5 241.8 225 241C229.5 240.2 234.8 239 240 238.5C245.2 238 254.3 237.5 256 238C257.7 238.5 253.3 240.7 250 241.5C246.7 242.3 240.7 242.2 236 243C231.3 243.8 225.8 245.9 222 246C218.2 246.1 212.5 244.3 213 243.5Z" fill="#99fcfc" filter="url(#bl1)"/>
<path d="M158 236C158.7 235.5 163.3 235.2 166 235.5C168.7 235.8 173.3 237.2 174 238C174.7 238.8 172 239.9 170 240C168 240.1 164 239.2 162 238.5C160 237.8 157.3 236.5 158 236Z" fill="#99fcfc" filter="url(#bl1)"/>
<path d="M209 244C210 243.1 214.8 241.4 218 241C221.2 240.6 227.5 240.9 228 241.5C228.5 242.1 223.7 243.7 221 244.5C218.3 245.3 214 246.6 212 246.5C210 246.4 208 244.9 209 244Z" fill="#99fcfc" filter="url(#bl1)"/>
<path d="M62.8 268.8C68 268.6 67.7 267.1 70 266.5C72.3 265.9 73.3 265.6 76.5 265C79.7 264.4 84.8 263.6 89 263C93.2 262.4 97.3 262.2 101.5 261.3C105.7 260.4 109.8 258.8 114 257.5C118.2 256.2 123.2 255.5 126.5 253.8C129.8 252.1 131.5 249.4 134 247.5C136.5 245.6 138.6 243.9 141.5 242.5C144.4 241.1 148.2 239.4 151.5 238.8C154.8 238.2 158.6 238.2 161.5 238.8C164.4 239.4 166.5 241.1 169 242.5C171.5 243.9 173.2 246.7 176.5 247.5C179.8 248.3 184.8 247 189 247.5C193.2 248 197.1 250.1 201.5 250.5C205.9 250.9 211.1 250.7 215.5 250C219.9 249.3 224.7 247.6 228 246.3C231.3 245 232.6 242.8 235.5 242C238.4 241.2 242.4 241.7 245.5 241.3C248.6 240.9 252.6 239.1 254.3 239.5C256 239.9 255.9 242.1 255.5 243.8C255.1 245.6 251.4 248.3 251.8 250C252.2 251.7 255.7 252.8 258 253.8C260.3 254.9 263.4 255.1 265.5 256.3C267.6 257.6 268.4 259.9 270.5 261.3C272.6 262.8 275.1 264.2 278 265C280.9 265.8 284.7 266.1 288 266.3C291.3 266.5 294.7 266.2 298 266.3C301.3 266.4 304.2 267 308 267C311.8 267 316.3 266.2 320.5 266.3C324.7 266.4 329.2 267.1 333 267.5C336.8 267.9 340.5 269.2 343 268.8C345.5 268.4 345.9 266.1 348 265C350.1 263.9 353 262.5 355.5 262C358 261.5 360.2 261.4 363 262C365.8 262.6 370.5 249.7 372 265.5C373.5 281.3 374.8 341.1 372 357C369.2 372.9 360.3 360 355.5 360.8C350.7 361.6 347.6 361.4 343 362C338.4 362.6 333 364.3 328 364.5C323 364.7 318 363.7 313 363.3C308 362.9 303 361.4 298 362C293 362.6 288.4 365.9 283 367C277.6 368.1 271.3 368.5 265.5 368.3C259.7 368.1 253.4 366.4 248 365.8C242.6 365.2 238 364.6 233 364.5C228 364.4 222.6 365.2 218 365C213.4 364.8 209.7 363.8 205.5 363.3C201.3 362.8 197.4 361.6 193 362C188.6 362.4 184.7 365.4 179 365.8C173.3 366.2 164.4 365.1 159 364.5C153.6 363.9 150.7 362.2 146.5 362C142.3 361.8 138.2 361.8 134 363C129.8 364.2 124.2 366.8 121.5 369C118.8 371.2 131.6 374.8 118 376C104.4 377.2 52 377.2 40 376C28 374.8 44.5 372.2 46 369C47.5 365.8 47.2 360.7 49 357C50.8 353.3 55.4 350.3 57 347C58.6 343.7 57.4 340.3 58.5 337C59.6 333.7 61.6 330.3 63.5 327C65.4 323.7 67.9 319.7 70 317C72.1 314.3 76.7 312.5 76 311C75.3 309.5 70 308.9 66 308.2C62 307.4 56.5 307 52 306.5C47.5 306 41.2 311.4 39 305C36.8 298.6 35 274 39 268C43 262 57.6 269.1 62.8 268.8Z" fill="#8aa4d6"/>
<path d="M70 317C72.1 314.4 73.7 312.2 76 311.3C78.3 310.4 80.6 311.1 84 311.5C87.4 311.9 92.3 312.8 96.5 313.5C100.7 314.2 105.9 315.1 109 316C112.1 316.9 113.5 317.7 115 319C116.5 320.3 116.7 322.5 118 324C119.3 325.5 121.2 327.4 123 328C124.8 328.6 127.2 328.5 129 327.5C130.8 326.5 133.3 324.2 134 322C134.7 319.8 133.9 316.2 133 314C132.1 311.8 128.8 310.4 128.5 309C128.2 307.6 129.6 306.3 131 305.5C132.4 304.7 135 303.9 137 304C139 304.1 141.4 304.8 143 306C144.6 307.2 145.7 309 146.5 311C147.3 313 147.1 315.8 148 318C148.9 320.2 150 322.3 152 324C154 325.7 156.7 327.5 160 328C163.3 328.5 168.5 328.2 172 327C175.5 325.8 178.7 323.3 181 321C183.3 318.7 184.7 315.3 186 313C187.3 310.7 188 308.2 189 307C190 305.8 192 304.2 192 306C192 307.8 190.2 314 189 318C187.8 322 186.8 325.5 185 330C183.2 334.5 180.2 340 178 345C175.8 350 175 356.5 172 360C169 363.5 166.3 365.2 160 366C153.7 366.8 140.5 364.2 134 365C127.5 365.8 135.7 369.2 121 371C106.3 372.8 58 378.3 46 376C34 373.7 47.2 361.8 49 357C50.8 352.2 55.4 350.3 57 347C58.6 343.7 57.4 340.3 58.5 337C59.6 333.7 61.6 330.3 63.5 327C65.4 323.7 67.9 319.6 70 317Z" fill="#8db5dc"/>
<path d="M75 322C78.3 319.7 85 318.3 90 318C95 317.7 101.3 318.7 105 320C108.7 321.3 112 324.3 112 326C112 327.7 107.3 328.3 105 330C102.7 331.7 98.2 333.7 98 336C97.8 338.3 101.7 341.7 104 344C106.3 346.3 108.7 348.7 112 350C115.3 351.3 120 352 124 352C128 352 131.7 350 136 350C140.3 350 145.2 352.3 150 352C154.8 351.7 160.3 350 165 348C169.7 346 174.5 343 178 340C181.5 337 185.7 329.2 186 330C186.3 330.8 182.3 340.3 180 345C177.7 349.7 176.2 355.2 172 358C167.8 360.8 161.2 361.7 155 362C148.8 362.3 141.2 359.7 135 360C128.8 360.3 123.8 364 118 364C112.2 364 105.3 362 100 360C94.7 358 90 355 86 352C82 349 78.7 345.3 76 342C73.3 338.7 70.2 335.3 70 332C69.8 328.7 71.7 324.3 75 322Z" fill="#8792cc"/>
<path d="M120 333C122.2 331.2 130 331 135 331C140 331 145 333.2 150 333C155 332.8 160.7 331.5 165 330C169.3 328.5 172.8 326 176 324C179.2 322 182.3 317.7 184 318C185.7 318.3 187 322.7 186 326C185 329.3 181.5 335 178 338C174.5 341 169.7 342.5 165 344C160.3 345.5 155 346.7 150 347C145 347.3 139.7 346.8 135 346C130.3 345.2 124.5 344.2 122 342C119.5 339.8 117.8 334.8 120 333Z" fill="#8580c2"/>
<path d="M49 357C50.8 352.2 54.2 349.5 57 347.5C59.8 345.5 62.8 345.2 66 345C69.2 344.8 73 345.2 76 346C79 346.8 81.3 348.5 84 350C86.7 351.5 89.3 353.3 92 355C94.7 356.7 97.3 358.5 100 360C102.7 361.5 105.3 362.7 108 364C110.7 365.3 114.3 366 116 368C117.7 370 129.7 374.7 118 376C106.3 377.3 57.5 379.2 46 376C34.5 372.8 47.2 361.8 49 357Z" fill="#92c6e2" filter="url(#bl1)"/>
<path d="M52 362C53.7 358.7 57.3 354 60 352C62.7 350 65.3 349.8 68 350C70.7 350.2 75.3 351.7 76 353C76.7 354.3 74 356.5 72 358C70 359.5 66.3 360.3 64 362C61.7 363.7 60.3 366.3 58 368C55.7 369.7 51 373 50 372C49 371 50.3 365.3 52 362Z" fill="#99dce8" filter="url(#bl1)"/>
<path d="M104 328.5C104.7 328 109.2 327.8 112 328C114.8 328.2 120 328.9 121 329.5C122 330.1 120.2 331.2 118 331.5C115.8 331.8 110.3 331.5 108 331C105.7 330.5 103.3 329 104 328.5Z" fill="#99eef2" filter="url(#bl1)"/>
<path d="M134 363C135.7 361.6 139.2 361.5 142 361.5C144.8 361.5 149.7 361.6 151 363C152.3 364.4 153.2 368.8 150 370C146.8 371.2 134.7 371.2 132 370C129.3 368.8 132.3 364.4 134 363Z" fill="#99fcfc" filter="url(#bl1)"/>
<path d="M150 338C152.2 335.5 160 334.3 165 333C170 331.7 175.8 330.2 180 330C184.2 329.8 186.7 329.5 190 332C193.3 334.5 196.3 341 200 345C203.7 349 206.7 354 212 356C217.3 358 226.3 357.2 232 357C237.7 356.8 241.7 354.7 246 355C250.3 355.3 254.3 357.7 258 359C261.7 360.3 264.3 362.7 268 363C271.7 363.3 276.3 362.3 280 361C283.7 359.7 287.2 356.7 290 355C292.8 353.3 294 351.2 297 351C300 350.8 304.5 352.8 308 354C311.5 355.2 314.3 357.8 318 358C321.7 358.2 325.5 357 330 355C334.5 353 338 348.8 345 346C352 343.2 367.5 336.2 372 338C376.5 339.8 374.8 353.2 372 357C369.2 360.8 360.3 360 355.5 360.8C350.7 361.6 347.6 361.4 343 362C338.4 362.6 333 364.3 328 364.5C323 364.7 318 363.7 313 363.3C308 362.9 303 361.4 298 362C293 362.6 288.4 365.9 283 367C277.6 368.1 271.3 368.5 265.5 368.3C259.7 368.1 253.4 366.4 248 365.8C242.6 365.2 238 364.6 233 364.5C228 364.4 222.6 365.2 218 365C213.4 364.8 209.7 363.8 205.5 363.3C201.3 362.8 197.2 362.2 193 362C188.8 361.8 184.7 363 180 362C175.3 361 169.7 358.3 165 356C160.3 353.7 154.5 351 152 348C149.5 345 147.8 340.5 150 338Z" fill="#8580c2"/>
<path d="M160 340C161.7 338.2 168 336.2 172 335C176 333.8 180.7 332.7 184 333C187.3 333.3 189.3 334.5 192 337C194.7 339.5 197 344.8 200 348C203 351.2 210 354.3 210 356C210 357.7 204 358 200 358C196 358 190.7 357 186 356C181.3 355 176 353.7 172 352C168 350.3 164 348 162 346C160 344 158.3 341.8 160 340Z" fill="#a8609a" filter="url(#bl1)"/>
<path d="M176 338C176.7 336 183.3 335.7 186 336C188.7 336.3 190 337.7 192 340C194 342.3 198 348 198 350C198 352 194.7 352.3 192 352C189.3 351.7 184.7 350.3 182 348C179.3 345.7 175.3 340 176 338Z" fill="#d84a62" filter="url(#bl1)"/>
<path d="M62.8 282.5C65.3 281.6 63.2 279.1 65.3 277.5C67.4 275.9 73.2 274.7 75.3 273C77.4 271.3 76.3 268.9 77.8 267.5C79.2 266.1 81.5 265.2 84 264.5C86.5 263.8 89.5 263.4 92.8 263C96.1 262.6 100.5 262.7 104 262C107.5 261.3 110.2 260 114 258.8C117.8 257.6 123.6 255.4 126.5 255C129.4 254.6 130 255.5 131.5 256.3C133 257.1 133.6 258.6 135.3 260C137 261.4 139.2 263.5 141.5 265C143.8 266.5 146.1 268.1 149 268.8C151.9 269.6 155.9 270.1 159 269.5C162.1 268.9 165.5 266.8 167.8 265C170.1 263.2 171.6 260.7 172.8 258.8C174.1 256.9 173.9 254.9 175.3 253.8C176.8 252.7 179.2 252.1 181.5 252C183.8 251.9 187 252.2 189 253C191 253.8 191.6 255.2 193.5 257C195.4 258.8 198.1 263.1 200.5 263.8C202.9 264.5 205.5 261.3 208 261.3C210.5 261.3 213 263.2 215.5 263.8C218 264.4 220.1 264.6 223 265C225.9 265.4 230.1 266.5 233 266.3C235.9 266.1 237.6 264.6 240.5 263.8C243.4 263 247.8 260.9 250.5 261.3C253.2 261.7 255.6 264.2 256.8 266.3C258.1 268.4 256.6 271.9 258 273.8C259.4 275.8 263.6 278 265.5 278C267.4 278 269.1 275.3 269.3 273.8C269.5 272.3 266.2 269.4 266.8 268.8C267.4 268.2 270.3 269.7 273 270C275.7 270.3 279.2 270.6 283 270.5C286.8 270.4 291.3 269.6 295.5 269.5C299.7 269.4 303.8 269.8 308 270C312.2 270.2 316.3 270.1 320.5 270.5C324.7 270.9 329.2 271.9 333 272.5C336.8 273.1 339.7 274 343 273.8C346.3 273.6 350.1 272.4 353 271.3C355.9 270.2 357.3 267.9 360.5 267.5C363.7 267.1 370.1 257.7 372 269C373.9 280.3 374.3 323.9 372 335.5C369.7 347.1 362.4 337.2 358 338.3C353.6 339.4 349.2 340.6 345.5 342C341.8 343.4 338.8 345.3 335.5 347C332.2 348.7 328.8 350.8 325.5 352C322.2 353.2 318.8 354.7 315.5 354.5C312.2 354.3 308.8 351.8 305.5 350.8C302.2 349.8 298.4 348.1 295.5 348.3C292.6 348.5 290.9 350.3 288 352C285.1 353.7 281.8 357.1 278 358.3C274.2 359.6 269.2 359.9 265.5 359.5C261.8 359.1 258.8 357.1 255.5 355.8C252.2 354.6 249.2 352.4 245.5 352C241.8 351.6 237.2 352.7 233 353.3C228.8 353.9 224.7 355.8 220.5 355.8C216.3 355.8 211.8 354.8 208 353.3C204.2 351.8 200.8 349.2 198 347C195.2 344.8 193 341.9 191.5 340C190 338.1 189.2 336.7 189 335.8C188.8 334.9 189 334.3 190.5 334.5C192 334.7 195.1 336.2 198 337C200.9 337.8 204.2 339.1 208 339.5C211.8 339.9 216.8 339.9 220.5 339.5C224.2 339.1 227.2 338 230.5 337C233.8 336 237.2 334.3 240.5 333.3C243.8 332.3 246.8 331.4 250.5 330.8C254.2 330.2 258.8 330.1 263 329.5C267.2 328.9 271.3 328.3 275.5 327.5C279.7 326.7 284.4 325.2 288 324.5C291.6 323.8 294.9 322.9 296.8 323.3C298.7 323.7 298.3 326.6 299.3 327C300.3 327.4 301.8 326.8 303 325.8C304.2 324.8 305.1 321.9 306.8 320.8C308.5 319.8 310.9 320.6 313 319.5C315.1 318.4 318.9 315.9 319.3 314.5C319.7 313.1 317.4 311.6 315.5 310.8C313.6 310 310.5 309.3 308 309.5C305.5 309.7 303 310.8 300.5 312C298 313.2 295.9 315.5 293 317C290.1 318.5 286.8 319.8 283 320.8C279.2 321.9 274.7 322.4 270.5 323.3C266.3 324.2 262.2 325.4 258 326C253.8 326.6 249.5 327.4 245.5 327C241.5 326.6 237.2 325.2 234 323.8C230.8 322.4 228.6 320.3 226 318.3C223.4 316.3 220.8 313.9 218.2 312C215.6 310.1 213.1 308.7 210.2 307.2C207.3 305.7 203.9 304.1 200.7 303.2C197.5 302.3 192 301.9 191.2 302C190.4 302.1 194.2 303.2 196 304C197.8 304.8 200.6 305.8 202.3 307C204 308.2 205.8 309.8 206.3 311C206.8 312.2 206.7 313.5 205.5 314.3C204.3 315.1 201.4 315.9 199 316C196.6 316.1 194.1 314.9 191.2 315C188.3 315.1 184.6 315.6 181.7 316.7C178.8 317.8 176.4 320.2 173.8 321.5C171.2 322.8 168.6 324.5 166 324.6C163.4 324.7 160.2 323 158 322C155.8 321 154.3 319.8 153 318.5C151.7 317.2 151 316.2 150.3 314.5C149.6 312.8 150.1 310.2 149 308.3C147.9 306.4 146.3 304.4 144 303.3C141.7 302.2 138 301.3 135.3 301.5C132.6 301.7 129.5 303.2 127.8 304.5C126.1 305.8 124.9 307.8 125.3 309.5C125.7 311.2 129.3 312.6 130.3 314.5C131.3 316.4 131.9 319.1 131.5 320.8C131.1 322.5 129.2 323.9 127.8 324.5C126.3 325.1 124.3 325.1 122.8 324.5C121.3 323.9 120 322.2 119 320.8C118 319.4 118.2 317.1 116.5 315.8C114.8 314.6 112.3 314.1 109 313.3C105.7 312.5 100.7 311.6 96.5 310.8C92.3 310 88.2 309.1 84 308.3C79.8 307.5 75.7 306.4 71.5 305.8C67.3 305.2 62.6 304.8 59 304.5C55.4 304.2 51.5 307.6 50 304C48.5 300.4 47.9 286.6 50 283C52.1 279.4 60.2 283.4 62.8 282.5Z" fill="#ff7016" stroke="#000" stroke-width="0.8" stroke-linejoin="round"/>
<path d="M196 304C197.1 304.5 200.6 305.8 202.3 307C204 308.2 205.8 309.8 206.3 311C206.8 312.2 206.7 313.5 205.5 314.3C204.3 315.1 201.4 315.9 199 316C196.6 316.1 194.1 314.9 191.2 315C188.3 315.1 184.6 315.6 181.7 316.7C178.8 317.8 176.4 320.2 173.8 321.5C171.2 322.8 168.6 324.5 166 324.6C163.4 324.7 160.2 323 158 322C155.8 321 154.3 319.8 153 318.5C151.7 317.2 151 316.2 150.3 314.5C149.6 312.8 150.1 310.2 149 308.3C147.9 306.4 146.3 304.4 144 303.3C141.7 302.2 138 301.3 135.3 301.5C132.6 301.7 129.5 303.2 127.8 304.5C126.1 305.8 124.9 307.8 125.3 309.5C125.7 311.2 129.3 312.6 130.3 314.5C131.3 316.4 131.9 319.1 131.5 320.8C131.1 322.5 129.2 323.9 127.8 324.5C126.3 325.1 124.3 325.1 122.8 324.5C121.3 323.9 120 322.2 119 320.8C118 319.4 118.2 317.1 116.5 315.8C114.8 314.6 112.3 314.1 109 313.3C105.7 312.5 100.7 311.6 96.5 310.8C92.3 310 88.2 309.1 84 308.3C79.8 307.5 75.7 306.4 71.5 305.8C67.3 305.2 61.1 304.7 59 304.5" fill="none" stroke="#000" stroke-width="1.1" stroke-linejoin="round"/>
<path d="M191.2 302L200.7 303.2L210.2 307.2L218.2 312L226 318.3L234 323.8L245.5 327L258 326L270.5 323.3L283 320.8L293 317L300.5 312L308 309.5L315.5 310.8L319.3 314.5L319.3 314.5L313 319.5L306.8 320.8L303 325.8L299.3 327L296.8 323.3L288 324.5L275.5 327.5L263 329.5L250.5 330.8L240.5 333.3L230.5 337L220.5 339.5L208 339.5L198 337L190.5 334.5L186 330L180 322L191 316.5L199 317L206 315L207 310.5L202.5 306.5L196 303.5Z" fill="#8580c2"/>
<path d="M200 310C203.3 309 208 312.3 212 314C216 315.7 220 318 224 320C228 322 231.7 324.5 236 326C240.3 327.5 245.2 328.8 250 329C254.8 329.2 260 327.8 265 327C270 326.2 275.5 325.2 280 324C284.5 322.8 288.7 321.5 292 320C295.3 318.5 297.3 316.3 300 315C302.7 313.7 305.7 312.2 308 312C310.3 311.8 314.3 313 314 314C313.7 315 308.7 316.7 306 318C303.3 319.3 301.5 321.1 298 322C294.5 322.9 289.7 322.8 285 323.5C280.3 324.2 275 325.7 270 326.5C265 327.3 260 327.7 255 328.5C250 329.3 244.5 330.4 240 331.5C235.5 332.6 232.3 334.1 228 335C223.7 335.9 218.3 337 214 337C209.7 337 205.3 336.2 202 335C198.7 333.8 195.7 332.5 194 330C192.3 327.5 191 323.3 192 320C193 316.7 196.7 311 200 310Z" fill="#a8609a" filter="url(#bl1)"/>
<path d="M185 321.5C185.3 320.5 189.5 320 192 320C194.5 320 197.3 321.5 200 321.5C202.7 321.5 205.8 320 208 320C210.2 320 213 320.5 213 321.5C213 322.5 209.5 324.4 208 326C206.5 327.6 205.7 330 204 331C202.3 332 199.3 332.5 198 332C196.7 331.5 197.3 329 196 328C194.7 327 191.8 327.1 190 326C188.2 324.9 184.7 322.5 185 321.5Z" fill="#8db5dc" stroke="#000" stroke-width="0.6" stroke-linejoin="round"/>
<path d="M132.8 252.5C133.4 250.2 135.9 247 139 245C142.1 243 147.3 241.1 151.5 240.5C155.7 239.9 160.2 240.1 164 241.3C167.8 242.5 171.8 245.7 174 247.5C176.2 249.3 177.2 250.2 177 252C176.8 253.8 174.4 256 173 258C171.6 260 170.8 262.3 168.5 264C166.2 265.7 162.2 267.7 159 268.3C155.8 268.9 151.9 268.3 149 267.5C146.1 266.7 143.8 264.9 141.5 263.5C139.2 262.1 136.9 260.8 135.5 259C134.1 257.2 132.2 254.8 132.8 252.5Z" fill="#8580c2"/>
<path d="M142 250C142.5 247.7 147 246.7 150 246C153 245.3 157.2 245.2 160 246C162.8 246.8 166.3 249 167 251C167.7 253 165.8 256.2 164 258C162.2 259.8 158.8 261.7 156 262C153.2 262.3 149.3 262 147 260C144.7 258 141.5 252.3 142 250Z" fill="#a8609a" filter="url(#bl1)"/>
<path d="M199 254C201.3 253.2 206.5 253.3 210 253C213.5 252.7 216.8 252.5 220 252C223.2 251.5 225.7 251 229 250C232.3 249 236.5 247.2 240 246C243.5 244.8 247.8 243 250 243C252.2 243 253.2 244.7 253 246C252.8 247.3 248.5 249.4 249 251C249.5 252.6 253.7 254.3 256 255.5C258.3 256.7 261 256.8 263 258C265 259.2 265.8 261.1 268 262.5C270.2 263.9 272.7 265.6 276 266.5C279.3 267.4 284 267.8 288 268C292 268.2 294.7 267.9 300 268C305.3 268.1 312.8 267.9 320 268.3C327.2 268.7 338.2 270.7 343 270.5C347.8 270.3 346.8 268.1 349 267C351.2 265.9 353.7 264.5 356 264C358.3 263.5 360.3 263.5 363 264C365.7 264.5 370.5 266.2 372 267C373.5 267.8 373.9 268.9 372 269C370.1 269.1 363.7 267.1 360.5 267.5C357.3 267.9 355.9 270.2 353 271.3C350.1 272.4 346.3 273.6 343 273.8C339.7 274 336.8 273.1 333 272.5C329.2 271.9 324.7 270.9 320.5 270.5C316.3 270.1 312.2 270.2 308 270C303.8 269.8 299.7 269.4 295.5 269.5C291.3 269.6 286.8 270.4 283 270.5C279.2 270.6 275.7 270.3 273 270C270.3 269.7 267.4 268.2 266.8 268.8C266.2 269.4 269.5 272.3 269.3 273.8C269.1 275.3 267.4 278 265.5 278C263.6 278 259.4 275.8 258 273.8C256.6 271.9 258.1 268.4 256.8 266.3C255.6 264.2 253.2 261.7 250.5 261.3C247.8 260.9 243.4 263 240.5 263.8C237.6 264.6 235.9 266.1 233 266.3C230.1 266.5 225.9 265.4 223 265C220.1 264.6 218 264.4 215.5 263.8C213 263.2 210.5 261.3 208 261.3C205.5 261.3 202.5 264.4 200.5 263.8C198.5 263.2 196.2 259.6 196 258C195.8 256.4 196.7 254.8 199 254Z" fill="#8580c2"/>
<path d="M228 248.5C230.6 247.3 232.2 244.9 235.3 243.8C238.4 242.8 243.5 242.6 246.4 242.2C249.3 241.8 251.8 240.8 253 241.3C254.2 241.8 254.2 243.4 253.6 245C253 246.6 250.7 249.2 249.6 251C248.5 252.8 248.6 254.9 247 255.5C245.4 256.1 242.7 255 240 254.5C237.3 254 234 252.7 231 252.5C228 252.3 224.8 253.4 222 253.5C219.2 253.6 214.3 253.4 214 253C213.7 252.6 217.7 251.8 220 251C222.3 250.2 225.4 249.7 228 248.5Z" fill="#8db5dc"/>
<path d="M236 246C237.7 245.1 241.4 244.3 244 243.8C246.6 243.3 250.5 242.4 251.5 243C252.5 243.6 250.9 246.1 250 247.5C249.1 248.9 247.7 250.9 246 251.5C244.3 252.1 242 251.3 240 251C238 250.7 234.7 250.3 234 249.5C233.3 248.7 234.3 246.9 236 246Z" fill="#92c6e2" filter="url(#bl1)"/>
<path d="M252 251.5C253.2 251.6 256.5 253.9 258.5 255C260.5 256.1 263.4 257.1 264 258C264.6 258.9 263.3 260.6 262 260.5C260.7 260.4 257.8 258.5 256 257.5C254.2 256.5 251.7 255.5 251 254.5C250.3 253.5 250.8 251.4 252 251.5Z" fill="#8aa4d6"/>
<path d="M110 281C113.5 279.8 118.3 283 125 283C131.7 283 141.7 281 150 281C158.3 281 166.7 283.3 175 283C183.3 282.7 191.7 280.2 200 279C208.3 277.8 216.7 276.2 225 276C233.3 275.8 241.7 277 250 278C258.3 279 267 280.7 275 282C283 283.3 290.8 284.3 298 286C305.2 287.7 316.3 289.3 318 292C319.7 294.7 313.3 299.2 308 302C302.7 304.8 293.3 306.5 286 309C278.7 311.5 270.8 315.5 264 317C257.2 318.5 251 318.8 245 318C239 317.2 233.5 314.3 228 312C222.5 309.7 217.5 306.2 212 304C206.5 301.8 200.7 299.5 195 299C189.3 298.5 183 299.8 178 301C173 302.2 169.7 306.2 165 306C160.3 305.8 154.2 301.5 150 300C145.8 298.5 144.2 297.3 140 297C135.8 296.7 130.3 297.5 125 298C119.7 298.5 113 299.2 108 300C103 300.8 98.8 302.7 95 303C91.2 303.3 87.8 302.5 85 302C82.2 301.5 77.2 301.3 78 300C78.8 298.7 85.7 295.7 90 294C94.3 292.3 100.7 292.2 104 290C107.3 287.8 106.5 282.2 110 281Z" fill="#ff8c08"/>
<path d="M300 276C302.7 274.5 312.5 274.7 320 275C327.5 275.3 338.3 276.8 345 278C351.7 279.2 358.8 280.3 360 282C361.2 283.7 356.2 286.7 352 288C347.8 289.3 340.7 290 335 290C329.3 290 323.2 289 318 288C312.8 287 307 286 304 284C301 282 297.3 277.5 300 276Z" fill="#ff8c08" filter="url(#bl1)"/>
<path d="M100 264C101.3 262.1 109.7 261.7 114 260.5C118.3 259.3 122.8 257.2 126 257C129.2 256.8 130.8 257.7 133 259C135.2 260.3 136.5 263.2 139 265C141.5 266.8 144.8 269 148 270C151.2 271 157.3 270 158 271C158.7 272 155 275.3 152 276C149 276.7 144 275.3 140 275C136 274.7 132 273.8 128 274C124 274.2 119.7 276.3 116 276C112.3 275.7 108.7 274 106 272C103.3 270 98.7 265.9 100 264Z" fill="#ff5226" filter="url(#bl1)"/>
<path d="M248 266C250.2 265.7 254.3 266.3 256 268C257.7 269.7 256.5 274 258 276C259.5 278 262.2 279.3 265 280C267.8 280.7 271.2 279.3 275 280C278.8 280.7 286.8 282.7 288 284C289.2 285.3 285.3 287.5 282 288C278.7 288.5 272.5 287.7 268 287C263.5 286.3 258.5 285.7 255 284C251.5 282.3 249 279.3 247 277C245 274.7 242.8 271.8 243 270C243.2 268.2 245.8 266.3 248 266Z" fill="#ff5226" opacity="0.7" filter="url(#bl1)"/>
<path d="M222 292C224 291 230.3 289.7 235 290C239.7 290.3 245.5 292.3 250 294C254.5 295.7 259.3 297.8 262 300C264.7 302.2 267 305.5 266 307C265 308.5 259.7 309.5 256 309C252.3 308.5 248 305.7 244 304C240 302.3 235.5 300.3 232 299C228.5 297.7 224.7 297.2 223 296C221.3 294.8 220 293 222 292Z" fill="#ff5226" opacity="0.6" filter="url(#bl1)"/>
<path d="M110 302C112 300.2 116.7 299.3 120 298.5C123.3 297.7 126.7 297.2 130 297C133.3 296.8 137 296.8 140 297.5C143 298.2 145.8 299.4 148 301C150.2 302.6 151.8 304.7 153 307C154.2 309.3 154.2 312.7 155 315C155.8 317.3 158.3 320.2 158 321C157.7 321.8 154.1 320.6 153 319.5C151.9 318.4 152 316.4 151.5 314.5C151 312.6 151.1 310.2 150 308.3C148.9 306.4 147.4 304.3 145 303C142.6 301.7 138.3 300.2 135.3 300.3C132.3 300.4 128.9 302 127 303.5C125.1 305 124.8 309.2 124 309.5C123.2 309.8 123.3 305.6 122 305C120.7 304.4 117.7 305.2 116 306C114.3 306.8 113.3 309.5 112 310C110.7 310.5 108.3 310.3 108 309C107.7 307.7 108 303.8 110 302Z" fill="#ff5226" filter="url(#bl1)"/>
<path d="M165 292C167.3 290.8 174.8 289.7 180 290C185.2 290.3 194.3 292.3 196 294C197.7 295.7 193.3 299 190 300C186.7 301 180 300.5 176 300C172 299.5 167.8 298.3 166 297C164.2 295.7 162.7 293.2 165 292Z" fill="#ff5226" opacity="0.6" filter="url(#bl1)"/>
<path d="M180 254C181.3 253.2 186 253.8 188 254.5C190 255.2 190.3 256.2 192 258C193.7 259.8 195.7 263.8 198 265C200.3 266.2 203.7 264.5 206 265C208.3 265.5 212.3 266.8 212 268C211.7 269.2 207 271.7 204 272C201 272.3 197 271.3 194 270C191 268.7 188.3 265.8 186 264C183.7 262.2 181 260.7 180 259C179 257.3 178.7 254.8 180 254Z" fill="#ff5226" filter="url(#bl1)"/>
<path d="M68 300.5C70.3 300 74.3 301.1 78 301.5C81.7 301.9 86 302.9 90 303C94 303.1 98 302.4 102 302C106 301.6 110.3 300.5 114 300.5C117.7 300.5 122.8 300.8 124 302C125.2 303.2 122 306 121 308C120 310 119.8 313.2 118 314C116.2 314.8 113.3 313.1 110 312.5C106.7 311.9 102 311.1 98 310.3C94 309.6 90 308.8 86 308C82 307.2 77.7 306.4 74 305.8C70.3 305.2 65 305.2 64 304.3C63 303.4 65.7 301 68 300.5Z" fill="#ff5226" filter="url(#bl1)"/>
<path d="M100 304C101.7 303.2 107 303.3 110 303.5C113 303.7 117 303.8 118 305C119 306.2 117.7 309.6 116 310.5C114.3 311.4 110.7 310.8 108 310.5C105.3 310.2 101.3 309.6 100 308.5C98.7 307.4 98.3 304.8 100 304Z" fill="#ff3434" opacity="0.7" filter="url(#bl1)"/>
<path d="M322 300C324.5 298.3 330.3 296.3 335 296C339.7 295.7 343.8 298 350 298C356.2 298 368.3 289.7 372 296C375.7 302.3 374.3 328.9 372 336C369.7 343.1 362.4 337.3 358 338.3C353.6 339.3 349.2 340.6 345.5 342C341.8 343.4 338.8 345.3 335.5 347C332.2 348.7 328.8 350.8 325.5 352C322.2 353.2 318.8 354.7 315.5 354.5C312.2 354.3 308.8 351.8 305.5 350.8C302.2 349.8 298.4 348.1 295.5 348.3C292.6 348.5 290.9 350.3 288 352C285.1 353.7 281.8 357.1 278 358.3C274.2 359.6 269.2 359.9 265.5 359.5C261.8 359.1 258.8 357.1 255.5 355.8C252.2 354.6 249.2 352.4 245.5 352C241.8 351.6 237.2 352.7 233 353.3C228.8 353.9 224.7 355.8 220.5 355.8C216.3 355.8 211.8 354.8 208 353.3C204.2 351.8 200.8 349.2 198 347C195.2 344.8 193 341.9 191.5 340C190 338.1 187.9 336.3 189 335.8C190.1 335.3 194.8 336.4 198 337C201.2 337.6 204.2 339.1 208 339.5C211.8 339.9 216.8 339.9 220.5 339.5C224.2 339.1 227.2 338 230.5 337C233.8 336 237.2 334.3 240.5 333.3C243.8 332.3 246.8 331.4 250.5 330.8C254.2 330.2 258.8 330.1 263 329.5C267.2 328.9 271.3 328.3 275.5 327.5C279.7 326.7 284.4 325.2 288 324.5C291.6 323.8 294.9 322.9 296.8 323.3C298.7 323.7 298.3 326.6 299.3 327C300.3 327.4 301.8 326.8 303 325.8C304.2 324.8 305.1 321.9 306.8 320.8C308.5 319.8 310.9 320.6 313 319.5C315.1 318.4 318.1 316.8 319.3 314.5C320.5 312.2 319.6 308.4 320 306C320.4 303.6 319.5 301.7 322 300Z" fill="#ff5226"/>
<path d="M189 335.8C190.1 335.3 194.8 336.4 198 337C201.2 337.6 204.2 339.1 208 339.5C211.8 339.9 216.8 339.9 220.5 339.5C224.2 339.1 227.2 338 230.5 337C233.8 336 237.2 334.3 240.5 333.3C243.8 332.3 246.8 331.4 250.5 330.8C254.2 330.2 258.8 330.1 263 329.5C267.2 328.9 271.3 328.3 275.5 327.5C279.7 326.7 284.4 325.2 288 324.5C291.6 323.8 294.9 322.9 296.8 323.3C298.7 323.7 298.3 326.6 299.3 327C300.3 327.4 301.6 326.6 303 325.8C304.4 325 305.5 322 308 322C310.5 322 315 324 318 326C321 328 323.2 331.7 326 334C328.8 336.3 334.3 337.7 335 340C335.7 342.3 332.8 345.8 330 348C327.2 350.2 322.1 352.5 318 353C313.9 353.5 309.2 351.6 305.5 350.8C301.8 350 298.4 348.1 295.5 348.3C292.6 348.5 290.9 350.3 288 352C285.1 353.7 281.8 357.1 278 358.3C274.2 359.6 269.2 359.9 265.5 359.5C261.8 359.1 258.8 357.1 255.5 355.8C252.2 354.6 249.2 352.4 245.5 352C241.8 351.6 237.2 352.7 233 353.3C228.8 353.9 224.7 355.8 220.5 355.8C216.3 355.8 211.8 354.8 208 353.3C204.2 351.8 200.8 349.2 198 347C195.2 344.8 193 341.9 191.5 340C190 338.1 187.9 336.3 189 335.8Z" fill="#ff3434"/>
<path d="M190.5 334.5C191.8 334.9 195.1 336.2 198 337C200.9 337.8 204.2 339.1 208 339.5C211.8 339.9 216.8 339.9 220.5 339.5C224.2 339.1 227.2 338 230.5 337C233.8 336 237.2 334.3 240.5 333.3C243.8 332.3 246.8 331.4 250.5 330.8C254.2 330.2 258.8 330.1 263 329.5C267.2 328.9 271.3 328.3 275.5 327.5C279.7 326.7 284.4 325.2 288 324.5C291.6 323.8 294.9 322.9 296.8 323.3C298.7 323.7 298.3 326.6 299.3 327C300.3 327.4 301.8 326.8 303 325.8C304.2 324.8 305.1 321.9 306.8 320.8C308.5 319.8 310.9 320.6 313 319.5C315.1 318.4 318.2 315.3 319.3 314.5" fill="none" stroke="#000" stroke-width="0.7" stroke-linejoin="round"/>
<path d="M273 332.5C273.8 331.2 277 331.5 279 331.5C281 331.5 283.9 330.8 285 332.5C286.1 334.2 286.3 340.2 285.5 341.5C284.7 342.8 281.9 340.4 280 340C278.1 339.6 275.2 340.2 274 339C272.8 337.8 272.2 333.8 273 332.5Z" fill="#a8609a" stroke="#000" stroke-width="0.6" stroke-linejoin="round"/>
<path d="M302.5 334.5C302.4 333.3 303.8 329.6 304.5 328.5C305.2 327.4 306.4 326.9 307 328C307.6 329.1 308.3 333.8 308 335C307.7 336.2 305.9 335.6 305 335.5C304.1 335.4 302.6 335.7 302.5 334.5Z" fill="#a8609a" stroke="#000" stroke-width="0.6" stroke-linejoin="round"/>
<path d="M334.3 319.5C335.1 319.5 339.5 323.4 343 324.5C346.5 325.6 350.7 325.8 355.5 325.8C360.3 325.8 369.2 323.1 372 324.5C374.8 325.9 374.3 333.2 372 334.5C369.7 335.8 361.6 332 358 332C354.4 332 352.2 333.4 350.5 334.5C348.8 335.6 349 338.7 348 338.3C347 337.9 346 334.3 344.3 332C342.6 329.7 339.7 326.6 338 324.5C336.3 322.4 333.5 319.5 334.3 319.5Z" fill="#a8609a" stroke="#000" stroke-width="0.7" stroke-linejoin="round"/>
<path d="M336.8 290.8C337.3 289.8 340.7 286.9 343 285.8C345.3 284.7 350 283.5 350.5 284C351 284.5 347.8 287.7 346 289C344.2 290.3 341.5 291.7 340 292C338.5 292.3 336.3 291.8 336.8 290.8Z" fill="#a8609a" stroke="#000" stroke-width="0.7" stroke-linejoin="round"/>
<path d="M353 293.3C352.6 292.1 356.3 290.8 358 289.5C359.7 288.2 360.7 287.2 363 285.8C365.3 284.4 370.5 278.7 372 280.8C373.5 282.9 373.9 295.6 372 298.3C370.1 301 363.7 297.8 360.5 297C357.3 296.2 353.4 294.6 353 293.3Z" fill="#8580c2" stroke="#000" stroke-width="0.7" stroke-linejoin="round"/>
<path d="M64 282.5C64.4 280.2 64.4 278.9 66.5 277.5C68.6 276.1 74.4 275.5 76.5 273.8C78.6 272.1 77.5 269.1 79 267.5C80.5 265.9 83 264.9 85.3 264.5C87.6 264.1 90.5 264.3 92.8 265C95.1 265.7 96.9 267.3 99 268.8C101.1 270.3 103.6 272.1 105.3 273.8C107 275.5 107.5 277.8 109 278.8C110.5 279.8 112.3 280.2 114 280C115.7 279.8 116.5 278 119 277.5C121.5 277 124.8 277 129 277C133.2 277 139.4 277.6 144 277.5C148.6 277.4 153.2 276.3 156.5 276.3C159.8 276.3 161.1 276.4 164 277.5C166.9 278.6 174 282.4 174 283C174 283.6 167.3 282 164 281.3C160.7 280.6 157.3 279 154 278.8C150.7 278.6 147.3 279.8 144 280C140.7 280.2 137.1 279.8 134 280C130.9 280.2 127.4 280.5 125.3 281.3C123.2 282.1 121.5 283.8 121.5 285C121.5 286.2 123.2 288.4 125.3 288.8C127.4 289.2 131.3 287.5 134 287.5C136.7 287.5 139.4 288 141.5 288.8C143.6 289.6 146.9 291.5 146.5 292.5C146.1 293.5 141.9 294.6 139 295C136.1 295.4 131.9 294.8 129 295C126.1 295.2 124 295.9 121.5 296.3C119 296.7 116.9 297.5 114 297.5C111.1 297.5 106.9 295.9 104 296.3C101.1 296.7 99 299.2 96.5 300C94 300.8 91.5 301.5 89 301.3C86.5 301.1 84 299 81.5 298.8C79 298.6 76.3 300.2 74 300C71.7 299.8 69.5 298.9 67.8 297.5C66.1 296.1 64.6 293.8 64 291.3C63.4 288.8 63.6 284.8 64 282.5Z" fill="#ffa600" stroke="#000" stroke-width="0.7" stroke-linejoin="round"/>
<path d="M90.3 288.8C90.5 287.5 94 285.4 96.5 285C99 284.6 103 285.5 105.3 286.3C107.6 287.1 110.5 288.9 110.3 290C110.1 291.1 106.5 292.5 104 293C101.5 293.5 97.6 293.7 95.3 293C93 292.3 90.1 290.1 90.3 288.8Z" fill="#ff8c08" stroke="#000" stroke-width="0.7" stroke-linejoin="round"/>
<path d="M74 290C73.6 288.2 75.3 287 76.5 287C77.7 287 79.9 288.5 81 290C82.1 291.5 83.3 294.8 83 296C82.7 297.2 80.5 298.5 79 297.5C77.5 296.5 74.4 291.8 74 290Z" fill="#ff8c08" stroke="#000" stroke-width="0.5" stroke-linejoin="round"/>
<path d="M107.8 267.5C108.4 266.2 111.3 264.9 114 264.5C116.7 264.1 121.3 264.3 124 265C126.7 265.7 129.9 267.6 130.3 268.8C130.7 270 128.8 271.3 126.5 272C124.2 272.7 119.2 273 116.5 273C113.8 273 111.8 272.9 110.3 272C108.8 271.1 107.2 268.8 107.8 267.5Z" fill="#ff3434" stroke="#000" stroke-width="0.7" stroke-linejoin="round"/>
<path d="M112 268C112.7 267.3 116 266.5 118 266.5C120 266.5 123.7 267.3 124 268C124.3 268.7 121.7 270.1 120 270.5C118.3 270.9 115.3 270.9 114 270.5C112.7 270.1 111.3 268.7 112 268Z" fill="#8580c2" filter="url(#bl1)"/>
<path d="M174 258C173.8 256.8 175 255.2 176 254.5C177 253.8 178.7 253.3 180 253.5C181.3 253.7 183.2 254.5 184 255.5C184.8 256.5 185.3 258.4 185 259.5C184.7 260.6 183.3 261.7 182 262C180.7 262.3 178.3 262.2 177 261.5C175.7 260.8 174.2 259.2 174 258Z" fill="#8580c2" stroke="#000" stroke-width="0.7" stroke-linejoin="round"/>
<path d="M152.5 264C153.1 263 156.5 263 158 262C159.5 261 160.8 257.9 161.5 258C162.2 258.1 162.8 261 162.5 262.5C162.2 264 161.3 266.1 160 267C158.7 267.9 155.8 268.5 154.5 268C153.2 267.5 151.9 265 152.5 264Z" fill="#ff3434"/>
<path d="M127.8 305.5C129.3 304.3 132.7 302.7 135.3 302.5C137.9 302.3 141.4 303.2 143.5 304.3C145.6 305.4 147 307.1 148 308.8C149 310.5 148.6 312.6 149.3 314.5C150 316.4 152.6 318.4 152 320C151.4 321.6 148.3 323.2 146 324C143.7 324.8 140.2 325.5 138 325C135.8 324.5 133.6 322.8 132.5 321C131.4 319.2 132.3 316.4 131.3 314.5C130.3 312.6 127.1 311 126.5 309.5C125.9 308 126.3 306.7 127.8 305.5Z" fill="#8792cc"/>
<path d="M131 310C131.3 309.3 131.8 306.9 133 306C134.2 305.1 136.2 304.4 138 304.5C139.8 304.6 142.2 305.4 143.5 306.5C144.8 307.6 145.8 309.6 146 311C146.2 312.4 145.7 314.8 145 315C144.3 315.2 143.1 313.1 142 312C140.9 310.9 139.8 308.9 138.5 308.5C137.2 308.1 135.2 308.6 134.5 309.5C133.8 310.4 134.1 313.2 134 314" fill="none" stroke="#000" stroke-width="0.6" stroke-linejoin="round"/>
<path d="M191 303.5C191.7 302.5 195.5 300.2 198 300C200.5 299.8 203.7 301 206 302C208.3 303 210.3 304.5 212 306C213.7 307.5 216.7 310.3 216 311C215.3 311.7 210.7 310.7 208 310C205.3 309.3 202.3 307.7 200 307C197.7 306.3 195.5 306.6 194 306C192.5 305.4 190.3 304.5 191 303.5Z" fill="#d84a62" filter="url(#bl1)"/>
<path d="M50 301L53 300L56.5 304L52 307.5L49.5 307Z" fill="#ffec00"/>
<path d="M54 268C54.7 266.2 59 266 62 266C65 266 69.3 267 72 268C74.7 269 78 270.7 78 272C78 273.3 74.3 274.8 72 276C69.7 277.2 66.3 278.8 64 279C61.7 279.2 59.7 278.8 58 277C56.3 275.2 53.3 269.8 54 268Z" fill="#8aa4d6" filter="url(#bl1)"/>
<path d="M64 330C64.3 327.3 68.7 324.2 72 322C75.3 319.8 79.7 317.5 84 316.5C88.3 315.5 94 315.6 98 316C102 316.4 105.3 317.5 108 319C110.7 320.5 114 323.3 114 325C114 326.7 110.3 327.7 108 329C105.7 330.3 100.8 330.8 100 333C99.2 335.2 101.3 339.3 103 342C104.7 344.7 110 347.3 110 349C110 350.7 106 352.3 103 352C100 351.7 95.8 348.7 92 347C88.2 345.3 83.7 343.5 80 342C76.3 340.5 72.7 340 70 338C67.3 336 63.7 332.7 64 330Z" fill="none" stroke="#000" stroke-width="0.7" stroke-linejoin="round"/>
<path d="M108 342C109.3 340.8 115.5 339.8 120 339C124.5 338.2 130 337.2 135 337C140 336.8 145.5 338.5 150 338C154.5 337.5 158.7 335.2 162 334C165.3 332.8 169.3 330.7 170 331C170.7 331.3 169 334.3 166 336C163 337.7 156.7 340 152 341C147.3 342 142.7 341.5 138 342C133.3 342.5 128.3 343.3 124 344C119.7 344.7 114.7 346.3 112 346C109.3 345.7 106.7 343.2 108 342Z" fill="none" stroke="#000" stroke-width="0.7" stroke-linejoin="round"/>
<path d="M46 369C46.7 367.2 48 361.2 50 358C52 354.8 55.3 351.5 58 350C60.7 348.5 63.3 348.8 66 349C68.7 349.2 73.3 351.5 74 351C74.7 350.5 70.7 346.8 70 346" fill="none" stroke="#000" stroke-width="0.7" stroke-linejoin="round"/>
<path d="M112 352C113.7 352.8 118.3 355.7 122 357C125.7 358.3 129.7 359.8 134 360C138.3 360.2 144 358 148 358C152 358 154 359.3 158 360C162 360.7 169.7 361.7 172 362" fill="none" stroke="#000" stroke-width="0.7" stroke-linejoin="round"/>
<path d="M62.8 268.8C64 268.4 67.7 267.1 70 266.5C72.3 265.9 73.3 265.6 76.5 265C79.7 264.4 84.8 263.6 89 263C93.2 262.4 97.3 262.2 101.5 261.3C105.7 260.4 109.8 258.8 114 257.5C118.2 256.2 123.2 255.5 126.5 253.8C129.8 252.1 131.5 249.4 134 247.5C136.5 245.6 138.6 243.9 141.5 242.5C144.4 241.1 148.2 239.4 151.5 238.8C154.8 238.2 158.6 238.2 161.5 238.8C164.4 239.4 166.5 241.1 169 242.5C171.5 243.9 173.2 246.7 176.5 247.5C179.8 248.3 184.8 247 189 247.5C193.2 248 197.1 250.1 201.5 250.5C205.9 250.9 211.1 250.7 215.5 250C219.9 249.3 224.7 247.6 228 246.3C231.3 245 232.6 242.8 235.5 242C238.4 241.2 242.4 241.7 245.5 241.3C248.6 240.9 252.6 239.1 254.3 239.5C256 239.9 255.9 242.1 255.5 243.8C255.1 245.6 251.4 248.3 251.8 250C252.2 251.7 255.7 252.8 258 253.8C260.3 254.9 263.4 255.1 265.5 256.3C267.6 257.6 268.4 259.9 270.5 261.3C272.6 262.8 275.1 264.2 278 265C280.9 265.8 284.7 266.1 288 266.3C291.3 266.5 294.7 266.2 298 266.3C301.3 266.4 304.2 267 308 267C311.8 267 316.3 266.2 320.5 266.3C324.7 266.4 329.2 267.1 333 267.5C336.8 267.9 340.5 269.2 343 268.8C345.5 268.4 345.9 266.1 348 265C350.1 263.9 353 262.5 355.5 262C358 261.5 360.2 261.4 363 262C365.8 262.6 370.5 264.9 372 265.5" fill="none" stroke="#000" stroke-width="0.7" stroke-linejoin="round"/>
<path d="M372 357C369.2 357.6 360.3 360 355.5 360.8C350.7 361.6 347.6 361.4 343 362C338.4 362.6 333 364.3 328 364.5C323 364.7 318 363.7 313 363.3C308 362.9 303 361.4 298 362C293 362.6 288.4 365.9 283 367C277.6 368.1 271.3 368.5 265.5 368.3C259.7 368.1 253.4 366.4 248 365.8C242.6 365.2 238 364.6 233 364.5C228 364.4 222.6 365.2 218 365C213.4 364.8 209.7 363.8 205.5 363.3C201.3 362.8 197.4 361.6 193 362C188.6 362.4 184.7 365.4 179 365.8C173.3 366.2 164.4 365.1 159 364.5C153.6 363.9 150.7 362.2 146.5 362C142.3 361.8 138.2 361.8 134 363C129.8 364.2 123.6 368 121.5 369" fill="none" stroke="#000" stroke-width="0.7" stroke-linejoin="round"/>
<g fill="#808080" transform="translate(0 197.7)">
<path d="M39 78.6H55.4V84.3H39Z" fill="#fff"/>
<path d="M39.5 7.5L45.9 7.5L45.6 11.9L44.6 13.5L43.2 15.8L42.6 18L41.6 19.8L40.8 21.5L39.5 22Z"/>
<path d="M63.6 7.5L84 7.5L85.5 10.5L87.3 14.2L85 14.6L80.7 13.4L77 14.2L74.2 15.8L71.5 18.5L69.5 21.1L68 23.5L67.6 25.7L69 27.8L70.9 29.7L72.5 31.8L74.2 33.6L76.5 34L78.8 34.5L79.3 37L79.2 40.2L77.4 40.4L77.2 38L77 36.2L75 35.8L73.5 35.6L71 35L68.9 34.9L67 36.5L65.6 38.2L64.4 40L63 41.5L61.6 40.8L61 39.5L60.3 37.5L60.3 35.6L61.2 33L62.3 30.3L62.8 28.3L63 26.4L63.8 25L64.3 23.7L63.2 21.8L62.3 19.8L61.8 18L61.7 16.5L62.3 14L63 11.9L63.4 9.6Z"/>
<path d="M58.4 45.7L63.6 45.7L66 48.5L68.9 51.2L73.5 53.4L78.1 55.1L82.7 56.6L87.3 57.8L90.6 58.3L93.9 58.4L96.4 56.8L98.7 55L97.6 57.5L96.5 59.7L98.5 61.5L101.3 63.5L97.5 64.5L93.9 65L90 65.4L86 65.7L83.2 66.5L80.7 67.6L79 70L78.1 72.6L75.5 73.4L73.5 73.4L71.5 72.6L66.9 70.9L62.3 69.3L58.4 68.6L55.1 69.3L51.8 70.6L49.2 70.3L45.9 69.3L43.9 70L42.9 71.9L45.9 72.6L49.2 73.6L52.1 74.9L49.2 75.4L45.9 75.9L43.9 77.5L41.9 78.2L39.5 77.2L39.5 67.3L41.3 68.5L43.9 66.3L45.2 63.7L47.8 64.2L50.5 64.3L53 63L55.1 61.7L56.2 59.4L57.1 57.1L58.4 55L59.7 53.2L59.4 51L59 49.2L58.2 47.5Z"/>
<path d="M39.5 83.8L42 83L43.2 80.5L46.5 80.1L47.2 82.4L49.2 83.8L52 83.2L54 82.3L54.5 80.5L52.5 80.1L49.5 80.3L49.2 78.8L52.4 78.2L56.4 78.5L55.6 80.3L55.8 82.4L56.7 84L57.7 85.7L59 87.2L60.3 88.4L61.5 90.5L62.2 93L62.5 95.7L60.5 97.3L58.4 98.4L55.5 100L53.1 101.7L51 103.5L50 106L49.8 108.2L50.3 110.5L51.1 112.8L49.8 115L48.5 116.8L47.8 119.5L47.2 122L46 124.5L44.6 126.7L43.3 128.5L41.9 130L39.5 131.5Z"/>
<path d="M98.8 59.6L101 57.7L104 55.8L108 53.6L108.4 54.3L105 56.6L102 58.5L99.4 60.3Z"/>
<path d="M116 53.6L119 51.8L122 50.3L125 48.6L128 47.3L131 46.1L134 45.2L137 44.5L137.2 45.2L134 46.1L130 47.7L126.5 49.3L123 50.9L120 52.6L116.6 54.3Z"/>
<path d="M142.5 42.6L145 41.7L148 40.7L150.5 39.9L153 39.2L153.2 39.9L150.5 40.7L148 41.5L145.5 42.4L142.8 43.3Z"/>
<path d="M107.8 60.6L108.8 60.6L108.8 61.4L107.8 61.4Z"/>
<path d="M112.8 58.6L113.8 58.6L113.8 59.4L112.8 59.4Z"/>
<path d="M168 33.5L170 32.8L172.4 32.2L172.6 32.8L170 33.5L168.2 34.1Z"/>
<path d="M182.8 23.4L184.5 23.1L184.7 24.2L183 24.5Z"/>
<path d="M193.4 16.4L195 15.5L196.6 14.8L197 15.7L195.2 16.6L193.7 17.3Z"/>
<path d="M199.4 13.8L201 12.8L203 11.8L203.4 12.7L201.3 13.7L199.8 14.7Z"/>
</g>
</g>
<path d="M39.6 205.2H369.3V368.7H39.6ZM39.6 205.2v-6.5M39.6 368.7v6.5M61.6 205.2v-6.5M61.6 368.7v6.5M83.6 205.2v-6.5M83.6 368.7v6.5M105.5 205.2v-6.5M105.5 368.7v6.5M127.5 205.2v-6.5M127.5 368.7v6.5M149.5 205.2v-6.5M149.5 368.7v6.5M171.5 205.2v-6.5M171.5 368.7v6.5M193.5 205.2v-6.5M193.5 368.7v6.5M215.4 205.2v-6.5M215.4 368.7v6.5M237.4 205.2v-6.5M237.4 368.7v6.5M259.4 205.2v-6.5M259.4 368.7v6.5M281.4 205.2v-6.5M281.4 368.7v6.5M303.4 205.2v-6.5M303.4 368.7v6.5M325.3 205.2v-6.5M325.3 368.7v6.5M347.3 205.2v-6.5M347.3 368.7v6.5M369.3 205.2v-6.5M369.3 368.7v6.5M39.6 205.2h-6.5M369.3 205.2h6.5M39.6 221.5h-6.5M369.3 221.5h6.5M39.6 237.9h-6.5M369.3 237.9h6.5M39.6 254.2h-6.5M369.3 254.2h6.5M39.6 270.6h-6.5M369.3 270.6h6.5M39.6 286.9h-6.5M369.3 286.9h6.5M39.6 303.3h-6.5M369.3 303.3h6.5M39.6 319.6h-6.5M369.3 319.6h6.5M39.6 336h-6.5M369.3 336h6.5M39.6 352.4h-6.5M369.3 352.4h6.5M39.6 368.7h-6.5M369.3 368.7h6.5" fill="none" stroke="#444" stroke-width="0.85"/>
<g opacity="0.999"><text x="40.5" y="389.8" text-anchor="middle" class="tk">140°E</text>
<text x="84.5" y="389.8" text-anchor="middle" class="tk">144°E</text>
<text x="128.4" y="389.8" text-anchor="middle" class="tk">148°E</text>
<text x="172.4" y="389.8" text-anchor="middle" class="tk">152°E</text>
<text x="216.3" y="389.8" text-anchor="middle" class="tk">156°E</text>
<text x="260.3" y="389.8" text-anchor="middle" class="tk">160°E</text>
<text x="304.3" y="389.8" text-anchor="middle" class="tk">164°E</text>
<text x="348.2" y="389.8" text-anchor="middle" class="tk">168°E</text>
<text x="28.4" y="372.7" text-anchor="end" class="tk">30°N</text>
<text x="28.4" y="340" text-anchor="end" class="tk">34°N</text>
<text x="28.4" y="307.3" text-anchor="end" class="tk">38°N</text>
<text x="28.4" y="274.6" text-anchor="end" class="tk">42°N</text>
<text x="28.4" y="241.9" text-anchor="end" class="tk">46°N</text>
<text x="28.4" y="209.2" text-anchor="end" class="tk">50°N</text>
<text x="80.2" y="224.6" class="tt">c)</text>
<text x="104" y="224.6" class="tt">6</text>
<text x="119.7" y="224.6" class="tt">months</text></g>
<!-- panel d -->
<g clip-path="url(#cpd)">
<path d="M436 269C440.2 268.8 442.2 268 446 267.5C449.8 267 454.3 266.8 458.5 266C462.7 265.2 466.8 263.8 471 263C475.2 262.2 479.3 261.7 483.5 261C487.7 260.3 491.8 259.8 496 258.8C500.2 257.8 504.3 256.5 508.5 255C512.7 253.5 516.8 251.2 521 250C525.2 248.8 529.3 248 533.5 247.5C537.7 247 542.1 247.4 546 247C549.9 246.6 554.5 246.2 557 245C559.5 243.8 559.5 241.7 561 240C562.5 238.3 564.1 236.2 566 235C567.9 233.8 569.3 233.5 572.5 232.5C575.7 231.5 580.8 230.5 585 228.8C589.2 227.1 593.3 224.3 597.5 222.5C601.7 220.7 605.8 218.6 610 218C614.2 217.4 618.8 218.1 622.5 218.8C626.2 219.6 629.2 220.8 632.5 222.5C635.8 224.2 639.4 227.1 642.5 228.8C645.6 230.5 649 232.3 651.3 232.5C653.6 232.7 656.2 231 656.3 230C656.4 229 651.8 227.6 652 226.3C652.2 225.1 654.9 223.6 657.5 222.5C660.1 221.4 665 220.8 667.5 220C670 219.2 673.2 218.1 672.5 217.5C671.8 216.9 663.4 216.8 663 216.3C662.6 215.8 666.3 214.7 670 214.5C673.7 214.3 680 214.7 685 215C690 215.3 695.4 215.7 700 216.3C704.6 216.9 709.2 217.8 712.5 218.8C715.8 219.8 717.1 221.2 720 222.5C722.9 223.8 727.1 224.8 730 226.3C732.9 227.8 735.8 229.6 737.5 231.3C739.2 233 738.3 235.1 740 236.3C741.7 237.6 745.5 237.8 747.5 238.8C749.5 239.8 749.9 241.9 752 242.5C754.1 243.1 758.7 219.6 760 242.5C761.3 265.4 818.3 357.1 760 380C701.7 402.9 466.5 385.7 410 380C353.5 374.3 418 352.1 421 346C424 339.9 425.9 344.2 428 343.5C430.1 342.8 431.3 343.2 433.5 342C435.7 340.8 438.1 338.2 441 336.5C443.9 334.8 448.1 332.5 451 331.5C453.9 330.5 456.5 331.1 458.5 330.5C460.5 329.9 463 329.2 463 328C463 326.8 460.9 324.2 458.5 323C456.1 321.8 451.6 320.9 448.5 320.5C445.4 320.1 442.4 321.1 440 320.5C437.6 319.9 435.7 318.2 434 317C432.3 315.8 432.2 313.7 430 313C427.8 312.3 422.5 320.3 421 313C419.5 305.7 418.5 276.3 421 269C423.5 261.7 431.8 269.2 436 269Z" fill="#99eef2" stroke="#99eef2" stroke-width="7" stroke-linejoin="round" filter="url(#bl1)"/>
<path d="M436 269C440.2 268.8 442.2 268 446 267.5C449.8 267 454.3 266.8 458.5 266C462.7 265.2 466.8 263.8 471 263C475.2 262.2 479.3 261.7 483.5 261C487.7 260.3 491.8 259.8 496 258.8C500.2 257.8 504.3 256.5 508.5 255C512.7 253.5 516.8 251.2 521 250C525.2 248.8 529.3 248 533.5 247.5C537.7 247 542.1 247.4 546 247C549.9 246.6 554.5 246.2 557 245C559.5 243.8 559.5 241.7 561 240C562.5 238.3 564.1 236.2 566 235C567.9 233.8 569.3 233.5 572.5 232.5C575.7 231.5 580.8 230.5 585 228.8C589.2 227.1 593.3 224.3 597.5 222.5C601.7 220.7 605.8 218.6 610 218C614.2 217.4 618.8 218.1 622.5 218.8C626.2 219.6 629.2 220.8 632.5 222.5C635.8 224.2 639.4 227.1 642.5 228.8C645.6 230.5 649 232.3 651.3 232.5C653.6 232.7 656.2 231 656.3 230C656.4 229 651.8 227.6 652 226.3C652.2 225.1 654.9 223.6 657.5 222.5C660.1 221.4 665 220.8 667.5 220C670 219.2 673.2 218.1 672.5 217.5C671.8 216.9 663.4 216.8 663 216.3C662.6 215.8 666.3 214.7 670 214.5C673.7 214.3 680 214.7 685 215C690 215.3 695.4 215.7 700 216.3C704.6 216.9 709.2 217.8 712.5 218.8C715.8 219.8 717.1 221.2 720 222.5C722.9 223.8 727.1 224.8 730 226.3C732.9 227.8 735.8 229.6 737.5 231.3C739.2 233 738.3 235.1 740 236.3C741.7 237.6 745.5 237.8 747.5 238.8C749.5 239.8 749.9 241.9 752 242.5C754.1 243.1 758.7 219.6 760 242.5C761.3 265.4 818.3 357.1 760 380C701.7 402.9 466.5 385.7 410 380C353.5 374.3 418 352.1 421 346C424 339.9 425.9 344.2 428 343.5C430.1 342.8 431.3 343.2 433.5 342C435.7 340.8 438.1 338.2 441 336.5C443.9 334.8 448.1 332.5 451 331.5C453.9 330.5 456.5 331.1 458.5 330.5C460.5 329.9 463 329.2 463 328C463 326.8 460.9 324.2 458.5 323C456.1 321.8 451.6 320.9 448.5 320.5C445.4 320.1 442.4 321.1 440 320.5C437.6 319.9 435.7 318.2 434 317C432.3 315.8 432.2 313.7 430 313C427.8 312.3 422.5 320.3 421 313C419.5 305.7 418.5 276.3 421 269C423.5 261.7 431.8 269.2 436 269Z" fill="#8db5dc"/>
<path d="M652 232C651.7 231 656.7 226.2 660 224C663.3 221.8 667 220.2 672 219C677 217.8 683.7 216.8 690 217C696.3 217.2 704.2 218.5 710 220C715.8 221.5 720.3 223.8 725 226C729.7 228.2 733.5 230.2 738 233C742.5 235.8 749.7 237.2 752 243C754.3 248.8 754.8 264.2 752 268C749.2 271.8 740.7 267 735 266C729.3 265 723 261.7 718 262C713 262.3 709.7 266.7 705 268C700.3 269.3 695.5 270 690 270C684.5 270 676.2 269.3 672 268C667.8 266.7 665.3 264.7 665 262C664.7 259.3 667.8 255.2 670 252C672.2 248.8 674.7 246.3 678 243C681.3 239.7 686.7 235.2 690 232C693.3 228.8 698 225.8 698 224C698 222.2 693.8 220.7 690 221C686.2 221.3 679.7 224.5 675 226C670.3 227.5 665.8 229 662 230C658.2 231 652.3 233 652 232Z" fill="#92c6e2"/>
<path d="M675 221C675 220.7 684.2 218 690 218C695.8 218 703.7 219.2 710 221C716.3 222.8 723 226.2 728 229C733 231.8 736 235.2 740 238C744 240.8 750 242.7 752 246C754 249.3 754.3 257.3 752 258C749.7 258.7 743 253 738 250C733 247 727.5 243 722 240C716.5 237 708.7 234.7 705 232C701.3 229.3 702.5 226 700 224C697.5 222 694.2 220.5 690 220C685.8 219.5 675 221.3 675 221Z" fill="#99dce8"/>
<path d="M640 212C640.7 209.3 646.7 208.2 650 208C653.3 207.8 656.3 210.2 660 211C663.7 211.8 667 212.8 672 213C677 213.2 683.3 211.7 690 212C696.7 212.3 705.7 213.5 712 215C718.3 216.5 723.3 218.7 728 221C732.7 223.3 736 226.2 740 229C744 231.8 750 235.5 752 238C754 240.5 754 244.2 752 244C750 243.8 743.7 239.8 740 237C736.3 234.2 734.7 229.9 730 227C725.3 224.1 718.7 221.4 712 219.5C705.3 217.6 697.3 216.2 690 215.5C682.7 214.8 673 214.6 668 215.5C663 216.4 662.7 219.1 660 221C657.3 222.9 654.3 226.5 652 227C649.7 227.5 648 226.5 646 224C644 221.5 639.3 214.7 640 212Z" fill="#99eef2" filter="url(#bl1)"/>
<path d="M664 250C665.7 247.7 668.7 245 672 243C675.3 241 679.7 239.2 684 238C688.3 236.8 693.3 236 698 236C702.7 236 707.3 237 712 238C716.7 239 721.3 240.5 726 242C730.7 243.5 735.7 245.3 740 247C744.3 248.7 750 247.8 752 252C754 256.2 754.8 269.3 752 272C749.2 274.7 740.3 269 735 268C729.7 267 724.5 266 720 266C715.5 266 712.7 267.2 708 268C703.3 268.8 697.3 270.7 692 271C686.7 271.3 680.3 271.2 676 270C671.7 268.8 668.3 266.2 666 264C663.7 261.8 662.3 259.3 662 257C661.7 254.7 662.3 252.3 664 250Z" fill="#8aa4d6"/>
<path d="M668 254C669.3 251.2 672.7 248.8 676 247C679.3 245.2 684 243.8 688 243C692 242.2 695.7 241.8 700 242C704.3 242.2 709.3 242.8 714 244C718.7 245.2 723.3 247.3 728 249C732.7 250.7 738 252.5 742 254C746 255.5 750.3 255 752 258C753.7 261 754.8 270.3 752 272C749.2 273.7 740.3 269 735 268C729.7 267 724.5 266 720 266C715.5 266 712.7 267.2 708 268C703.3 268.8 697.3 270.7 692 271C686.7 271.3 680 271.2 676 270C672 268.8 669.3 266.7 668 264C666.7 261.3 666.7 256.8 668 254Z" fill="#8792cc" filter="url(#bl1)"/>
<path d="M421 346C424.1 341 430.2 343.6 433.5 342C436.8 340.4 438.1 338.2 441 336.5C443.9 334.8 448.1 332.5 451 331.5C453.9 330.5 456.5 331.1 458.5 330.5C460.5 329.9 460.9 328.8 463 328C465.1 327.2 468.2 325.8 471 326C473.8 326.2 479.2 327.3 480 329C480.8 330.7 479 333.8 476 336C473 338.2 466.3 340.8 462 342C457.7 343.2 453.5 342 450 343C446.5 344 443.3 345.8 441 348C438.7 350.2 437.2 353.3 436 356C434.8 358.7 435 361.3 434 364C433 366.7 433.2 370.7 430 372C426.8 373.3 416.5 376.3 415 372C413.5 367.7 417.9 351 421 346Z" fill="#92c6e2"/>
<path d="M436 356C437.2 353.3 438.7 350.2 441 348C443.3 345.8 446.5 344 450 343C453.5 342 457.7 343.2 462 342C466.3 340.8 472.3 337.8 476 336C479.7 334.2 481.3 332 484 331C486.7 330 489.3 329.7 492 330C494.7 330.3 500.3 331.3 500 333C499.7 334.7 493 337.7 490 340C487 342.3 484.7 345 482 347C479.3 349 474.3 349.5 474 352C473.7 354.5 479.3 358.7 480 362C480.7 365.3 486.3 370.3 478 372C469.7 373.7 437.3 373.3 430 372C422.7 370.7 433 366.7 434 364C435 361.3 434.8 358.7 436 356Z" fill="#8aa4d6"/>
<path d="M428 345C431.3 343.3 437 340 441 338C445 336 448.8 334 452 333C455.2 332 457.7 332.5 460 332C462.3 331.5 463.3 330.3 466 330C468.7 329.7 473.7 329.3 476 330C478.3 330.7 481 332.7 480 334C479 335.3 473.3 336.7 470 338C466.7 339.3 463.3 341.7 460 342C456.7 342.3 453.3 339.5 450 340C446.7 340.5 443 343 440 345C437 347 434 349.2 432 352C430 354.8 429.3 359.2 428 362C426.7 364.8 425.2 367.8 424 369C422.8 370.2 421.5 372.5 421 369C420.5 365.5 419.8 352 421 348C422.2 344 424.7 346.7 428 345Z" fill="#99eef2" filter="url(#bl1)"/>
<path d="M468 330C467 329.2 479.7 330.3 484 330C488.3 329.7 490.7 327.9 494 328C497.3 328.1 500.7 329.5 504 330.5C507.3 331.5 510.7 332.8 514 334C517.3 335.2 520.3 337.3 524 338C527.7 338.7 531.8 338.2 536 338C540.2 337.8 544.8 337.3 549 336.5C553.2 335.7 557.3 334.6 561 333C564.7 331.4 567.7 328.8 571 327C574.3 325.2 577.8 322.7 581 322.5C584.2 322.3 587.8 324.7 590 326C592.2 327.3 592.4 330.2 594 330.5C595.6 330.8 598.5 329.8 599.5 328C600.5 326.2 600.6 322.2 600 320C599.4 317.8 595.7 316.3 596 315C596.3 313.7 599.3 312.5 602 312C604.7 311.5 608.2 312.3 612 312C615.8 311.7 620.3 308.3 625 310C629.7 311.7 636.5 318.5 640 322C643.5 325.5 644.3 330.7 646 331C647.7 331.3 649 327 650 324C651 321 650 315.3 652 313C654 310.7 659 311.2 662 310C665 308.8 665.3 306.3 670 306C674.7 305.7 685 302.3 690 308C695 313.7 700 329.3 700 340C700 350.7 727.3 366.7 690 372C652.7 377.3 511 373.7 476 372C441 370.3 480.7 365.3 480 362C479.3 358.7 472 354.8 472 352C472 349.2 477 347.8 480 345C483 342.2 492 337.5 490 335C488 332.5 469 330.8 468 330Z" fill="#8792cc"/>
<path d="M500 340C505 339 513.3 343.7 520 344C526.7 344.3 533.3 343 540 342C546.7 341 554.2 339.3 560 338C565.8 336.7 570 334.3 575 334C580 333.7 585 336.3 590 336C595 335.7 600 333 605 332C610 331 615 329.3 620 330C625 330.7 630.8 333.5 635 336C639.2 338.5 642.8 341 645 345C647.2 349 648.8 355.5 648 360C647.2 364.5 664.7 370 640 372C615.3 374 524.2 374 500 372C475.8 370 496.7 363.7 495 360C493.3 356.3 489.2 353.3 490 350C490.8 346.7 495 341 500 340Z" fill="#8580c2"/>
<path d="M540 249C542.8 246.5 553.2 248.5 557 247C560.8 245.5 561.2 241.8 563 240C564.8 238.2 565.8 237.5 568 236.5C570.2 235.5 573 235 576 234C579 233 582.3 232.1 586 230.5C589.7 228.9 594 226.2 598 224.5C602 222.8 606 220.7 610 220C614 219.3 618.3 219.8 622 220.5C625.7 221.2 628.7 222.8 632 224.5C635.3 226.2 638.8 228.8 642 230.5C645.2 232.2 648.3 234.2 651 234.5C653.7 234.8 655.2 233.1 658 232C660.8 230.9 664.3 229.2 668 228C671.7 226.8 676.3 225.7 680 225C683.7 224.3 687.3 223.5 690 224C692.7 224.5 696.7 226.2 696 228C695.3 229.8 689 232.5 686 235C683 237.5 680.7 240.2 678 243C675.3 245.8 672 248.8 670 252C668 255.2 665.7 259.3 666 262C666.3 264.7 674.7 267 672 268C669.3 269 662 268 650 268C638 268 615 268.3 600 268C585 267.7 570 267 560 266C550 265 543.3 264.8 540 262C536.7 259.2 537.2 251.5 540 249Z" fill="#8792cc"/>
<path d="M566 244C568.7 241.5 573 241.7 576 241C579 240.3 580.7 240.8 584 240C587.3 239.2 591.7 237.3 596 236C600.3 234.7 605.3 232 610 232C614.7 232 620 234.5 624 236C628 237.5 630.3 239.7 634 241C637.7 242.3 642.7 243.7 646 244C649.3 244.3 653 241 654 243C655 245 654.3 252.2 652 256C649.7 259.8 648.7 264 640 266C631.3 268 612.5 268 600 268C587.5 268 571.7 268 565 266C558.3 264 559.8 259.7 560 256C560.2 252.3 563.3 246.5 566 244Z" fill="#8580c2" filter="url(#bl1)"/>
<path d="M640 372C620 369.3 635.8 361.2 636 356C636.2 350.8 638.5 345.2 641 341C643.5 336.8 648.5 334.7 651 331C653.5 327.3 654 322.3 656 319C658 315.7 659 313.2 663 311C667 308.8 673.8 306 680 306C686.2 306 687.3 309 700 311C712.7 313 746.7 307.8 756 318C765.3 328.2 775.3 363 756 372C736.7 381 660 374.7 640 372Z" fill="#a8609a"/>
<path d="M564 254C565 251.8 568.7 250.2 572 249C575.3 247.8 581 248.5 584 247C587 245.5 587.3 241.7 590 240C592.7 238.3 596.7 237 600 237C603.3 237 607.3 238.2 610 240C612.7 241.8 613 246 616 248C619 250 624 251.7 628 252C632 252.3 636.7 251 640 250C643.3 249 646.3 245 648 246C649.7 247 651.3 253 650 256C648.7 259 644.2 262.2 640 264C635.8 265.8 630 266.8 625 267C620 267.2 614.2 266.5 610 265C605.8 263.5 603.3 258.8 600 258C596.7 257.2 594.2 259.2 590 260C585.8 260.8 579 262.7 575 263C571 263.3 567.8 263.5 566 262C564.2 260.5 563 256.2 564 254Z" fill="#a8609a" filter="url(#bl1)"/>
<path d="M505 258C506.3 256.7 513.5 254.3 518 253C522.5 251.7 527.3 250.6 532 250C536.7 249.4 541.8 249.7 546 249.5C550.2 249.3 554.7 248.4 557 249C559.3 249.6 561.2 251.8 560 253C558.8 254.2 553.3 254.5 550 256C546.7 257.5 542.8 260 540 262C537.2 264 535 267.7 533 268C531 268.3 530.2 265.3 528 264C525.8 262.7 523 260.5 520 260C517 259.5 512.5 261.3 510 261C507.5 260.7 503.7 259.3 505 258Z" fill="#a8609a" filter="url(#bl1)"/>
<path d="M660 228C662.7 226.7 667.7 226.7 672 226C676.3 225.3 683 223.7 686 224C689 224.3 691 226.5 690 228C689 229.5 683.7 231.3 680 233C676.3 234.7 671.3 236.2 668 238C664.7 239.8 662.3 243.3 660 244C657.7 244.7 654.7 243.7 654 242C653.3 240.3 655 236.3 656 234C657 231.7 657.3 229.3 660 228Z" fill="#d84a62" filter="url(#bl1)"/>
<path d="M664 262C664 258.8 666 254.7 668 252C670 249.3 672.3 246.3 676 246C679.7 245.7 687.3 248 690 250C692.7 252 690.3 256 692 258C693.7 260 696.2 262 700 262C703.8 262 710 258 715 258C720 258 723.8 260.3 730 262C736.2 263.7 748.3 266 752 268C755.7 270 754.8 273.5 752 274C749.2 274.5 740.3 271.8 735 271C729.7 270.2 724.2 269.5 720 269.5C715.8 269.5 713.3 270.1 710 271C706.7 271.9 705 274.6 700 275C695 275.4 685.3 274.2 680 273.5C674.7 272.8 670.7 272.9 668 271C665.3 269.1 664 265.2 664 262Z" fill="#a8609a" filter="url(#bl1)"/>
<path d="M668 240C669.3 238 675.5 237.3 680 236C684.5 234.7 690.7 232 695 232C699.3 232 702.2 234.3 706 236C709.8 237.7 715.3 240 718 242C720.7 244 723 246.7 722 248C721 249.3 715.7 250 712 250C708.3 250 703.7 247.7 700 248C696.3 248.3 693.3 251.7 690 252C686.7 252.3 683 250.7 680 250C677 249.3 674 249.7 672 248C670 246.3 666.7 242 668 240Z" fill="#8792cc" filter="url(#bl1)"/>
<path d="M421 262C422.5 256.5 426.8 264 430 265C433.2 266 435.3 267.7 440 268C444.7 268.3 452.8 267.6 458 267C463.2 266.4 466.7 265.2 471 264.5C475.3 263.8 479.8 263.2 484 262.5C488.2 261.8 492 261.3 496 260.5C500 259.7 504 258.8 508 257.5C512 256.2 515.8 254.2 520 253C524.2 251.8 528.7 250.5 533 250C537.3 249.5 542 250.2 546 250C550 249.8 553.8 248.5 557 249C560.2 249.5 561.2 252.5 565 253C568.8 253.5 575.8 253.2 580 252C584.2 250.8 586.7 247.5 590 246C593.3 244.5 597 242.7 600 243C603 243.3 606 245.8 608 248C610 250.2 608.3 254.3 612 256C615.7 257.7 624.5 259 630 258C635.5 257 641.7 252.3 645 250C648.3 247.7 647.5 245.3 650 244C652.5 242.7 657 241.3 660 242C663 242.7 667.3 245.3 668 248C668.7 250.7 665 254.7 664 258C663 261.3 659.3 266 662 268C664.7 270 673.7 269.7 680 270C686.3 270.3 694.2 270.7 700 270C705.8 269.3 709.2 266.5 715 266C720.8 265.5 728.2 266 735 267C741.8 268 752.5 263.2 756 272C759.5 280.8 765.3 312.8 756 320C746.7 327.2 714.3 317 700 315C685.7 313 677.5 308.2 670 308C662.5 307.8 658.3 311 655 314C651.7 317 651.7 323.2 650 326C648.3 328.8 646.7 331.3 645 331C643.3 330.7 642.2 326.8 640 324C637.8 321.2 635.3 316.5 632 314C628.7 311.5 624.5 310.5 620 309C615.5 307.5 608.7 304.5 605 305C601.3 305.5 599.5 310 598 312C596.5 314 597.6 316.7 596 317C594.4 317.3 591.4 314.2 588.5 314C585.6 313.8 581.8 314.5 578.5 315.5C575.2 316.5 572.2 318.8 568.5 320C564.8 321.2 560.2 322.2 556 323C551.8 323.8 547.2 324.5 543.5 324.5C539.8 324.5 536 324.1 533.5 323C531 321.9 528.7 319.8 528.5 318C528.3 316.2 530.6 313.8 532.3 312C534 310.2 537 309.1 538.5 307C540 304.9 541 302.2 541 299.5C541 296.8 540.2 293.2 538.5 290.8C536.8 288.4 533.9 286.1 531 285C528.1 283.9 523.9 283.7 521 284C518.1 284.3 515 285.2 513.5 287C512 288.8 512.1 291.8 512.3 294.5C512.5 297.2 514.6 300.3 514.8 303C515 305.7 515 308.9 513.5 310.8C512 312.7 508.9 314.1 506 314.5C503.1 314.9 499.8 313.8 496 313C492.2 312.2 487.7 310.7 483.5 309.5C479.3 308.3 475.2 307.1 471 305.8C466.8 304.6 462.7 303.3 458.5 302C454.3 300.7 449.1 298.2 446 298C442.9 297.8 442.5 300.5 439.8 300.8C437.1 301.1 433.1 300.5 430 300C426.9 299.5 422.5 304.3 421 298C419.5 291.7 419.5 267.5 421 262Z" fill="#d84a62"/>
<path d="M478 300C480.7 299.7 487.5 302.7 492 303C496.5 303.3 502.3 303.5 505 302C507.7 300.5 507.7 296.7 508 294C508.3 291.3 506 288.2 507 286C508 283.8 511.2 282.2 514 281C516.8 279.8 523.7 278.5 524 279C524.3 279.5 518 281.8 516 284C514 286.2 512.5 289 512 292C511.5 295 513.2 299 513 302C512.8 305 513.2 308.3 511 310C508.8 311.7 503.8 312.2 500 312C496.2 311.8 492 310.2 488 309C484 307.8 477.7 306.5 476 305C474.3 303.5 475.3 300.3 478 300Z" fill="#a8609a" filter="url(#bl1)"/>
<path d="M541.5 299.5C541.1 300.8 540.4 304.9 539 307C537.6 309.1 534.7 310.2 533 312C531.3 313.8 528.8 316.2 529 318C529.2 319.8 531.6 321.9 534 323C536.4 324.1 539.8 324.8 543.5 324.8C547.2 324.9 551.8 324.1 556 323.3C560.2 322.6 564.8 321.6 568.5 320.3C572.2 319.1 575.2 316.8 578.5 315.8C581.8 314.8 585.6 314.1 588.5 314.3C591.4 314.5 594.8 316.6 596 317" fill="none" stroke="#8580c2" stroke-width="3" stroke-linejoin="round" filter="url(#bl1)"/>
<path d="M720 319C721.5 316.3 729 318.8 735 319C741 319.2 752.5 311.2 756 320C759.5 328.8 772 363.3 756 372C740 380.7 674.7 374 660 372C645.3 370 663 362.5 668 360C673 357.5 682.7 357.3 690 357C697.3 356.7 706.7 359.5 712 358C717.3 356.5 719.7 351.8 722 348C724.3 344.2 726.3 339.8 726 335C725.7 330.2 718.5 321.7 720 319Z" fill="#d84a62"/>
<path d="M685 330C687.3 328.5 695 327.5 700 327C705 326.5 712 326 715 327C718 328 719.2 331.2 718 333C716.8 334.8 712.3 336.8 708 338C703.7 339.2 695.7 340.3 692 340C688.3 339.7 687.2 337.7 686 336C684.8 334.3 682.7 331.5 685 330Z" fill="#d84a62"/>
<path d="M533 345C535.2 343.8 540.8 342.3 545 342C549.2 341.7 554.8 342 558 343C561.2 344 564.5 346.5 564 348C563.5 349.5 559 351.3 555 352C551 352.7 543.8 352.5 540 352C536.2 351.5 533.2 350.2 532 349C530.8 347.8 530.8 346.2 533 345Z" fill="#d84a62" filter="url(#bl1)"/>
<path d="M597 337C599 335 607.5 333.2 610 334C612.5 334.8 612.7 339.3 612 342C611.3 344.7 608.3 349.3 606 350C603.7 350.7 599.5 348.2 598 346C596.5 343.8 595 339 597 337Z" fill="#d84a62" filter="url(#bl1)"/>
<path d="M600 342C601.7 340 610 338.3 615 338C620 337.7 625 338.7 630 340C635 341.3 642 343.7 645 346C648 348.3 649.7 352.7 648 354C646.3 355.3 639.7 354.7 635 354C630.3 353.3 625 350.7 620 350C615 349.3 608.3 351.3 605 350C601.7 348.7 598.3 344 600 342Z" fill="#a8609a" filter="url(#bl1)"/>
<path d="M590 242C591 240.3 595 238.3 598 238C601 237.7 605.3 238.7 608 240C610.7 241.3 613.7 244 614 246C614.3 248 612.3 251.3 610 252C607.7 252.7 603 250.7 600 250C597 249.3 593.7 249.3 592 248C590.3 246.7 589 243.7 590 242Z" fill="#d84a62" filter="url(#bl1)"/>
<path d="M593 305C594.3 304 596.3 304.8 600 305C603.7 305.2 610.3 304.8 615 306C619.7 307.2 624.5 309.7 628 312C631.5 314.3 633.7 317 636 320C638.3 323 640 328.7 642 330C644 331.3 646.3 330.3 648 328C649.7 325.7 650 318.8 652 316C654 313.2 657.3 312.3 660 311C662.7 309.7 667.3 306.5 668 308C668.7 309.5 666.2 316 664 320C661.8 324 658.2 328.3 655 332C651.8 335.7 649.2 341 645 342C640.8 343 635 340 630 338C625 336 619.5 331.3 615 330C610.5 328.7 605.5 331.7 603 330C600.5 328.3 601.2 322.7 600 320C598.8 317.3 597.3 315.5 596 314C594.7 312.5 592.5 312.5 592 311C591.5 309.5 591.7 306 593 305Z" fill="#8580c2"/>
<path d="M441 299C441.8 298.5 443.1 295.8 446 296C448.9 296.2 454.3 298.7 458.5 300C462.7 301.3 466.8 302.6 471 303.8C475.2 305.1 479.3 306.3 483.5 307.5C487.7 308.7 492.4 310.2 496 311C499.6 311.8 502.5 312.4 505 312C507.5 311.6 509.8 310.2 511 308.5C512.2 306.8 512.2 304.4 512 302C511.8 299.6 510 296.7 509.8 294C509.6 291.3 509.6 288.1 511 286C512.4 283.9 516.8 282.2 518 281.5" fill="none" stroke="#a8609a" stroke-width="6" stroke-linejoin="round" filter="url(#bl1)"/>
<path d="M441 300C441.8 299.6 443.1 297.2 446 297.5C448.9 297.8 454.3 300.2 458.5 301.5C462.7 302.8 466.8 304.1 471 305.3C475.2 306.6 479.3 307.8 483.5 309C487.7 310.2 492.2 311.7 496 312.5C499.8 313.3 503.2 314.2 506 313.8C508.8 313.4 511.7 311.8 513 310C514.3 308.2 513.8 304.2 514 303" fill="none" stroke="#8580c2" stroke-width="3" stroke-linejoin="round" filter="url(#bl1)"/>
<path d="M436.8 271.6C438.5 271.4 443.1 270.6 446.8 270.1C450.6 269.6 455.1 269.4 459.3 268.6C463.5 267.9 467.6 266.4 471.8 265.6C476 264.8 480.1 264.3 484.3 263.6C488.5 262.9 492.6 262.4 496.8 261.4C501 260.4 505.1 259.1 509.3 257.6C513.5 256.1 517.6 253.8 521.8 252.6C526 251.3 530.1 250.6 534.3 250.1C538.5 249.6 542.9 250 546.8 249.6C550.7 249.2 555.3 248.8 557.8 247.6C560.3 246.4 560.3 244.3 561.8 242.6C563.3 240.9 566 238.4 566.8 237.6" fill="none" stroke="#8792cc" stroke-width="4.6" stroke-linejoin="round"/>
<path d="M436.6 270.2C438.3 269.9 442.9 269.2 446.6 268.7C450.4 268.2 454.9 267.9 459.1 267.2C463.3 266.4 467.4 265 471.6 264.2C475.8 263.4 479.9 262.9 484.1 262.2C488.3 261.5 492.4 261 496.6 260C500.8 259 504.9 257.7 509.1 256.2C513.3 254.7 517.4 252.4 521.6 251.2C525.8 249.9 529.9 249.2 534.1 248.7C538.3 248.2 542.7 248.6 546.6 248.2C550.5 247.8 555.1 247.4 557.6 246.2C560.1 245 560.1 242.9 561.6 241.2C563.1 239.5 565.8 237 566.6 236.2" fill="none" stroke="#92c6e2" stroke-width="1.6" stroke-linejoin="round"/>
<path d="M459.5 270.8C461.6 270.3 467.8 268.6 472 267.8C476.2 267 480.3 266.5 484.5 265.8C488.7 265.1 492.8 264.6 497 263.6C501.2 262.6 505.3 261.3 509.5 259.8C513.7 258.3 517.8 256.1 522 254.8C526.2 253.6 530.3 252.8 534.5 252.3C538.7 251.8 543.1 252.2 547 251.8C550.9 251.4 555.5 251 558 249.8C560.5 248.6 561.3 245.6 562 244.8" fill="none" stroke="#a8609a" stroke-width="1.6" stroke-linejoin="round" filter="url(#bl1)"/>
<path d="M439.8 300.8C441.7 300 442.9 297.8 446 298C449.1 298.2 454.3 300.7 458.5 302C462.7 303.3 466.8 304.6 471 305.8C475.2 307.1 479.3 308.3 483.5 309.5C487.7 310.7 492.2 312.2 496 313C499.8 313.8 503.1 314.9 506 314.5C508.9 314.1 512 312.7 513.5 310.8C515 308.9 515 305.7 514.8 303C514.6 300.3 512.5 297.2 512.3 294.5C512.1 291.8 512 288.8 513.5 287C515 285.2 518.1 284.3 521 284C523.9 283.7 528.1 283.9 531 285C533.9 286.1 536.8 288.4 538.5 290.8C540.2 293.2 541 296.8 541 299.5C541 302.2 540 304.9 538.5 307C537 309.1 534 310.2 532.3 312C530.6 313.8 528.3 316.2 528.5 318C528.7 319.8 531 321.9 533.5 323C536 324.1 539.8 324.5 543.5 324.5C547.2 324.5 551.8 323.8 556 323C560.2 322.2 564.8 321.2 568.5 320C572.2 318.8 575.2 316.5 578.5 315.5C581.8 314.5 585.6 313.8 588.5 314C591.4 314.2 594.2 315.5 596 317C597.8 318.5 598.6 321.2 599 323C599.4 324.8 599.4 326.9 598.5 328C597.6 329.1 595 330 593.5 329.5C592 329 591.9 326.1 589.8 324.8C587.7 323.5 584.1 321.3 581 321.5C577.9 321.7 574.3 324.2 571 326C567.7 327.8 564.8 330.4 561 332C557.2 333.6 552.7 335 548.5 335.8C544.3 336.6 540.2 336.8 536 337C531.8 337.2 527.2 337.7 523.5 337C519.8 336.3 516.8 334.2 513.5 333C510.2 331.8 506.8 330.5 503.5 329.5C500.2 328.5 496.2 327.3 493.5 327C490.8 326.7 489 327.1 487.3 327.5C485.6 327.9 484.8 329.5 483.5 329.5C482.2 329.5 481.9 328.1 479.8 327.5C477.7 326.9 473.5 326.3 471 325.8C468.5 325.3 466.9 325.1 464.8 324.5C462.7 323.9 461.2 322.8 458.5 322C455.8 321.2 451.4 319.7 448.5 319.5C445.6 319.3 442.9 321.2 441 320.8C439.1 320.4 437.5 318.7 437.3 317C437.1 315.3 438.8 312.5 439.8 310.8C440.8 309.1 444.1 307.8 443.5 307C442.9 306.2 437.4 306.5 436 305.8C434.6 305.1 434.2 303.8 434.8 303C435.4 302.2 437.9 301.6 439.8 300.8Z" fill="#8db5dc" stroke="#000" stroke-width="0.7" stroke-linejoin="round"/>
<path d="M446 303C448.3 302 453.8 304 458 305C462.2 306 466.7 307.7 471 309C475.3 310.3 479.8 311.8 484 313C488.2 314.2 492 315.7 496 316.5C500 317.3 504.7 318.8 508 318C511.3 317.2 514.5 314.7 516 312C517.5 309.3 517 305.3 517 302C517 298.7 515.2 294.3 516 292C516.8 289.7 519.7 288.5 522 288C524.3 287.5 527.8 287.7 530 289C532.2 290.3 534.3 293.5 535 296C535.7 298.5 535.2 301.5 534 304C532.8 306.5 529.8 308.5 528 311C526.2 313.5 523 316.5 523 319C523 321.5 525.2 324.5 528 326C530.8 327.5 536.3 327.8 540 328C543.7 328.2 549 326.5 550 327C551 327.5 548.5 330 546 331C543.5 332 539 332.8 535 333C531 333.2 526.2 332.8 522 332C517.8 331.2 514 329.3 510 328C506 326.7 502 325 498 324C494 323 490 322.5 486 322C482 321.5 478 321.7 474 321C470 320.3 466 319 462 318C458 317 453 316.2 450 315C447 313.8 444.7 313 444 311C443.3 309 443.7 304 446 303Z" fill="#92c6e2"/>
<path d="M450 307C452.3 306.7 458 308 462 309C466 310 470 311.8 474 313C478 314.2 482 315 486 316C490 317 494.3 318.2 498 319C501.7 319.8 507 320.2 508 321C509 321.8 506.7 323.8 504 324C501.3 324.2 496 322.8 492 322C488 321.2 484 319.8 480 319C476 318.2 472 317.8 468 317C464 316.2 459.3 315 456 314C452.7 313 449 312.2 448 311C447 309.8 447.7 307.3 450 307Z" fill="#99dce8" filter="url(#bl1)"/>
<path d="M463.5 277.5C463.7 276.2 463.9 273.9 466 272.5C468.1 271.1 472.2 269.9 476 268.8C479.8 267.7 484.8 266.8 488.5 266C492.2 265.2 495.6 264.7 498.5 263.8C501.4 262.9 503.1 261.2 506 260.5C508.9 259.8 513.1 258.9 516 259.5C518.9 260.1 521.8 261.9 523.5 263.8C525.2 265.7 524.8 269.6 526 271C527.2 272.4 529.8 273.1 531 272.5C532.2 271.9 531.8 269.4 533.5 267.5C535.2 265.6 538.1 263.1 541 261C543.9 258.9 548.1 256.2 551 255C553.9 253.8 556.5 253.3 558.5 253.5C560.5 253.7 562.4 254.8 563 256C563.6 257.2 561.7 259.7 562 260.5C562.3 261.3 562.7 261.2 565 261C567.3 260.8 572.5 259.9 576 259.5C579.5 259.1 584 260 586.3 258.8C588.6 257.6 588.5 253.8 590 252.5C591.5 251.2 593.5 250.7 595 251.3C596.5 251.9 597.1 254.6 598.8 256.3C600.5 258 602.9 260.1 605 261.3C607.1 262.6 609.2 263.8 611.3 263.8C613.4 263.8 614.8 261.1 617.5 261.3C620.2 261.5 623.8 264.8 627.5 265C631.2 265.2 636.7 263.8 640 262.5C643.3 261.2 646 259.6 647.5 257.5C649 255.4 648.2 251.9 648.8 250C649.4 248.1 649.8 247.2 651.3 246.3C652.8 245.4 655.4 244.3 657.5 244.5C659.6 244.7 662.3 246.2 663.8 247.5C665.3 248.8 666.7 250.6 666.3 252.5C665.9 254.4 662.3 256.5 661.3 258.8C660.2 261.1 659.4 264.4 660 266.3C660.6 268.2 662.1 269.5 665 270.5C667.9 271.5 673.3 271.9 677.5 272.5C681.7 273.1 686 273.6 690 273.8C694 274 698 274.4 701.3 273.8C704.6 273.2 706.9 270.8 710 270C713.1 269.2 715.8 268.7 720 268.8C724.2 268.9 730.8 269.7 735 270.5C739.2 271.3 741.5 272.9 745 273.8C748.5 274.7 754.2 268.6 756 276C757.8 283.4 758.7 311.2 756 318C753.3 324.8 744.3 317.2 740 317C735.7 316.8 733.3 316.8 730 316.5C726.7 316.2 722.9 315.6 720 315C717.1 314.4 715 313.5 712.5 313C710 312.5 707.5 312.6 705 312C702.5 311.4 700.4 310.5 697.5 309.5C694.6 308.5 690.8 306.7 687.5 305.8C684.2 304.9 680.4 304 677.5 304C674.6 304 672.8 304.9 670 305.8C667.2 306.7 663.9 308.5 661 309.5C658.1 310.5 654.3 310.8 652.5 312C650.7 313.2 650.6 314.9 650 317C649.4 319.1 649.5 322.5 648.8 324.5C648.1 326.5 647 328.5 646 329C645 329.5 643.7 328.9 642.5 327.5C641.3 326.1 640.2 323.2 638.8 320.8C637.3 318.4 636.1 315.1 633.8 313C631.5 310.9 628.1 309.7 625 308C621.9 306.3 618.2 304.1 615 303C611.8 301.9 608.9 301.7 606 301.5C603.1 301.3 599.7 301.4 597.5 302C595.3 302.6 594.7 305.2 593 305C591.3 304.8 590.5 300.7 587.5 300.8C584.5 300.9 578.8 304.7 575 305.8C571.2 306.9 568.2 307 565 307.5C561.8 308 558.3 309 556 309C553.7 309 551.5 308.5 551 307.5C550.5 306.5 552.2 304.4 553 303C553.8 301.6 556.2 300.3 556 299C555.8 297.7 553.2 295.4 552 295C550.8 294.6 549.9 296.9 548.5 296.3C547.1 295.7 545.2 293.2 543.5 291.3C541.8 289.4 540.6 286.9 538.5 285C536.4 283.1 533.9 281.2 531 280C528.1 278.8 524.8 278.3 521 277.5C517.2 276.7 512.7 275.6 508.5 275C504.3 274.4 500.2 274.2 496 273.8C491.8 273.4 487.2 272.3 483.5 272.5C479.8 272.7 475.6 273.9 473.5 275C471.4 276.1 472.4 278 471 278.8C469.6 279.6 466.1 280.2 464.8 280C463.6 279.8 463.3 278.8 463.5 277.5Z" fill="#ff3434" stroke="#000" stroke-width="0.7" stroke-linejoin="round"/>
<path d="M531 273C531.5 271.3 535 268.1 538 266C541 263.9 545 261 549 260.5C553 260 557.7 262.7 562 263C566.3 263.3 570.7 262.7 575 262.5C579.3 262.3 584.5 262.8 588 262C591.5 261.2 593.7 257.8 596 258C598.3 258.2 599.3 261.5 602 263C604.7 264.5 608 266.2 612 267C616 267.8 621.3 268.2 626 268C630.7 267.8 636 267 640 266C644 265 647.7 264.3 650 262C652.3 259.7 652.5 254 654 252C655.5 250 657.8 249.3 659 250C660.2 250.7 661.3 253.7 661 256C660.7 258.3 657.2 261.5 657 264C656.8 266.5 657.5 269.2 660 271C662.5 272.8 667 274 672 275C677 276 684.5 276.8 690 277C695.5 277.2 700 276.8 705 276C710 275.2 714.5 272.3 720 272C725.5 271.7 732 272.8 738 274C744 275.2 753 272.7 756 279C759 285.3 758.7 306.3 756 312C753.3 317.7 745.2 313.2 740 313C734.8 312.8 730 311.7 725 311C720 310.3 714.2 310 710 309C705.8 308 703.7 306.3 700 305C696.3 303.7 692 301.8 688 301C684 300.2 680 299.5 676 300C672 300.5 668 303 664 304C660 305 656 306.3 652 306C648 305.7 644 303 640 302C636 301 632.3 300.8 628 300C623.7 299.2 618.7 297.7 614 297C609.3 296.3 604 296.7 600 296C596 295.3 593.3 294.5 590 293C586.7 291.5 583 289.2 580 287C577 284.8 575.3 281.3 572 280C568.7 278.7 564 278.7 560 279C556 279.3 551.3 281.8 548 282C544.7 282.2 542.2 281 540 280C537.8 279 536.5 277.2 535 276C533.5 274.8 530.5 274.7 531 273Z" fill="#ff5226"/>
<path d="M560 268C562.2 267 570 266 575 266C580 266 585.8 266.8 590 268C594.2 269.2 600 271.7 600 273C600 274.3 594.2 276 590 276C585.8 276 579.7 273.7 575 273C570.3 272.3 564.5 272.8 562 272C559.5 271.2 557.8 269 560 268Z" fill="#ff3434" opacity="0.7" filter="url(#bl1)"/>
<path d="M610 280C613 278.8 623.3 277.7 630 278C636.7 278.3 644.2 280.3 650 282C655.8 283.7 665 286.7 665 288C665 289.3 655.8 290.2 650 290C644.2 289.8 636.3 287.8 630 287C623.7 286.2 615.3 286.2 612 285C608.7 283.8 607 281.2 610 280Z" fill="#ff3434" opacity="0.6" filter="url(#bl1)"/>
<path d="M690 290C693 289.3 703.3 290.7 710 292C716.7 293.3 724.2 296 730 298C735.8 300 745 302.8 745 304C745 305.2 735.8 305.7 730 305C724.2 304.3 716.3 301.5 710 300C703.7 298.5 695.3 297.7 692 296C688.7 294.3 687 290.7 690 290Z" fill="#ff3434" opacity="0.6" filter="url(#bl1)"/>
<path d="M606 274C608.7 272.5 614.3 272 620 272C625.7 272 634.3 272.7 640 274C645.7 275.3 650.7 277.3 654 280C657.3 282.7 659.5 286.5 660 290C660.5 293.5 658.7 298.2 657 301C655.3 303.8 652.8 306.8 650 307C647.2 307.2 643.7 303.3 640 302C636.3 300.7 632 300 628 299C624 298 619.3 297.5 616 296C612.7 294.5 610 292.5 608 290C606 287.5 604.3 283.7 604 281C603.7 278.3 603.3 275.5 606 274Z" fill="#ff3434" opacity="0.85" filter="url(#bl1)"/>
<path d="M540 282C542 280.5 547.7 281.2 552 281C556.3 280.8 561.7 280.3 566 281C570.3 281.7 574.3 283.2 578 285C581.7 286.8 587 289.8 588 292C589 294.2 586.7 296.7 584 298C581.3 299.3 576 299.7 572 300C568 300.3 564 300.7 560 300C556 299.3 551.3 297.7 548 296C544.7 294.3 541.3 292.3 540 290C538.7 287.7 538 283.5 540 282Z" fill="#ff3434" opacity="0.6" filter="url(#bl1)"/>
<path d="M449.5 290C449.5 288.8 451.9 287.2 454 286.5C456.1 285.8 459.2 285.5 462 285.5C464.8 285.5 468.7 285.8 471 286.5C473.3 287.2 475.8 288.8 475.8 290C475.8 291.2 473.3 293 471 293.8C468.7 294.6 464.8 295 462 295C459.2 295 456.1 294.8 454 294C451.9 293.2 449.5 291.2 449.5 290Z" fill="#ff3434" stroke="#000" stroke-width="0.7" stroke-linejoin="round"/>
<path d="M588.5 300C589.3 300.2 593.1 302.2 595 304.5C596.9 306.8 599.8 312.8 600 313.5C600.2 314.2 598.2 310.2 596.5 308.5C594.8 306.8 591.3 304.4 590 303C588.7 301.6 587.7 299.8 588.5 300Z" fill="#ff3434" stroke="#000" stroke-width="0.5" stroke-linejoin="round"/>
<path d="M605.5 318C605.8 317.2 607.8 316.2 609 316C610.2 315.8 612.2 316.3 612.5 317C612.8 317.7 611.9 319.4 611 320C610.1 320.6 607.9 320.8 607 320.5C606.1 320.2 605.2 318.8 605.5 318Z" fill="#ff3434" stroke="#000" stroke-width="0.5" stroke-linejoin="round"/>
<path d="M552.5 286C553.2 284.2 555 283.1 557.3 282.5C559.5 281.9 563.5 281.9 566 282.5C568.5 283.1 570.8 284.6 572.3 286.3C573.8 288 575 290.6 574.8 292.5C574.6 294.4 572.9 296.4 571 297.5C569.1 298.6 565.8 298.8 563.5 298.8C561.2 298.8 559 298.5 557.3 297.5C555.5 296.5 553.8 294.9 553 293C552.2 291.1 551.8 287.8 552.5 286Z" fill="#d84a62" stroke="#000" stroke-width="0.7" stroke-linejoin="round"/>
<path d="M630.5 294C630.8 292.8 631.8 290.8 633 290C634.2 289.2 636.2 288.7 637.5 289C638.8 289.3 640.2 290.7 641 292C641.8 293.3 642.3 295.6 642 297C641.7 298.4 640.3 300 639 300.5C637.7 301 635.3 300.5 634 300C632.7 299.5 631.6 298.5 631 297.5C630.4 296.5 630.2 295.2 630.5 294Z" fill="#d84a62" stroke="#000" stroke-width="0.7" stroke-linejoin="round"/>
<path d="M436 269C437.7 268.8 442.2 268 446 267.5C449.8 267 454.3 266.8 458.5 266C462.7 265.2 466.8 263.8 471 263C475.2 262.2 479.3 261.7 483.5 261C487.7 260.3 491.8 259.8 496 258.8C500.2 257.8 504.3 256.5 508.5 255C512.7 253.5 516.8 251.2 521 250C525.2 248.8 529.3 248 533.5 247.5C537.7 247 542.1 247.4 546 247C549.9 246.6 554.5 246.2 557 245C559.5 243.8 559.5 241.7 561 240C562.5 238.3 564.1 236.2 566 235C567.9 233.8 569.3 233.5 572.5 232.5C575.7 231.5 580.8 230.5 585 228.8C589.2 227.1 593.3 224.3 597.5 222.5C601.7 220.7 605.8 218.6 610 218C614.2 217.4 618.8 218.1 622.5 218.8C626.2 219.6 629.2 220.8 632.5 222.5C635.8 224.2 639.4 227.1 642.5 228.8C645.6 230.5 649 232.3 651.3 232.5C653.6 232.7 656.2 231 656.3 230C656.4 229 651.8 227.6 652 226.3C652.2 225.1 654.9 223.6 657.5 222.5C660.1 221.4 665 220.8 667.5 220C670 219.2 673.2 218.1 672.5 217.5C671.8 216.9 663.4 216.8 663 216.3C662.6 215.8 666.3 214.7 670 214.5C673.7 214.3 680 214.7 685 215C690 215.3 695.4 215.7 700 216.3C704.6 216.9 709.2 217.8 712.5 218.8C715.8 219.8 717.1 221.2 720 222.5C722.9 223.8 727.1 224.8 730 226.3C732.9 227.8 735.8 229.6 737.5 231.3C739.2 233 738.3 235.1 740 236.3C741.7 237.6 745.5 237.8 747.5 238.8C749.5 239.8 751.2 241.9 752 242.5" fill="none" stroke="#000" stroke-width="0.7" stroke-linejoin="round"/>
<path d="M626 237.5C627.1 237.2 631.2 240.2 634 241C636.8 241.8 641.3 241.2 642.5 242.5C643.7 243.8 642.4 248.2 641 248.8C639.6 249.4 636.2 247.1 634 246C631.8 244.9 628.8 243.9 627.5 242.5C626.2 241.1 624.9 237.8 626 237.5Z" fill="#8db5dc" stroke="#000" stroke-width="0.7" stroke-linejoin="round"/>
<path d="M685 263.8C684 264.4 683.6 265.3 684 266C684.4 266.7 685.7 268 687.5 268C689.3 268 693.1 267.2 695 266C696.9 264.8 697.1 262.8 698.8 261C700.5 259.2 702.3 256.4 705 255C707.7 253.6 714.6 253.3 715 252.5C715.4 251.7 710.4 250.5 707.5 250C704.6 249.5 700.2 248.9 697.5 249.5C694.8 250.1 691.4 252.2 691 253.8C690.6 255.4 695.2 257.4 695 258.8C694.8 260.2 691.7 261.7 690 262.5C688.3 263.3 686 263.2 685 263.8Z" fill="#92c6e2" stroke="#000" stroke-width="0.7" stroke-linejoin="round"/>
<path d="M706 229.5C706.3 228.6 709.9 227.3 712 227C714.1 226.7 717.8 226.8 718.5 227.5C719.2 228.2 717.4 230.2 716 231C714.6 231.8 711.7 232.8 710 232.5C708.3 232.2 705.7 230.4 706 229.5Z" fill="#99eef2" stroke="#000" stroke-width="0.7" stroke-linejoin="round"/>
<path d="M656.3 230C657.8 229.6 661.9 228.2 665 227.5C668.1 226.8 671.2 226.8 675 226C678.8 225.2 684 223.5 687.5 222.5C691 221.5 693.9 219.8 696 220C698.1 220.2 700.2 222.3 700 223.8C699.8 225.3 697.5 226.9 695 228.8C692.5 230.7 687.7 232.7 685 235C682.3 237.3 679.1 240.8 678.8 242.5C678.5 244.2 680.3 245 683 245C685.7 245 690.5 243.3 695 242.5C699.5 241.7 705.8 240 710 240C714.2 240 718.2 241.1 720 242.5C721.8 243.9 721.8 247 721 248.5C720.2 250 714.3 250.6 715 251.5C715.7 252.4 722.5 253 725 253.8C727.5 254.6 729.2 255.9 730 256.3" fill="none" stroke="#000" stroke-width="0.7" stroke-linejoin="round"/>
<path d="M566 237.5C567.5 237.1 572 235.5 575 235C578 234.5 582.1 233.2 583.8 234.5C585.5 235.8 585.2 239.9 585 242.5C584.8 245.1 582.5 247.9 582.5 250C582.5 252.1 584.6 254.2 585 255" fill="none" stroke="#000" stroke-width="0.7" stroke-linejoin="round"/>
<path d="M421 344.5C422.2 344.1 426.4 342.2 428.5 342C430.6 341.8 431.4 343.8 433.5 343C435.6 342.2 438.1 338.8 441 337C443.9 335.2 448.1 333 451 332C453.9 331 456.8 330.4 458.5 330.8C460.2 331.2 461.2 333.1 461 334.5C460.8 335.9 456.9 338.4 457.3 339.5C457.7 340.6 460.8 341.2 463.5 340.8C466.2 340.4 470.6 338.3 473.5 337C476.4 335.7 479.3 334.2 481 333C482.7 331.8 483.1 330.1 483.5 329.5" fill="none" stroke="#000" stroke-width="0.7" stroke-linejoin="round"/>
<path d="M426 348C426.4 349.5 428.7 354.2 428.5 357C428.3 359.8 425.4 363.2 424.8 364.5" fill="none" stroke="#000" stroke-width="0.7" stroke-linejoin="round"/>
<path d="M478.5 350.8C480.2 350.3 484.3 348.2 488.5 348C492.7 347.8 499.3 349.2 503.5 349.5C507.7 349.8 511.2 348.7 513.5 349.5C515.8 350.3 516 354.5 517 354.5C518 354.5 517.9 349.8 519.8 349.5C521.7 349.2 525.4 351.3 528.5 353C531.6 354.7 535.2 357.6 538.5 359.5C541.8 361.4 545.4 363.4 548.5 364.5C551.6 365.6 554.1 366.4 557 365.8C559.9 365.2 563.7 362.1 566 360.8C568.3 359.5 571.4 358.6 571 358C570.6 357.4 564.8 357.2 563.5 357" fill="none" stroke="#000" stroke-width="0.7" stroke-linejoin="round"/>
<path d="M474.8 372C472.4 370.5 476.6 364.9 478.5 363C480.4 361.1 483.3 361 486 360.8C488.7 360.6 492.9 361.2 494.8 362C496.7 362.8 497.6 364.1 497.3 365.8C497 367.5 496.8 371 493 372C489.2 373 477.2 373.5 474.8 372Z" fill="#8aa4d6" stroke="#000" stroke-width="0.7" stroke-linejoin="round"/>
<g fill="#808080" transform="translate(381.6 197.8)">
<path d="M39 78.6H55.4V84.3H39Z" fill="#fff"/>
<path d="M39.5 7.5L45.9 7.5L45.6 11.9L44.6 13.5L43.2 15.8L42.6 18L41.6 19.8L40.8 21.5L39.5 22Z"/>
<path d="M63.6 7.5L84 7.5L85.5 10.5L87.3 14.2L85 14.6L80.7 13.4L77 14.2L74.2 15.8L71.5 18.5L69.5 21.1L68 23.5L67.6 25.7L69 27.8L70.9 29.7L72.5 31.8L74.2 33.6L76.5 34L78.8 34.5L79.3 37L79.2 40.2L77.4 40.4L77.2 38L77 36.2L75 35.8L73.5 35.6L71 35L68.9 34.9L67 36.5L65.6 38.2L64.4 40L63 41.5L61.6 40.8L61 39.5L60.3 37.5L60.3 35.6L61.2 33L62.3 30.3L62.8 28.3L63 26.4L63.8 25L64.3 23.7L63.2 21.8L62.3 19.8L61.8 18L61.7 16.5L62.3 14L63 11.9L63.4 9.6Z"/>
<path d="M58.4 45.7L63.6 45.7L66 48.5L68.9 51.2L73.5 53.4L78.1 55.1L82.7 56.6L87.3 57.8L90.6 58.3L93.9 58.4L96.4 56.8L98.7 55L97.6 57.5L96.5 59.7L98.5 61.5L101.3 63.5L97.5 64.5L93.9 65L90 65.4L86 65.7L83.2 66.5L80.7 67.6L79 70L78.1 72.6L75.5 73.4L73.5 73.4L71.5 72.6L66.9 70.9L62.3 69.3L58.4 68.6L55.1 69.3L51.8 70.6L49.2 70.3L45.9 69.3L43.9 70L42.9 71.9L45.9 72.6L49.2 73.6L52.1 74.9L49.2 75.4L45.9 75.9L43.9 77.5L41.9 78.2L39.5 77.2L39.5 67.3L41.3 68.5L43.9 66.3L45.2 63.7L47.8 64.2L50.5 64.3L53 63L55.1 61.7L56.2 59.4L57.1 57.1L58.4 55L59.7 53.2L59.4 51L59 49.2L58.2 47.5Z"/>
<path d="M39.5 83.8L42 83L43.2 80.5L46.5 80.1L47.2 82.4L49.2 83.8L52 83.2L54 82.3L54.5 80.5L52.5 80.1L49.5 80.3L49.2 78.8L52.4 78.2L56.4 78.5L55.6 80.3L55.8 82.4L56.7 84L57.7 85.7L59 87.2L60.3 88.4L61.5 90.5L62.2 93L62.5 95.7L60.5 97.3L58.4 98.4L55.5 100L53.1 101.7L51 103.5L50 106L49.8 108.2L50.3 110.5L51.1 112.8L49.8 115L48.5 116.8L47.8 119.5L47.2 122L46 124.5L44.6 126.7L43.3 128.5L41.9 130L39.5 131.5Z"/>
<path d="M98.8 59.6L101 57.7L104 55.8L108 53.6L108.4 54.3L105 56.6L102 58.5L99.4 60.3Z"/>
<path d="M116 53.6L119 51.8L122 50.3L125 48.6L128 47.3L131 46.1L134 45.2L137 44.5L137.2 45.2L134 46.1L130 47.7L126.5 49.3L123 50.9L120 52.6L116.6 54.3Z"/>
<path d="M142.5 42.6L145 41.7L148 40.7L150.5 39.9L153 39.2L153.2 39.9L150.5 40.7L148 41.5L145.5 42.4L142.8 43.3Z"/>
<path d="M107.8 60.6L108.8 60.6L108.8 61.4L107.8 61.4Z"/>
<path d="M112.8 58.6L113.8 58.6L113.8 59.4L112.8 59.4Z"/>
<path d="M168 33.5L170 32.8L172.4 32.2L172.6 32.8L170 33.5L168.2 34.1Z"/>
<path d="M182.8 23.4L184.5 23.1L184.7 24.2L183 24.5Z"/>
<path d="M193.4 16.4L195 15.5L196.6 14.8L197 15.7L195.2 16.6L193.7 17.3Z"/>
<path d="M199.4 13.8L201 12.8L203 11.8L203.4 12.7L201.3 13.7L199.8 14.7Z"/>
</g>
</g>
<path d="M421.2 205.3H750.9V368.7H421.2ZM421.2 205.3v-6.5M421.2 368.7v6.5M443.2 205.3v-6.5M443.2 368.7v6.5M465.2 205.3v-6.5M465.2 368.7v6.5M487.1 205.3v-6.5M487.1 368.7v6.5M509.1 205.3v-6.5M509.1 368.7v6.5M531.1 205.3v-6.5M531.1 368.7v6.5M553.1 205.3v-6.5M553.1 368.7v6.5M575.1 205.3v-6.5M575.1 368.7v6.5M597 205.3v-6.5M597 368.7v6.5M619 205.3v-6.5M619 368.7v6.5M641 205.3v-6.5M641 368.7v6.5M663 205.3v-6.5M663 368.7v6.5M685 205.3v-6.5M685 368.7v6.5M706.9 205.3v-6.5M706.9 368.7v6.5M728.9 205.3v-6.5M728.9 368.7v6.5M750.9 205.3v-6.5M750.9 368.7v6.5M421.2 205.3h-6.5M750.9 205.3h6.5M421.2 221.6h-6.5M750.9 221.6h6.5M421.2 238h-6.5M750.9 238h6.5M421.2 254.3h-6.5M750.9 254.3h6.5M421.2 270.7h-6.5M750.9 270.7h6.5M421.2 287h-6.5M750.9 287h6.5M421.2 303.3h-6.5M750.9 303.3h6.5M421.2 319.7h-6.5M750.9 319.7h6.5M421.2 336h-6.5M750.9 336h6.5M421.2 352.4h-6.5M750.9 352.4h6.5M421.2 368.7h-6.5M750.9 368.7h6.5" fill="none" stroke="#444" stroke-width="0.85"/>
<g opacity="0.999"><text x="422.1" y="389.8" text-anchor="middle" class="tk">140°E</text>
<text x="466.1" y="389.8" text-anchor="middle" class="tk">144°E</text>
<text x="510" y="389.8" text-anchor="middle" class="tk">148°E</text>
<text x="554" y="389.8" text-anchor="middle" class="tk">152°E</text>
<text x="597.9" y="389.8" text-anchor="middle" class="tk">156°E</text>
<text x="641.9" y="389.8" text-anchor="middle" class="tk">160°E</text>
<text x="685.9" y="389.8" text-anchor="middle" class="tk">164°E</text>
<text x="729.8" y="389.8" text-anchor="middle" class="tk">168°E</text>
<text x="409.3" y="372.7" text-anchor="end" class="tk">30°N</text>
<text x="409.3" y="340" text-anchor="end" class="tk">34°N</text>
<text x="409.3" y="307.3" text-anchor="end" class="tk">38°N</text>
<text x="409.3" y="274.7" text-anchor="end" class="tk">42°N</text>
<text x="409.3" y="242" text-anchor="end" class="tk">46°N</text>
<text x="409.3" y="209.3" text-anchor="end" class="tk">50°N</text>
<text x="461.8" y="224.7" class="tt">d)</text>
<text x="484.7" y="224.7" class="tt">1</text>
<text x="501.3" y="224.7" class="tt">year</text></g>
<!-- colorbar -->
<g opacity="0.999"><rect x="37.4" y="396.2" width="33.9" height="15.2" fill="#ffffff"/>
<rect x="71" y="396.2" width="33.9" height="15.2" fill="#ccfdfd"/>
<rect x="104.7" y="396.2" width="33.9" height="15.2" fill="#99fcfc"/>
<rect x="138.3" y="396.2" width="33.9" height="15.2" fill="#99eef2"/>
<rect x="171.9" y="396.2" width="33.9" height="15.2" fill="#99dce8"/>
<rect x="205.6" y="396.2" width="33.9" height="15.2" fill="#92c6e2"/>
<rect x="239.2" y="396.2" width="33.9" height="15.2" fill="#8db5dc"/>
<rect x="272.8" y="396.2" width="33.9" height="15.2" fill="#8aa4d6"/>
<rect x="306.4" y="396.2" width="33.9" height="15.2" fill="#8792cc"/>
<rect x="340.1" y="396.2" width="33.9" height="15.2" fill="#8580c2"/>
<rect x="373.7" y="396.2" width="33.9" height="15.2" fill="#a8609a"/>
<rect x="407.3" y="396.2" width="33.9" height="15.2" fill="#d84a62"/>
<rect x="441" y="396.2" width="33.9" height="15.2" fill="#ff3434"/>
<rect x="474.6" y="396.2" width="33.9" height="15.2" fill="#ff5226"/>
<rect x="508.2" y="396.2" width="33.9" height="15.2" fill="#ff7016"/>
<rect x="541.9" y="396.2" width="33.9" height="15.2" fill="#ff8c08"/>
<rect x="575.5" y="396.2" width="33.9" height="15.2" fill="#ffa600"/>
<rect x="609.1" y="396.2" width="33.9" height="15.2" fill="#ffc000"/>
<rect x="642.7" y="396.2" width="33.9" height="15.2" fill="#ffd800"/>
<rect x="676.4" y="396.2" width="33.9" height="15.2" fill="#ffec00"/>
<path d="M710 396.2L744.5 403.8L710 411.4Z" fill="#ffff00"/>
<path d="M37.4 396.2H710L744.5 403.8L710 411.4H37.4ZM71 396.2V411.4M104.7 396.2V411.4M138.3 396.2V411.4M171.9 396.2V411.4M205.6 396.2V411.4M239.2 396.2V411.4M272.8 396.2V411.4M306.4 396.2V411.4M340.1 396.2V411.4M373.7 396.2V411.4M407.3 396.2V411.4M441 396.2V411.4M474.6 396.2V411.4M508.2 396.2V411.4M541.9 396.2V411.4M575.5 396.2V411.4M609.1 396.2V411.4M642.7 396.2V411.4M676.4 396.2V411.4M710 396.2V411.4" fill="none" stroke="#444" stroke-width="0.8" stroke-opacity="0.75"/>
<text x="23.6" y="427.1" class="cb">1x10<tspan dy="-6.6" font-size="9.2">-6</tspan></text>
<text x="158.1" y="427.1" class="cb">1x10<tspan dy="-6.6" font-size="9.2">-5</tspan></text>
<text x="292.6" y="427.1" class="cb">1x10<tspan dy="-6.6" font-size="9.2">-4</tspan></text>
<text x="427.2" y="427.1" class="cb">1x10<tspan dy="-6.6" font-size="9.2">-3</tspan></text>
<text x="561.7" y="427.1" class="cb">1x10<tspan dy="-6.6" font-size="9.2">-2</tspan></text>
<text x="696.2" y="427.1" class="cb">1x10<tspan dy="-6.6" font-size="9.2">-1</tspan></text></g>
</svg>
</body></html>
